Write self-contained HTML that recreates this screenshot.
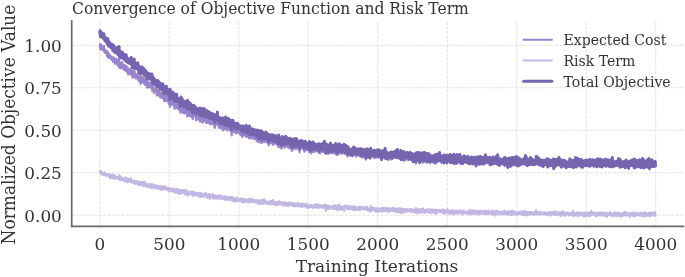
<!DOCTYPE html>
<html><head><meta charset="utf-8"><style>
html,body{margin:0;padding:0;background:#fff;}
svg{display:block;}
text{font-family:"DejaVu Serif","Liberation Serif",serif;fill:#333;}
</style></head><body>
<svg width="685" height="277" viewBox="0 0 685 277">
<rect width="685" height="277" fill="#fff"/>
<g stroke="#dcdcdc" stroke-width="0.85" stroke-dasharray="3.12 1.35" fill="none"><line x1="72.0" y1="215.20" x2="683.4" y2="215.20"/><line x1="72.0" y1="172.72" x2="683.4" y2="172.72"/><line x1="72.0" y1="130.25" x2="683.4" y2="130.25"/><line x1="72.0" y1="87.78" x2="683.4" y2="87.78"/><line x1="72.0" y1="45.30" x2="683.4" y2="45.30"/><line x1="99.79" y1="226.3" x2="99.79" y2="20.8"/><line x1="169.29" y1="226.3" x2="169.29" y2="20.8"/><line x1="238.78" y1="226.3" x2="238.78" y2="20.8"/><line x1="308.27" y1="226.3" x2="308.27" y2="20.8"/><line x1="377.77" y1="226.3" x2="377.77" y2="20.8"/><line x1="447.26" y1="226.3" x2="447.26" y2="20.8"/><line x1="516.76" y1="226.3" x2="516.76" y2="20.8"/><line x1="586.25" y1="226.3" x2="586.25" y2="20.8"/><line x1="655.75" y1="226.3" x2="655.75" y2="20.8"/></g>
<g fill="none" stroke-linejoin="round" stroke-linecap="butt"><polyline stroke="#9a84cc" stroke-width="2.1" points="99.79,44.56 99.93,47.24 100.07,44.06 100.21,43.87 100.35,49.44 100.49,48.39 100.62,45.88 100.76,46.88 100.90,46.48 101.04,48.21 101.18,45.13 101.32,45.49 101.46,46.98 101.60,45.16 101.74,46.56 101.88,49.20 102.01,47.07 102.15,49.71 102.29,46.44 102.43,48.34 102.57,48.76 102.71,49.84 102.85,46.45 102.99,49.18 103.13,49.85 103.27,49.87 103.40,48.38 103.54,48.85 103.68,48.92 103.82,49.05 103.96,46.01 104.10,50.93 104.24,51.28 104.38,52.00 104.52,49.49 104.66,48.68 104.79,51.16 104.93,52.67 105.07,52.80 105.21,50.20 105.35,50.18 105.49,50.70 105.63,53.11 105.77,51.59 105.91,51.95 106.05,51.91 106.18,50.84 106.32,52.20 106.46,51.50 106.60,52.79 106.74,52.52 106.88,52.03 107.02,56.08 107.16,54.09 107.30,54.52 107.44,54.98 107.57,54.44 107.71,51.27 107.85,55.83 107.99,52.54 108.13,57.63 108.27,55.25 108.41,54.46 108.55,53.80 108.69,53.70 108.83,53.68 108.96,55.95 109.10,56.29 109.24,53.96 109.38,56.05 109.52,58.21 109.66,58.07 109.80,57.80 109.94,55.28 110.08,56.07 110.22,55.17 110.35,57.39 110.49,56.42 110.63,55.67 110.77,57.54 110.91,56.24 111.05,58.45 111.19,58.02 111.33,58.18 111.47,59.82 111.60,56.80 111.74,58.71 111.88,57.93 112.02,57.18 112.16,57.37 112.30,57.08 112.44,58.63 112.58,59.35 112.72,58.83 112.86,61.96 112.99,61.63 113.13,61.52 113.27,61.03 113.41,58.53 113.55,61.09 113.69,60.23 113.83,57.21 113.97,60.42 114.11,58.49 114.25,61.73 114.38,60.49 114.52,62.00 114.66,60.97 114.80,58.88 114.94,63.80 115.08,59.87 115.22,60.35 115.36,62.02 115.50,63.73 115.64,61.01 115.77,62.24 115.91,60.93 116.05,61.44 116.19,58.60 116.33,62.15 116.47,63.73 116.61,61.59 116.75,61.63 116.89,59.61 117.03,60.70 117.16,61.71 117.30,59.75 117.44,64.82 117.58,63.90 117.72,64.55 117.86,63.65 118.00,65.61 118.14,61.96 118.28,63.67 118.42,66.11 118.55,65.37 118.69,62.99 118.83,62.12 118.97,60.06 119.11,58.45 119.25,63.23 119.39,65.96 119.53,68.21 119.67,63.83 119.81,65.95 119.94,65.32 120.08,65.79 120.22,65.02 120.36,62.87 120.50,64.67 120.64,65.37 120.78,67.11 120.92,68.41 121.06,66.29 121.20,65.59 121.33,62.29 121.47,65.45 121.61,63.96 121.75,66.84 121.89,68.22 122.03,67.91 122.17,67.57 122.31,62.34 122.45,67.95 122.59,64.95 122.72,68.31 122.86,64.99 123.00,66.11 123.14,67.22 123.28,67.11 123.42,68.36 123.56,66.40 123.70,68.19 123.84,69.73 123.98,69.93 124.11,67.32 124.25,64.79 124.39,67.54 124.53,68.17 124.67,67.51 124.81,65.70 124.95,67.84 125.09,69.11 125.23,66.38 125.36,67.74 125.50,65.78 125.64,68.40 125.78,71.13 125.92,71.50 126.06,65.96 126.20,65.92 126.34,69.58 126.48,70.06 126.62,66.71 126.75,71.61 126.89,71.31 127.03,68.54 127.17,70.58 127.31,69.95 127.45,70.34 127.59,69.50 127.73,67.60 127.87,70.16 128.01,69.23 128.14,74.36 128.28,70.72 128.42,72.30 128.56,73.10 128.70,72.56 128.84,71.64 128.98,69.41 129.12,73.69 129.26,71.26 129.40,72.32 129.53,72.12 129.67,69.73 129.81,70.70 129.95,69.30 130.09,72.19 130.23,73.30 130.37,72.51 130.51,71.74 130.65,71.96 130.79,74.42 130.92,72.32 131.06,72.16 131.20,67.98 131.34,69.27 131.48,74.47 131.62,73.51 131.76,75.81 131.90,74.28 132.04,72.68 132.18,71.11 132.31,74.83 132.45,74.78 132.59,77.67 132.73,74.06 132.87,75.84 133.01,74.94 133.15,75.69 133.29,74.33 133.43,77.53 133.57,77.09 133.70,70.46 133.84,76.95 133.98,76.69 134.12,71.31 134.26,69.41 134.40,77.13 134.54,75.72 134.68,74.49 134.82,72.00 134.96,77.17 135.09,75.89 135.23,74.07 135.37,74.81 135.51,76.43 135.65,76.07 135.79,78.49 135.93,76.47 136.07,76.62 136.21,75.79 136.35,77.36 136.48,75.54 136.62,74.62 136.76,76.32 136.90,76.05 137.04,76.71 137.18,76.90 137.32,78.35 137.46,76.50 137.60,77.37 137.73,73.37 137.87,74.44 138.01,76.75 138.15,78.99 138.29,79.74 138.43,75.53 138.57,77.36 138.71,77.05 138.85,81.30 138.99,76.40 139.12,77.37 139.26,80.39 139.40,79.29 139.54,78.01 139.68,78.49 139.82,79.23 139.96,78.97 140.10,79.34 140.24,78.67 140.38,76.30 140.51,83.94 140.65,79.67 140.79,78.99 140.93,78.86 141.07,80.20 141.21,82.88 141.35,79.07 141.49,76.55 141.63,82.73 141.77,78.34 141.90,80.66 142.04,80.25 142.18,82.20 142.32,80.94 142.46,77.98 142.60,79.41 142.74,77.35 142.88,78.48 143.02,79.95 143.16,77.60 143.29,80.13 143.43,79.49 143.57,81.69 143.71,81.10 143.85,82.62 143.99,79.55 144.13,83.70 144.27,80.12 144.41,82.03 144.55,79.58 144.68,80.46 144.82,78.55 144.96,80.68 145.10,85.07 145.24,82.35 145.38,84.51 145.52,83.38 145.66,79.68 145.80,81.40 145.94,83.99 146.07,84.68 146.21,82.81 146.35,85.24 146.49,84.32 146.63,82.57 146.77,81.09 146.91,82.21 147.05,87.72 147.19,82.97 147.33,83.49 147.46,82.95 147.60,80.80 147.74,87.77 147.88,85.12 148.02,83.01 148.16,87.16 148.30,81.55 148.44,83.71 148.58,82.92 148.72,85.67 148.85,83.18 148.99,82.80 149.13,84.46 149.27,84.56 149.41,84.59 149.55,86.81 149.69,85.57 149.83,85.68 149.97,84.78 150.11,83.74 150.24,87.69 150.38,86.04 150.52,83.15 150.66,87.41 150.80,87.66 150.94,85.85 151.08,84.76 151.22,86.42 151.36,84.07 151.49,85.06 151.63,85.20 151.77,85.84 151.91,82.64 152.05,87.48 152.19,90.95 152.33,84.32 152.47,88.29 152.61,87.34 152.75,85.21 152.88,90.76 153.02,90.22 153.16,90.99 153.30,89.59 153.44,87.40 153.58,87.36 153.72,87.94 153.86,91.21 154.00,93.00 154.14,88.70 154.27,89.80 154.41,88.18 154.55,87.84 154.69,89.01 154.83,87.97 154.97,89.08 155.11,88.63 155.25,91.06 155.39,90.19 155.53,89.61 155.66,88.56 155.80,90.95 155.94,89.36 156.08,90.95 156.22,90.79 156.36,89.14 156.50,94.54 156.64,93.36 156.78,93.82 156.92,95.54 157.05,92.56 157.19,90.01 157.33,92.07 157.47,91.29 157.61,89.74 157.75,89.42 157.89,92.15 158.03,89.61 158.17,92.09 158.31,93.95 158.44,93.61 158.58,95.39 158.72,94.40 158.86,93.53 159.00,91.48 159.14,89.89 159.28,95.81 159.42,92.61 159.56,95.41 159.70,92.70 159.83,93.95 159.97,97.25 160.11,92.21 160.25,95.19 160.39,95.18 160.53,96.30 160.67,95.64 160.81,93.74 160.95,95.01 161.09,94.16 161.22,94.22 161.36,92.54 161.50,95.77 161.64,98.01 161.78,93.37 161.92,96.10 162.06,93.51 162.20,95.00 162.34,96.07 162.48,95.29 162.61,92.41 162.75,92.29 162.89,96.16 163.03,96.10 163.17,94.50 163.31,98.21 163.45,96.12 163.59,96.90 163.73,96.38 163.86,98.64 164.00,100.16 164.14,101.17 164.28,99.50 164.42,98.38 164.56,98.18 164.70,94.12 164.84,95.78 164.98,99.75 165.12,97.41 165.25,98.93 165.39,98.80 165.53,98.03 165.67,97.33 165.81,99.22 165.95,96.70 166.09,100.93 166.23,98.88 166.37,94.14 166.51,98.68 166.64,96.52 166.78,99.13 166.92,98.31 167.06,99.60 167.20,99.91 167.34,101.15 167.48,98.98 167.62,101.47 167.76,98.74 167.90,98.05 168.03,99.49 168.17,100.80 168.31,99.51 168.45,101.04 168.59,98.81 168.73,104.07 168.87,101.37 169.01,104.56 169.15,103.73 169.29,98.48 169.42,99.45 169.56,102.56 169.70,104.12 169.84,106.95 169.98,102.52 170.12,97.07 170.26,100.88 170.40,102.83 170.54,101.01 170.68,104.89 170.81,102.62 170.95,101.97 171.09,102.41 171.23,100.87 171.37,101.79 171.51,101.28 171.65,103.91 171.79,101.04 171.93,99.76 172.07,104.71 172.20,104.65 172.34,100.59 172.48,103.53 172.62,100.64 172.76,104.19 172.90,100.73 173.04,103.30 173.18,103.15 173.32,100.80 173.46,104.49 173.59,105.66 173.73,104.83 173.87,103.24 174.01,107.10 174.15,103.07 174.29,105.36 174.43,102.30 174.57,109.01 174.71,106.09 174.85,107.86 174.98,106.35 175.12,104.43 175.26,105.31 175.40,105.54 175.54,105.45 175.68,104.86 175.82,107.22 175.96,104.10 176.10,104.27 176.24,104.87 176.37,104.64 176.51,105.21 176.65,102.05 176.79,106.10 176.93,106.60 177.07,107.52 177.21,108.13 177.35,108.61 177.49,108.03 177.62,106.59 177.76,105.92 177.90,106.53 178.04,108.14 178.18,105.12 178.32,105.50 178.46,107.27 178.60,108.27 178.74,106.11 178.88,106.87 179.01,110.01 179.15,107.51 179.29,106.98 179.43,109.23 179.57,107.28 179.71,110.44 179.85,105.30 179.99,105.55 180.13,108.44 180.27,107.37 180.40,112.63 180.54,110.37 180.68,108.84 180.82,110.38 180.96,107.12 181.10,104.80 181.24,110.81 181.38,110.26 181.52,108.34 181.66,105.84 181.79,111.22 181.93,108.55 182.07,105.69 182.21,112.26 182.35,111.65 182.49,110.12 182.63,110.38 182.77,107.97 182.91,109.11 183.05,112.96 183.18,108.76 183.32,110.88 183.46,107.49 183.60,111.12 183.74,111.22 183.88,109.09 184.02,108.75 184.16,109.42 184.30,113.48 184.44,109.40 184.57,112.41 184.71,110.12 184.85,113.29 184.99,109.87 185.13,112.29 185.27,113.25 185.41,109.59 185.55,110.55 185.69,112.22 185.83,108.43 185.96,112.04 186.10,111.23 186.24,110.86 186.38,112.59 186.52,110.63 186.66,112.58 186.80,112.42 186.94,109.18 187.08,113.74 187.22,116.37 187.35,108.92 187.49,107.24 187.63,112.83 187.77,115.76 187.91,112.79 188.05,112.82 188.19,112.71 188.33,114.50 188.47,111.40 188.61,111.58 188.74,115.42 188.88,111.38 189.02,108.92 189.16,112.50 189.30,113.52 189.44,113.22 189.58,111.87 189.72,116.32 189.86,112.85 189.99,113.95 190.13,109.83 190.27,113.68 190.41,110.30 190.55,115.54 190.69,112.45 190.83,113.01 190.97,115.30 191.11,113.40 191.25,111.53 191.38,114.47 191.52,117.09 191.66,114.02 191.80,115.74 191.94,114.76 192.08,114.33 192.22,117.43 192.36,117.32 192.50,113.46 192.64,115.40 192.77,119.28 192.91,113.08 193.05,114.10 193.19,116.01 193.33,117.19 193.47,113.23 193.61,114.20 193.75,110.46 193.89,114.19 194.03,114.31 194.16,115.41 194.30,113.63 194.44,114.05 194.58,112.94 194.72,116.31 194.86,116.21 195.00,116.35 195.14,114.04 195.28,112.77 195.42,116.49 195.55,116.48 195.69,115.16 195.83,116.27 195.97,114.09 196.11,120.13 196.25,117.53 196.39,117.50 196.53,120.43 196.67,117.95 196.81,117.92 196.94,116.64 197.08,114.25 197.22,116.84 197.36,118.37 197.50,116.60 197.64,114.59 197.78,118.43 197.92,118.37 198.06,115.68 198.20,117.19 198.33,115.62 198.47,116.91 198.61,115.63 198.75,118.93 198.89,117.08 199.03,117.50 199.17,119.44 199.31,120.14 199.45,115.99 199.59,117.99 199.72,119.29 199.86,117.62 200.00,115.39 200.14,121.81 200.28,120.40 200.42,119.38 200.56,114.98 200.70,117.24 200.84,116.38 200.98,120.00 201.11,120.02 201.25,117.14 201.39,117.92 201.53,117.06 201.67,118.49 201.81,117.67 201.95,117.95 202.09,116.84 202.23,116.84 202.37,121.43 202.50,122.65 202.64,116.63 202.78,116.34 202.92,120.52 203.06,122.14 203.20,118.53 203.34,117.03 203.48,115.46 203.62,117.90 203.75,119.62 203.89,120.64 204.03,119.00 204.17,119.63 204.31,121.02 204.45,115.35 204.59,115.89 204.73,117.16 204.87,121.05 205.01,117.78 205.14,118.24 205.28,118.66 205.42,117.20 205.56,118.40 205.70,118.25 205.84,118.49 205.98,119.10 206.12,123.12 206.26,119.68 206.40,120.93 206.53,122.33 206.67,116.84 206.81,116.80 206.95,117.54 207.09,119.66 207.23,117.66 207.37,120.21 207.51,119.90 207.65,122.38 207.79,119.64 207.92,120.32 208.06,122.92 208.20,120.63 208.34,120.73 208.48,117.27 208.62,119.01 208.76,120.70 208.90,120.31 209.04,120.74 209.18,121.25 209.31,122.94 209.45,121.25 209.59,122.41 209.73,123.40 209.87,120.16 210.01,120.43 210.15,124.55 210.29,121.49 210.43,119.45 210.57,119.38 210.70,119.49 210.84,121.38 210.98,123.08 211.12,123.58 211.26,120.95 211.40,120.94 211.54,119.29 211.68,119.69 211.82,122.04 211.96,124.16 212.09,122.48 212.23,121.53 212.37,122.36 212.51,123.11 212.65,121.60 212.79,123.07 212.93,123.35 213.07,121.64 213.21,123.02 213.35,121.86 213.48,121.85 213.62,124.54 213.76,123.36 213.90,119.82 214.04,124.72 214.18,126.56 214.32,126.13 214.46,122.64 214.60,122.68 214.74,123.01 214.87,120.57 215.01,127.88 215.15,122.19 215.29,120.06 215.43,125.13 215.57,123.78 215.71,124.53 215.85,124.84 215.99,123.82 216.12,120.59 216.26,119.87 216.40,123.98 216.54,119.84 216.68,123.38 216.82,120.22 216.96,123.72 217.10,123.35 217.24,122.96 217.38,117.75 217.51,122.14 217.65,125.10 217.79,122.02 217.93,124.55 218.07,124.84 218.21,122.27 218.35,123.96 218.49,123.54 218.63,124.09 218.77,123.53 218.90,123.41 219.04,127.87 219.18,123.05 219.32,126.18 219.46,127.09 219.60,124.55 219.74,124.33 219.88,125.83 220.02,123.03 220.16,127.14 220.29,125.44 220.43,125.82 220.57,124.86 220.71,124.30 220.85,126.75 220.99,123.56 221.13,124.85 221.27,128.55 221.41,128.72 221.55,125.13 221.68,125.57 221.82,125.40 221.96,125.30 222.10,124.88 222.24,123.58 222.38,127.47 222.52,127.63 222.66,127.53 222.80,125.00 222.94,123.26 223.07,126.44 223.21,130.36 223.35,128.91 223.49,127.34 223.63,126.87 223.77,126.64 223.91,125.85 224.05,126.55 224.19,124.06 224.33,127.33 224.46,127.73 224.60,125.27 224.74,129.08 224.88,125.53 225.02,126.12 225.16,126.64 225.30,123.44 225.44,127.62 225.58,122.66 225.72,126.98 225.85,128.99 225.99,126.52 226.13,128.71 226.27,128.16 226.41,126.06 226.55,125.81 226.69,128.06 226.83,125.10 226.97,124.84 227.11,124.36 227.24,126.11 227.38,124.60 227.52,130.71 227.66,127.84 227.80,128.92 227.94,127.12 228.08,128.47 228.22,127.76 228.36,123.98 228.49,127.87 228.63,126.83 228.77,128.08 228.91,127.56 229.05,127.74 229.19,126.96 229.33,125.67 229.47,124.82 229.61,127.38 229.75,126.90 229.88,130.21 230.02,128.27 230.16,126.40 230.30,126.59 230.44,127.87 230.58,126.66 230.72,127.45 230.86,126.17 231.00,127.93 231.14,129.19 231.27,127.95 231.41,134.10 231.55,127.96 231.69,135.55 231.83,132.00 231.97,127.99 232.11,128.00 232.25,131.12 232.39,130.33 232.53,126.49 232.66,130.01 232.80,124.96 232.94,129.21 233.08,128.50 233.22,126.29 233.36,129.13 233.50,131.30 233.64,129.68 233.78,129.60 233.92,132.14 234.05,130.12 234.19,131.08 234.33,128.02 234.47,129.74 234.61,130.39 234.75,130.11 234.89,129.55 235.03,128.87 235.17,131.94 235.31,132.08 235.44,128.12 235.58,131.01 235.72,132.94 235.86,129.52 236.00,129.54 236.14,133.32 236.28,130.08 236.42,129.19 236.56,129.92 236.70,129.50 236.83,133.36 236.97,130.17 237.11,131.41 237.25,131.80 237.39,129.32 237.53,128.24 237.67,127.71 237.81,128.66 237.95,131.37 238.09,130.57 238.22,129.85 238.36,131.11 238.50,131.14 238.64,129.90 238.78,131.61 238.92,132.91 239.06,132.38 239.20,130.48 239.34,131.71 239.48,131.13 239.61,130.57 239.75,132.58 239.89,130.52 240.03,131.28 240.17,134.35 240.31,129.40 240.45,133.08 240.59,135.29 240.73,134.21 240.87,134.21 241.00,132.26 241.14,132.92 241.28,133.09 241.42,131.36 241.56,131.94 241.70,132.03 241.84,131.91 241.98,131.58 242.12,136.72 242.25,133.51 242.39,136.96 242.53,132.87 242.67,133.00 242.81,131.09 242.95,130.87 243.09,132.77 243.23,134.13 243.37,132.34 243.51,134.28 243.64,133.35 243.78,131.56 243.92,134.49 244.06,132.00 244.20,132.29 244.34,135.39 244.48,131.83 244.62,132.40 244.76,133.56 244.90,135.22 245.03,135.45 245.17,134.90 245.31,132.93 245.45,135.78 245.59,133.23 245.73,136.41 245.87,134.52 246.01,133.98 246.15,129.67 246.29,136.86 246.42,131.58 246.56,134.10 246.70,133.65 246.84,134.25 246.98,133.68 247.12,134.85 247.26,131.89 247.40,135.51 247.54,132.58 247.68,135.95 247.81,134.90 247.95,136.84 248.09,134.03 248.23,132.22 248.37,135.11 248.51,135.38 248.65,137.13 248.79,135.52 248.93,138.11 249.07,136.88 249.20,134.80 249.34,132.80 249.48,130.05 249.62,136.44 249.76,132.70 249.90,134.97 250.04,135.75 250.18,134.70 250.32,135.43 250.46,135.38 250.59,136.39 250.73,138.28 250.87,138.59 251.01,134.53 251.15,136.31 251.29,136.94 251.43,135.85 251.57,134.42 251.71,135.61 251.85,137.22 251.98,133.74 252.12,133.12 252.26,135.19 252.40,134.33 252.54,133.87 252.68,134.12 252.82,135.12 252.96,135.19 253.10,135.38 253.24,138.44 253.37,135.12 253.51,139.00 253.65,137.99 253.79,134.11 253.93,135.02 254.07,133.85 254.21,137.17 254.35,138.86 254.49,137.19 254.62,136.59 254.76,136.68 254.90,134.75 255.04,137.58 255.18,136.28 255.32,138.83 255.46,136.18 255.60,137.05 255.74,138.50 255.88,137.58 256.01,137.52 256.15,137.72 256.29,133.94 256.43,137.48 256.57,137.79 256.71,141.29 256.85,139.08 256.99,137.94 257.13,138.77 257.27,134.94 257.40,137.87 257.54,135.20 257.68,137.53 257.82,137.61 257.96,137.89 258.10,137.75 258.24,134.59 258.38,142.17 258.52,141.61 258.66,138.93 258.79,137.92 258.93,136.70 259.07,137.14 259.21,138.78 259.35,136.20 259.49,136.22 259.63,137.84 259.77,136.42 259.91,137.75 260.05,139.34 260.18,137.03 260.32,138.16 260.46,138.40 260.60,135.69 260.74,143.06 260.88,141.17 261.02,140.78 261.16,139.27 261.30,139.11 261.44,141.49 261.57,140.55 261.71,140.35 261.85,134.19 261.99,135.45 262.13,139.63 262.27,139.58 262.41,141.08 262.55,142.54 262.69,139.23 262.83,140.91 262.96,139.24 263.10,142.11 263.24,140.58 263.38,138.91 263.52,138.54 263.66,138.49 263.80,141.77 263.94,137.74 264.08,140.87 264.22,138.23 264.35,139.47 264.49,142.06 264.63,140.11 264.77,138.88 264.91,138.45 265.05,139.90 265.19,136.81 265.33,137.82 265.47,140.22 265.61,138.38 265.74,136.20 265.88,136.19 266.02,142.18 266.16,141.65 266.30,137.18 266.44,141.97 266.58,142.50 266.72,140.97 266.86,139.32 267.00,140.33 267.13,141.39 267.27,141.47 267.41,141.57 267.55,141.92 267.69,136.05 267.83,139.79 267.97,138.73 268.11,141.33 268.25,140.80 268.38,141.82 268.52,145.48 268.66,143.14 268.80,143.98 268.94,144.84 269.08,142.90 269.22,138.23 269.36,140.82 269.50,138.36 269.64,140.04 269.77,139.38 269.91,142.56 270.05,139.93 270.19,139.58 270.33,142.06 270.47,139.97 270.61,139.99 270.75,142.11 270.89,143.21 271.03,143.36 271.16,141.02 271.30,140.61 271.44,142.73 271.58,141.24 271.72,140.25 271.86,140.20 272.00,138.49 272.14,139.04 272.28,143.33 272.42,138.34 272.55,142.52 272.69,139.60 272.83,141.46 272.97,142.39 273.11,145.04 273.25,142.01 273.39,144.64 273.53,139.95 273.67,138.96 273.81,143.31 273.94,141.29 274.08,143.25 274.22,143.10 274.36,140.51 274.50,142.06 274.64,138.77 274.78,142.96 274.92,140.22 275.06,141.94 275.20,140.66 275.33,143.02 275.47,142.31 275.61,142.47 275.75,143.84 275.89,141.08 276.03,141.13 276.17,141.27 276.31,139.54 276.45,139.73 276.59,143.18 276.72,141.81 276.86,143.70 277.00,142.53 277.14,143.72 277.28,139.61 277.42,141.99 277.56,143.10 277.70,140.50 277.84,146.82 277.98,146.55 278.11,141.33 278.25,142.74 278.39,142.42 278.53,145.39 278.67,142.99 278.81,139.23 278.95,141.47 279.09,142.72 279.23,143.89 279.37,143.84 279.50,147.11 279.64,142.68 279.78,141.61 279.92,146.17 280.06,144.49 280.20,145.45 280.34,145.12 280.48,143.24 280.62,147.27 280.75,142.26 280.89,142.03 281.03,143.93 281.17,148.13 281.31,145.39 281.45,141.25 281.59,148.78 281.73,144.26 281.87,145.85 282.01,142.17 282.14,144.96 282.28,142.98 282.42,142.70 282.56,140.36 282.70,144.20 282.84,143.15 282.98,146.65 283.12,141.68 283.26,145.36 283.40,145.01 283.53,144.03 283.67,146.94 283.81,143.62 283.95,142.27 284.09,143.56 284.23,147.10 284.37,144.40 284.51,142.81 284.65,147.73 284.79,146.26 284.92,142.64 285.06,143.80 285.20,143.56 285.34,140.88 285.48,143.51 285.62,143.19 285.76,139.38 285.90,144.87 286.04,145.99 286.18,143.73 286.31,143.73 286.45,145.56 286.59,146.54 286.73,140.32 286.87,144.05 287.01,146.06 287.15,143.00 287.29,144.95 287.43,145.24 287.57,143.75 287.70,147.24 287.84,144.19 287.98,141.30 288.12,144.03 288.26,145.63 288.40,145.90 288.54,145.75 288.68,145.48 288.82,145.74 288.96,143.35 289.09,148.32 289.23,143.50 289.37,145.85 289.51,144.46 289.65,147.29 289.79,142.73 289.93,142.91 290.07,143.47 290.21,148.12 290.35,143.77 290.48,144.58 290.62,148.37 290.76,145.44 290.90,144.73 291.04,144.40 291.18,145.13 291.32,144.94 291.46,142.76 291.60,143.25 291.74,150.92 291.87,146.18 292.01,145.92 292.15,148.91 292.29,145.48 292.43,143.35 292.57,147.74 292.71,145.10 292.85,147.47 292.99,147.03 293.13,143.04 293.26,146.84 293.40,144.99 293.54,149.37 293.68,142.42 293.82,144.79 293.96,146.28 294.10,144.89 294.24,148.62 294.38,143.80 294.51,146.64 294.65,146.44 294.79,147.00 294.93,147.19 295.07,144.83 295.21,145.67 295.35,144.95 295.49,146.21 295.63,145.26 295.77,147.02 295.90,142.09 296.04,149.21 296.18,143.95 296.32,143.77 296.46,147.94 296.60,142.20 296.74,144.53 296.88,144.60 297.02,146.38 297.16,146.86 297.29,146.87 297.43,145.77 297.57,143.90 297.71,146.20 297.85,148.26 297.99,145.04 298.13,144.88 298.27,145.40 298.41,145.25 298.55,147.17 298.68,148.42 298.82,148.32 298.96,149.78 299.10,146.30 299.24,146.92 299.38,147.60 299.52,152.33 299.66,149.15 299.80,144.75 299.94,148.10 300.07,146.21 300.21,149.50 300.35,144.23 300.49,147.21 300.63,146.42 300.77,142.63 300.91,144.16 301.05,147.59 301.19,148.14 301.33,147.66 301.46,146.12 301.60,147.29 301.74,147.85 301.88,144.38 302.02,147.36 302.16,142.87 302.30,147.01 302.44,143.86 302.58,146.55 302.72,145.44 302.85,148.61 302.99,148.87 303.13,146.43 303.27,145.46 303.41,147.25 303.55,149.75 303.69,149.90 303.83,150.04 303.97,150.70 304.11,147.21 304.24,145.33 304.38,147.47 304.52,151.69 304.66,147.84 304.80,147.80 304.94,143.60 305.08,150.25 305.22,148.28 305.36,144.38 305.50,146.74 305.63,146.54 305.77,147.40 305.91,147.01 306.05,146.19 306.19,149.18 306.33,146.04 306.47,150.26 306.61,147.10 306.75,147.39 306.88,148.90 307.02,147.80 307.16,148.94 307.30,149.79 307.44,148.47 307.58,149.89 307.72,147.24 307.86,150.00 308.00,146.54 308.14,150.09 308.27,148.96 308.41,149.08 308.55,145.46 308.69,147.33 308.83,148.36 308.97,147.05 309.11,151.93 309.25,148.09 309.39,144.29 309.53,147.79 309.66,147.93 309.80,147.04 309.94,146.41 310.08,151.83 310.22,151.26 310.36,147.73 310.50,149.48 310.64,145.70 310.78,148.76 310.92,151.80 311.05,150.57 311.19,153.35 311.33,148.67 311.47,148.60 311.61,149.05 311.75,146.26 311.89,146.05 312.03,148.62 312.17,152.30 312.31,147.18 312.44,147.31 312.58,147.78 312.72,146.54 312.86,150.56 313.00,144.65 313.14,150.21 313.28,147.03 313.42,151.59 313.56,150.19 313.70,145.64 313.83,148.97 313.97,146.93 314.11,148.07 314.25,148.72 314.39,145.99 314.53,148.99 314.67,151.89 314.81,150.08 314.95,147.56 315.09,147.87 315.22,151.55 315.36,149.99 315.50,149.73 315.64,149.34 315.78,151.24 315.92,149.86 316.06,150.06 316.20,147.27 316.34,147.21 316.48,149.01 316.61,149.48 316.75,148.50 316.89,150.30 317.03,150.93 317.17,150.56 317.31,150.00 317.45,151.00 317.59,148.54 317.73,147.49 317.87,151.84 318.00,148.83 318.14,149.31 318.28,148.27 318.42,148.94 318.56,151.65 318.70,151.31 318.84,148.90 318.98,147.05 319.12,153.12 319.26,148.35 319.39,146.79 319.53,149.31 319.67,148.01 319.81,150.36 319.95,149.28 320.09,152.10 320.23,153.47 320.37,147.34 320.51,150.95 320.64,149.98 320.78,151.73 320.92,151.79 321.06,149.49 321.20,150.54 321.34,148.48 321.48,148.36 321.62,148.61 321.76,148.78 321.90,146.29 322.03,151.25 322.17,149.37 322.31,147.16 322.45,146.93 322.59,151.96 322.73,149.90 322.87,146.79 323.01,148.39 323.15,148.99 323.29,149.77 323.42,150.09 323.56,148.85 323.70,149.87 323.84,149.50 323.98,149.28 324.12,150.71 324.26,148.46 324.40,144.02 324.54,152.80 324.68,148.89 324.81,150.92 324.95,148.44 325.09,149.44 325.23,148.12 325.37,147.36 325.51,149.21 325.65,147.46 325.79,153.97 325.93,146.63 326.07,148.92 326.20,147.62 326.34,151.92 326.48,151.21 326.62,149.40 326.76,149.71 326.90,149.17 327.04,147.68 327.18,153.02 327.32,147.91 327.46,149.73 327.59,150.14 327.73,152.52 327.87,148.84 328.01,154.31 328.15,148.60 328.29,152.61 328.43,149.74 328.57,150.07 328.71,147.68 328.85,150.21 328.98,151.18 329.12,150.85 329.26,147.53 329.40,148.92 329.54,150.66 329.68,150.39 329.82,152.89 329.96,149.25 330.10,153.28 330.24,148.60 330.37,149.78 330.51,145.57 330.65,152.10 330.79,150.25 330.93,146.71 331.07,147.86 331.21,151.40 331.35,149.69 331.49,150.12 331.63,149.61 331.76,151.46 331.90,150.33 332.04,153.17 332.18,149.94 332.32,149.37 332.46,150.64 332.60,153.25 332.74,148.40 332.88,149.58 333.01,151.63 333.15,150.81 333.29,153.11 333.43,152.23 333.57,151.34 333.71,148.05 333.85,151.55 333.99,149.18 334.13,151.39 334.27,149.94 334.40,150.68 334.54,148.80 334.68,151.44 334.82,153.40 334.96,153.05 335.10,151.48 335.24,152.83 335.38,149.75 335.52,151.40 335.66,146.11 335.79,153.81 335.93,150.19 336.07,152.70 336.21,151.52 336.35,150.35 336.49,154.98 336.63,150.20 336.77,147.10 336.91,151.52 337.05,150.20 337.18,148.79 337.32,151.03 337.46,151.82 337.60,155.00 337.74,149.57 337.88,150.99 338.02,152.69 338.16,150.57 338.30,151.92 338.44,151.83 338.57,149.72 338.71,153.37 338.85,148.93 338.99,153.51 339.13,152.15 339.27,147.34 339.41,148.84 339.55,150.78 339.69,152.73 339.83,151.98 339.96,150.87 340.10,150.95 340.24,151.21 340.38,151.11 340.52,151.47 340.66,153.78 340.80,152.07 340.94,149.41 341.08,153.69 341.22,151.50 341.35,152.69 341.49,150.97 341.63,151.92 341.77,148.45 341.91,150.28 342.05,153.69 342.19,150.00 342.33,152.72 342.47,152.36 342.61,150.72 342.74,152.24 342.88,149.66 343.02,152.80 343.16,152.52 343.30,152.61 343.44,152.45 343.58,149.36 343.72,150.25 343.86,148.25 344.00,147.22 344.13,153.40 344.27,151.36 344.41,153.71 344.55,152.98 344.69,152.72 344.83,153.53 344.97,153.54 345.11,151.86 345.25,153.88 345.38,150.04 345.52,153.35 345.66,146.40 345.80,152.51 345.94,151.55 346.08,154.12 346.22,148.53 346.36,149.64 346.50,151.19 346.64,154.28 346.77,151.38 346.91,153.89 347.05,149.08 347.19,150.31 347.33,151.66 347.47,156.41 347.61,153.71 347.75,150.60 347.89,149.64 348.03,149.85 348.16,154.91 348.30,151.39 348.44,150.07 348.58,155.09 348.72,152.02 348.86,151.51 349.00,152.60 349.14,155.51 349.28,152.68 349.42,152.69 349.55,152.38 349.69,153.17 349.83,152.96 349.97,152.22 350.11,151.34 350.25,152.75 350.39,152.96 350.53,152.04 350.67,155.82 350.81,151.35 350.94,152.26 351.08,152.20 351.22,150.50 351.36,155.96 351.50,156.01 351.64,151.83 351.78,152.37 351.92,152.06 352.06,153.25 352.20,151.16 352.33,150.68 352.47,151.53 352.61,152.94 352.75,156.41 352.89,151.05 353.03,150.22 353.17,151.31 353.31,154.18 353.45,151.29 353.59,150.96 353.72,149.67 353.86,154.24 354.00,153.04 354.14,151.23 354.28,152.54 354.42,154.75 354.56,151.90 354.70,151.61 354.84,152.55 354.98,152.32 355.11,153.23 355.25,150.00 355.39,154.46 355.53,153.89 355.67,152.79 355.81,151.18 355.95,155.64 356.09,155.30 356.23,156.68 356.37,152.83 356.50,154.99 356.64,153.64 356.78,151.70 356.92,154.15 357.06,152.53 357.20,153.54 357.34,151.74 357.48,152.13 357.62,154.32 357.76,153.36 357.89,151.11 358.03,152.34 358.17,155.70 358.31,151.88 358.45,155.15 358.59,150.50 358.73,151.24 358.87,152.63 359.01,152.89 359.14,153.60 359.28,151.95 359.42,153.93 359.56,152.81 359.70,151.64 359.84,154.33 359.98,154.45 360.12,155.55 360.26,155.32 360.40,156.76 360.53,152.00 360.67,150.00 360.81,150.73 360.95,156.45 361.09,152.07 361.23,150.78 361.37,154.31 361.51,153.28 361.65,157.24 361.79,153.00 361.92,155.50 362.06,153.16 362.20,156.46 362.34,152.55 362.48,151.66 362.62,155.06 362.76,155.73 362.90,157.65 363.04,154.14 363.18,154.74 363.31,156.57 363.45,152.84 363.59,154.54 363.73,155.72 363.87,154.77 364.01,151.74 364.15,152.63 364.29,154.02 364.43,152.63 364.57,155.97 364.70,153.76 364.84,153.56 364.98,154.73 365.12,153.05 365.26,155.34 365.40,152.94 365.54,152.88 365.68,159.37 365.82,151.71 365.96,159.65 366.09,155.12 366.23,152.07 366.37,154.59 366.51,156.75 366.65,156.07 366.79,152.12 366.93,157.65 367.07,151.96 367.21,154.19 367.35,156.33 367.48,155.20 367.62,156.03 367.76,152.52 367.90,152.79 368.04,157.38 368.18,154.94 368.32,155.81 368.46,151.80 368.60,156.75 368.74,151.24 368.87,154.32 369.01,156.44 369.15,155.55 369.29,155.80 369.43,156.69 369.57,154.15 369.71,156.63 369.85,158.43 369.99,155.08 370.13,157.75 370.26,155.80 370.40,156.11 370.54,156.05 370.68,150.70 370.82,154.34 370.96,154.00 371.10,157.80 371.24,155.71 371.38,154.10 371.51,156.43 371.65,152.83 371.79,156.79 371.93,155.09 372.07,155.67 372.21,154.28 372.35,155.79 372.49,155.12 372.63,155.06 372.77,156.01 372.90,153.74 373.04,154.22 373.18,154.84 373.32,155.49 373.46,153.21 373.60,155.16 373.74,155.30 373.88,154.54 374.02,151.58 374.16,157.27 374.29,153.34 374.43,158.33 374.57,154.40 374.71,151.87 374.85,153.92 374.99,154.52 375.13,155.90 375.27,154.81 375.41,155.35 375.55,156.36 375.68,155.44 375.82,154.54 375.96,156.36 376.10,156.45 376.24,157.49 376.38,154.23 376.52,153.96 376.66,154.55 376.80,153.20 376.94,154.85 377.07,154.29 377.21,154.47 377.35,155.22 377.49,156.05 377.63,150.93 377.77,155.93 377.91,156.34 378.05,154.29 378.19,154.64 378.33,157.75 378.46,153.04 378.60,155.33 378.74,157.24 378.88,152.95 379.02,154.02 379.16,157.56 379.30,151.89 379.44,153.99 379.58,155.25 379.72,152.27 379.85,154.96 379.99,155.32 380.13,156.51 380.27,154.20 380.41,154.41 380.55,155.28 380.69,156.80 380.83,155.09 380.97,155.47 381.11,157.85 381.24,158.12 381.38,154.32 381.52,160.25 381.66,155.02 381.80,156.31 381.94,152.98 382.08,156.36 382.22,154.21 382.36,156.20 382.50,155.26 382.63,154.10 382.77,156.35 382.91,153.64 383.05,157.37 383.19,154.97 383.33,153.81 383.47,154.31 383.61,151.98 383.75,157.00 383.89,158.16 384.02,157.45 384.16,154.37 384.30,154.68 384.44,155.43 384.58,157.73 384.72,154.21 384.86,157.95 385.00,153.50 385.14,150.34 385.27,155.01 385.41,154.61 385.55,156.63 385.69,159.11 385.83,156.86 385.97,157.79 386.11,158.46 386.25,152.55 386.39,155.27 386.53,155.08 386.66,156.38 386.80,156.14 386.94,154.02 387.08,155.89 387.22,154.85 387.36,156.22 387.50,156.51 387.64,158.51 387.78,159.58 387.92,156.39 388.05,155.80 388.19,158.32 388.33,156.00 388.47,155.84 388.61,159.98 388.75,157.67 388.89,155.21 389.03,155.26 389.17,158.15 389.31,155.71 389.44,154.11 389.58,154.58 389.72,156.22 389.86,156.93 390.00,157.24 390.14,155.20 390.28,155.72 390.42,154.92 390.56,155.86 390.70,154.58 390.83,155.95 390.97,154.67 391.11,154.52 391.25,157.66 391.39,159.55 391.53,153.29 391.67,155.71 391.81,159.40 391.95,157.54 392.09,154.78 392.22,156.75 392.36,157.20 392.50,153.64 392.64,158.22 392.78,157.77 392.92,155.89 393.06,155.57 393.20,155.38 393.34,154.61 393.48,155.96 393.61,155.42 393.75,156.83 393.89,156.24 394.03,156.17 394.17,155.98 394.31,154.95 394.45,155.36 394.59,156.33 394.73,157.93 394.87,156.31 395.00,156.49 395.14,156.09 395.28,152.34 395.42,157.45 395.56,155.69 395.70,154.50 395.84,156.32 395.98,152.15 396.12,157.23 396.26,155.93 396.39,158.04 396.53,157.21 396.67,156.10 396.81,154.99 396.95,155.99 397.09,154.24 397.23,156.78 397.37,157.24 397.51,151.57 397.64,155.90 397.78,157.99 397.92,157.96 398.06,158.43 398.20,154.93 398.34,157.37 398.48,156.46 398.62,156.83 398.76,155.35 398.90,158.31 399.03,158.75 399.17,156.33 399.31,155.64 399.45,156.15 399.59,158.29 399.73,155.52 399.87,158.19 400.01,157.79 400.15,158.58 400.29,154.40 400.42,155.66 400.56,155.72 400.70,154.53 400.84,151.61 400.98,160.08 401.12,158.27 401.26,158.05 401.40,158.50 401.54,158.93 401.68,157.49 401.81,159.21 401.95,156.32 402.09,156.86 402.23,156.07 402.37,156.03 402.51,155.86 402.65,157.70 402.79,153.05 402.93,156.58 403.07,160.51 403.20,158.91 403.34,160.30 403.48,157.03 403.62,157.30 403.76,157.95 403.90,153.33 404.04,156.07 404.18,155.75 404.32,158.86 404.46,159.00 404.59,157.07 404.73,156.82 404.87,160.63 405.01,157.50 405.15,157.15 405.29,157.59 405.43,158.72 405.57,158.21 405.71,157.55 405.85,157.06 405.98,156.10 406.12,155.22 406.26,157.80 406.40,158.12 406.54,156.46 406.68,156.14 406.82,158.10 406.96,155.83 407.10,155.48 407.24,154.91 407.37,154.01 407.51,158.96 407.65,157.32 407.79,157.34 407.93,157.55 408.07,158.59 408.21,160.16 408.35,157.22 408.49,158.84 408.63,157.26 408.76,158.91 408.90,159.49 409.04,157.01 409.18,157.17 409.32,156.38 409.46,153.39 409.60,156.96 409.74,156.59 409.88,159.52 410.02,159.92 410.15,154.56 410.29,159.26 410.43,159.49 410.57,157.62 410.71,157.73 410.85,159.25 410.99,158.15 411.13,155.29 411.27,159.10 411.40,160.21 411.54,155.85 411.68,156.70 411.82,158.79 411.96,160.60 412.10,159.04 412.24,157.76 412.38,155.49 412.52,159.62 412.66,157.85 412.79,156.43 412.93,162.16 413.07,155.78 413.21,159.93 413.35,157.11 413.49,157.28 413.63,155.72 413.77,156.73 413.91,162.21 414.05,159.25 414.18,157.53 414.32,158.16 414.46,156.91 414.60,156.34 414.74,156.69 414.88,158.23 415.02,161.29 415.16,158.70 415.30,157.08 415.44,159.91 415.57,156.70 415.71,156.19 415.85,157.66 415.99,163.63 416.13,160.30 416.27,154.40 416.41,158.95 416.55,161.65 416.69,155.64 416.83,157.93 416.96,155.90 417.10,157.46 417.24,157.13 417.38,157.32 417.52,156.70 417.66,153.76 417.80,156.21 417.94,160.98 418.08,157.20 418.22,155.91 418.35,155.81 418.49,158.86 418.63,155.90 418.77,156.35 418.91,153.28 419.05,159.50 419.19,159.06 419.33,158.69 419.47,159.04 419.61,159.80 419.74,163.31 419.88,158.96 420.02,157.47 420.16,159.09 420.30,154.56 420.44,158.16 420.58,155.78 420.72,157.72 420.86,156.67 421.00,157.70 421.13,155.67 421.27,158.13 421.41,157.32 421.55,157.57 421.69,158.80 421.83,157.52 421.97,154.11 422.11,158.80 422.25,157.51 422.39,155.96 422.52,156.18 422.66,158.30 422.80,162.79 422.94,157.38 423.08,162.50 423.22,155.61 423.36,158.05 423.50,156.51 423.64,160.07 423.77,161.29 423.91,157.91 424.05,158.47 424.19,159.34 424.33,158.27 424.47,153.26 424.61,156.88 424.75,156.49 424.89,156.88 425.03,155.70 425.16,158.83 425.30,162.32 425.44,158.84 425.58,156.98 425.72,160.32 425.86,158.85 426.00,159.82 426.14,155.73 426.28,157.14 426.42,157.33 426.55,157.40 426.69,158.64 426.83,158.21 426.97,160.80 427.11,162.68 427.25,158.32 427.39,158.00 427.53,156.36 427.67,155.69 427.81,155.70 427.94,160.50 428.08,159.31 428.22,157.76 428.36,153.93 428.50,155.91 428.64,156.59 428.78,159.41 428.92,160.35 429.06,157.23 429.20,160.77 429.33,159.17 429.47,158.94 429.61,155.76 429.75,159.41 429.89,163.31 430.03,157.82 430.17,160.07 430.31,158.70 430.45,158.95 430.59,159.30 430.72,157.32 430.86,161.67 431.00,159.78 431.14,157.55 431.28,159.98 431.42,161.85 431.56,157.60 431.70,156.76 431.84,158.95 431.98,162.54 432.11,157.56 432.25,161.99 432.39,158.32 432.53,160.56 432.67,161.08 432.81,159.74 432.95,159.27 433.09,160.14 433.23,157.84 433.37,159.78 433.50,157.12 433.64,158.44 433.78,160.28 433.92,160.60 434.06,162.07 434.20,158.45 434.34,159.66 434.48,163.44 434.62,160.02 434.76,160.71 434.89,156.09 435.03,162.22 435.17,161.74 435.31,156.98 435.45,156.53 435.59,160.46 435.73,160.26 435.87,157.93 436.01,163.44 436.14,162.58 436.28,159.63 436.42,156.22 436.56,159.94 436.70,158.94 436.84,157.02 436.98,155.21 437.12,160.23 437.26,159.19 437.40,155.76 437.53,162.02 437.67,157.26 437.81,161.09 437.95,159.01 438.09,159.66 438.23,161.00 438.37,161.06 438.51,158.71 438.65,157.37 438.79,159.48 438.92,159.12 439.06,158.19 439.20,161.08 439.34,157.89 439.48,157.75 439.62,154.42 439.76,160.00 439.90,160.16 440.04,157.87 440.18,157.78 440.31,160.32 440.45,160.08 440.59,158.32 440.73,160.89 440.87,160.12 441.01,159.19 441.15,157.50 441.29,160.50 441.43,162.82 441.57,162.97 441.70,161.75 441.84,161.85 441.98,159.70 442.12,161.64 442.26,160.73 442.40,160.88 442.54,160.26 442.68,156.97 442.82,158.21 442.96,159.43 443.09,160.33 443.23,160.28 443.37,158.87 443.51,158.39 443.65,161.19 443.79,159.43 443.93,163.30 444.07,159.12 444.21,158.10 444.35,160.05 444.48,156.14 444.62,161.19 444.76,159.14 444.90,159.62 445.04,159.75 445.18,159.78 445.32,159.37 445.46,158.00 445.60,157.01 445.74,159.60 445.87,158.08 446.01,160.92 446.15,158.18 446.29,161.05 446.43,157.59 446.57,155.50 446.71,159.87 446.85,163.75 446.99,160.68 447.13,157.36 447.26,158.64 447.40,159.21 447.54,157.80 447.68,158.78 447.82,157.42 447.96,157.98 448.10,156.87 448.24,159.05 448.38,158.03 448.52,160.30 448.65,160.86 448.79,156.55 448.93,159.35 449.07,158.25 449.21,159.53 449.35,160.87 449.49,159.76 449.63,157.10 449.77,158.75 449.90,162.99 450.04,160.20 450.18,156.48 450.32,160.22 450.46,163.19 450.60,156.29 450.74,158.56 450.88,159.97 451.02,160.54 451.16,157.83 451.29,160.88 451.43,157.72 451.57,158.86 451.71,159.42 451.85,159.62 451.99,160.22 452.13,157.95 452.27,161.53 452.41,162.95 452.55,158.77 452.68,158.75 452.82,159.04 452.96,159.18 453.10,160.55 453.24,158.48 453.38,160.05 453.52,160.88 453.66,160.56 453.80,156.20 453.94,163.23 454.07,159.06 454.21,163.14 454.35,160.21 454.49,160.82 454.63,163.92 454.77,159.30 454.91,160.74 455.05,163.96 455.19,158.48 455.33,157.37 455.46,157.27 455.60,159.39 455.74,159.99 455.88,157.60 456.02,156.94 456.16,157.97 456.30,161.86 456.44,159.73 456.58,159.29 456.72,163.50 456.85,159.25 456.99,155.88 457.13,158.94 457.27,157.39 457.41,159.81 457.55,160.29 457.69,159.45 457.83,161.69 457.97,161.98 458.11,157.82 458.24,157.62 458.38,162.05 458.52,158.39 458.66,160.37 458.80,159.58 458.94,159.36 459.08,158.37 459.22,160.08 459.36,157.60 459.50,159.67 459.63,159.09 459.77,161.82 459.91,156.23 460.05,159.39 460.19,158.95 460.33,163.29 460.47,161.83 460.61,157.98 460.75,159.77 460.89,163.89 461.02,158.38 461.16,161.34 461.30,157.69 461.44,160.50 461.58,159.96 461.72,158.14 461.86,162.03 462.00,162.22 462.14,160.73 462.27,158.83 462.41,162.87 462.55,163.50 462.69,158.85 462.83,161.53 462.97,161.14 463.11,163.88 463.25,161.69 463.39,160.44 463.53,158.69 463.66,161.88 463.80,157.35 463.94,161.73 464.08,161.73 464.22,157.59 464.36,160.07 464.50,161.51 464.64,160.77 464.78,157.96 464.92,157.75 465.05,162.03 465.19,160.58 465.33,160.34 465.47,162.36 465.61,160.63 465.75,160.52 465.89,158.41 466.03,158.29 466.17,161.16 466.31,160.95 466.44,159.32 466.58,161.66 466.72,159.47 466.86,160.74 467.00,162.40 467.14,162.38 467.28,157.89 467.42,160.90 467.56,157.54 467.70,161.58 467.83,160.08 467.97,156.16 468.11,162.61 468.25,164.19 468.39,158.24 468.53,162.20 468.67,160.70 468.81,161.76 468.95,160.17 469.09,162.45 469.22,161.02 469.36,159.85 469.50,162.58 469.64,162.01 469.78,161.36 469.92,163.38 470.06,161.51 470.20,160.50 470.34,161.48 470.48,161.24 470.61,160.78 470.75,161.97 470.89,159.46 471.03,158.08 471.17,161.64 471.31,159.87 471.45,161.23 471.59,160.10 471.73,157.87 471.87,159.85 472.00,164.12 472.14,159.96 472.28,158.51 472.42,161.24 472.56,158.97 472.70,162.12 472.84,163.62 472.98,160.58 473.12,164.13 473.26,161.30 473.39,158.46 473.53,164.44 473.67,163.27 473.81,162.81 473.95,161.00 474.09,161.58 474.23,158.28 474.37,159.12 474.51,159.98 474.65,160.64 474.78,160.19 474.92,162.54 475.06,159.33 475.20,163.02 475.34,159.38 475.48,158.73 475.62,160.56 475.76,161.29 475.90,160.22 476.03,166.32 476.17,160.41 476.31,161.20 476.45,161.09 476.59,159.68 476.73,161.14 476.87,163.14 477.01,161.28 477.15,160.89 477.29,160.81 477.42,160.73 477.56,159.09 477.70,163.07 477.84,160.72 477.98,158.64 478.12,164.30 478.26,160.73 478.40,162.16 478.54,161.77 478.68,162.77 478.81,161.40 478.95,157.65 479.09,163.46 479.23,163.29 479.37,163.54 479.51,157.89 479.65,161.99 479.79,161.17 479.93,161.89 480.07,162.90 480.20,161.58 480.34,156.55 480.48,158.55 480.62,162.75 480.76,159.96 480.90,162.73 481.04,164.50 481.18,159.28 481.32,159.02 481.46,159.24 481.59,162.08 481.73,161.52 481.87,159.81 482.01,160.48 482.15,161.96 482.29,164.25 482.43,161.02 482.57,159.22 482.71,163.48 482.85,160.05 482.98,160.63 483.12,159.86 483.26,159.63 483.40,162.57 483.54,164.30 483.68,162.28 483.82,159.62 483.96,162.30 484.10,162.59 484.24,164.71 484.37,158.03 484.51,159.77 484.65,159.88 484.79,159.52 484.93,160.25 485.07,161.79 485.21,161.65 485.35,162.14 485.49,156.43 485.63,160.32 485.76,162.23 485.90,160.50 486.04,163.26 486.18,158.56 486.32,162.62 486.46,160.45 486.60,159.40 486.74,160.68 486.88,161.23 487.02,161.39 487.15,161.52 487.29,162.50 487.43,162.26 487.57,158.66 487.71,161.64 487.85,162.91 487.99,162.41 488.13,159.39 488.27,160.19 488.40,160.41 488.54,161.95 488.68,160.40 488.82,162.68 488.96,161.97 489.10,159.67 489.24,159.86 489.38,163.33 489.52,163.10 489.66,161.30 489.79,158.28 489.93,165.10 490.07,161.00 490.21,164.10 490.35,162.72 490.49,162.22 490.63,162.33 490.77,162.54 490.91,161.54 491.05,162.56 491.18,164.29 491.32,160.11 491.46,160.16 491.60,160.00 491.74,164.46 491.88,161.03 492.02,160.33 492.16,163.52 492.30,161.58 492.44,161.82 492.57,158.17 492.71,158.02 492.85,164.73 492.99,156.96 493.13,163.34 493.27,159.80 493.41,159.83 493.55,163.51 493.69,160.73 493.83,161.85 493.96,160.62 494.10,161.23 494.24,159.43 494.38,161.53 494.52,161.99 494.66,159.63 494.80,160.60 494.94,160.32 495.08,162.94 495.22,163.66 495.35,162.77 495.49,162.87 495.63,160.25 495.77,159.90 495.91,162.02 496.05,159.06 496.19,159.18 496.33,161.28 496.47,163.28 496.61,158.80 496.74,161.87 496.88,161.52 497.02,162.40 497.16,163.43 497.30,164.52 497.44,160.59 497.58,163.24 497.72,156.07 497.86,163.82 498.00,164.14 498.13,160.85 498.27,158.95 498.41,161.69 498.55,160.74 498.69,165.26 498.83,163.09 498.97,163.83 499.11,165.37 499.25,161.62 499.39,166.03 499.52,164.31 499.66,162.85 499.80,163.41 499.94,161.12 500.08,161.29 500.22,160.20 500.36,160.46 500.50,159.74 500.64,161.88 500.78,161.32 500.91,160.93 501.05,161.63 501.19,162.64 501.33,162.52 501.47,163.43 501.61,161.12 501.75,162.09 501.89,163.16 502.03,163.16 502.16,164.19 502.30,160.10 502.44,161.79 502.58,163.55 502.72,160.43 502.86,162.99 503.00,164.58 503.14,160.05 503.28,162.96 503.42,162.73 503.55,161.89 503.69,159.84 503.83,161.94 503.97,164.22 504.11,160.97 504.25,162.90 504.39,158.46 504.53,162.00 504.67,166.18 504.81,161.34 504.94,158.38 505.08,159.07 505.22,158.60 505.36,163.93 505.50,160.32 505.64,163.38 505.78,161.61 505.92,164.42 506.06,163.25 506.20,163.31 506.33,160.37 506.47,160.56 506.61,161.54 506.75,164.59 506.89,162.65 507.03,163.46 507.17,160.45 507.31,159.88 507.45,160.11 507.59,163.50 507.72,167.21 507.86,165.39 508.00,159.44 508.14,162.85 508.28,163.51 508.42,159.04 508.56,159.75 508.70,162.07 508.84,162.67 508.98,162.37 509.11,161.70 509.25,159.14 509.39,161.34 509.53,160.78 509.67,159.96 509.81,164.33 509.95,160.74 510.09,162.70 510.23,166.86 510.37,166.14 510.50,164.07 510.64,161.17 510.78,161.96 510.92,161.83 511.06,158.53 511.20,164.55 511.34,162.24 511.48,161.62 511.62,163.57 511.76,162.14 511.89,165.19 512.03,159.57 512.17,163.48 512.31,158.41 512.45,162.27 512.59,160.30 512.73,162.32 512.87,162.28 513.01,163.32 513.15,162.01 513.28,161.64 513.42,163.70 513.56,162.47 513.70,163.38 513.84,157.95 513.98,162.42 514.12,159.37 514.26,162.62 514.40,161.78 514.53,164.73 514.67,163.10 514.81,161.88 514.95,159.31 515.09,161.86 515.23,159.69 515.37,161.09 515.51,159.25 515.65,162.40 515.79,157.83 515.92,163.20 516.06,163.73 516.20,164.56 516.34,157.95 516.48,160.78 516.62,162.94 516.76,159.98 516.90,161.03 517.04,158.65 517.18,165.22 517.31,162.82 517.45,163.20 517.59,166.02 517.73,160.36 517.87,162.85 518.01,160.96 518.15,157.94 518.29,163.01 518.43,163.14 518.57,162.13 518.70,160.51 518.84,163.42 518.98,163.54 519.12,160.39 519.26,161.66 519.40,166.20 519.54,164.67 519.68,159.58 519.82,161.63 519.96,163.81 520.09,162.71 520.23,162.37 520.37,161.02 520.51,164.94 520.65,163.97 520.79,161.89 520.93,162.59 521.07,161.34 521.21,164.71 521.35,161.75 521.48,160.38 521.62,161.51 521.76,162.17 521.90,162.61 522.04,163.99 522.18,162.57 522.32,160.08 522.46,162.66 522.60,164.11 522.74,163.37 522.87,162.07 523.01,163.15 523.15,161.55 523.29,161.48 523.43,160.80 523.57,159.80 523.71,160.61 523.85,164.22 523.99,164.16 524.13,162.62 524.26,163.32 524.40,164.61 524.54,163.31 524.68,163.37 524.82,163.75 524.96,163.08 525.10,160.29 525.24,162.13 525.38,157.88 525.52,162.19 525.65,163.05 525.79,162.50 525.93,162.03 526.07,161.70 526.21,158.64 526.35,164.10 526.49,160.92 526.63,162.14 526.77,165.47 526.91,161.09 527.04,160.17 527.18,164.14 527.32,162.56 527.46,165.77 527.60,164.90 527.74,160.59 527.88,163.43 528.02,164.63 528.16,162.13 528.29,163.54 528.43,163.44 528.57,161.19 528.71,164.74 528.85,164.26 528.99,162.29 529.13,160.77 529.27,160.27 529.41,163.83 529.55,160.83 529.68,164.06 529.82,159.18 529.96,164.71 530.10,160.12 530.24,163.83 530.38,158.84 530.52,161.50 530.66,164.51 530.80,163.59 530.94,161.15 531.07,160.65 531.21,162.75 531.35,162.54 531.49,161.21 531.63,162.38 531.77,165.05 531.91,164.15 532.05,162.20 532.19,160.37 532.33,159.62 532.46,161.19 532.60,162.11 532.74,161.25 532.88,163.90 533.02,162.94 533.16,164.20 533.30,164.99 533.44,162.04 533.58,162.32 533.72,161.38 533.85,161.65 533.99,162.22 534.13,161.64 534.27,162.76 534.41,161.91 534.55,164.04 534.69,162.00 534.83,161.44 534.97,163.94 535.11,162.60 535.24,163.86 535.38,163.68 535.52,164.80 535.66,160.34 535.80,160.72 535.94,161.71 536.08,159.03 536.22,163.07 536.36,157.05 536.50,163.15 536.63,162.25 536.77,163.47 536.91,162.03 537.05,161.17 537.19,162.95 537.33,159.42 537.47,162.29 537.61,162.24 537.75,164.44 537.89,161.96 538.02,163.00 538.16,163.89 538.30,164.20 538.44,157.76 538.58,163.25 538.72,165.48 538.86,164.07 539.00,162.86 539.14,161.75 539.28,161.73 539.41,161.51 539.55,163.98 539.69,162.14 539.83,164.42 539.97,163.94 540.11,164.50 540.25,165.01 540.39,160.80 540.53,161.51 540.66,160.97 540.80,162.72 540.94,161.35 541.08,166.09 541.22,161.19 541.36,162.48 541.50,161.64 541.64,162.10 541.78,164.66 541.92,165.62 542.05,164.15 542.19,161.77 542.33,161.54 542.47,165.38 542.61,164.66 542.75,164.18 542.89,163.50 543.03,165.38 543.17,165.50 543.31,164.38 543.44,162.68 543.58,165.05 543.72,163.07 543.86,160.87 544.00,165.29 544.14,163.24 544.28,160.94 544.42,163.64 544.56,163.94 544.70,160.69 544.83,163.44 544.97,160.81 545.11,162.07 545.25,163.52 545.39,161.98 545.53,162.28 545.67,160.97 545.81,163.91 545.95,162.81 546.09,163.00 546.22,161.58 546.36,164.81 546.50,161.00 546.64,162.03 546.78,165.36 546.92,160.64 547.06,158.73 547.20,161.04 547.34,160.24 547.48,162.75 547.61,166.02 547.75,166.36 547.89,162.44 548.03,164.03 548.17,164.63 548.31,163.04 548.45,161.78 548.59,165.65 548.73,163.77 548.87,160.11 549.00,164.95 549.14,161.31 549.28,163.85 549.42,161.92 549.56,160.90 549.70,161.56 549.84,161.25 549.98,165.11 550.12,160.87 550.26,164.55 550.39,162.47 550.53,162.48 550.67,162.06 550.81,162.34 550.95,164.55 551.09,165.49 551.23,161.34 551.37,162.63 551.51,160.83 551.65,163.06 551.78,165.61 551.92,161.18 552.06,163.68 552.20,162.35 552.34,164.20 552.48,159.92 552.62,164.63 552.76,163.63 552.90,162.80 553.03,165.04 553.17,162.39 553.31,159.99 553.45,163.92 553.59,162.27 553.73,168.15 553.87,163.09 554.01,163.60 554.15,164.55 554.29,161.00 554.42,163.63 554.56,163.36 554.70,163.73 554.84,166.61 554.98,165.15 555.12,161.24 555.26,166.98 555.40,164.47 555.54,163.79 555.68,159.78 555.81,161.61 555.95,164.09 556.09,160.61 556.23,164.43 556.37,161.17 556.51,165.59 556.65,161.05 556.79,163.82 556.93,164.98 557.07,163.47 557.20,162.55 557.34,163.99 557.48,162.03 557.62,164.16 557.76,161.91 557.90,162.25 558.04,163.19 558.18,163.90 558.32,162.80 558.46,162.05 558.59,159.23 558.73,161.33 558.87,161.26 559.01,157.32 559.15,162.13 559.29,162.19 559.43,161.78 559.57,164.98 559.71,163.93 559.85,164.05 559.98,161.89 560.12,163.43 560.26,162.85 560.40,161.08 560.54,161.50 560.68,163.42 560.82,164.37 560.96,161.00 561.10,161.67 561.24,166.12 561.37,163.71 561.51,162.82 561.65,161.67 561.79,161.43 561.93,162.60 562.07,162.04 562.21,163.02 562.35,164.40 562.49,163.63 562.63,163.11 562.76,163.21 562.90,166.67 563.04,163.89 563.18,163.04 563.32,163.68 563.46,163.61 563.60,162.24 563.74,165.17 563.88,166.20 564.02,163.81 564.15,161.73 564.29,160.01 564.43,161.70 564.57,165.91 564.71,163.60 564.85,162.69 564.99,162.84 565.13,162.17 565.27,164.89 565.41,163.06 565.54,162.40 565.68,161.64 565.82,164.69 565.96,163.83 566.10,168.24 566.24,164.35 566.38,164.17 566.52,165.10 566.66,162.89 566.79,163.30 566.93,167.42 567.07,162.80 567.21,164.94 567.35,162.30 567.49,165.60 567.63,163.15 567.77,163.74 567.91,162.65 568.05,162.98 568.18,163.69 568.32,166.09 568.46,165.98 568.60,164.31 568.74,163.24 568.88,164.36 569.02,162.06 569.16,163.75 569.30,165.03 569.44,163.75 569.57,162.81 569.71,162.63 569.85,159.73 569.99,164.49 570.13,163.38 570.27,162.45 570.41,163.29 570.55,164.18 570.69,166.14 570.83,164.20 570.96,165.26 571.10,166.48 571.24,164.74 571.38,165.21 571.52,162.17 571.66,162.14 571.80,164.95 571.94,163.75 572.08,166.74 572.22,164.19 572.35,162.52 572.49,161.73 572.63,164.60 572.77,161.31 572.91,166.11 573.05,165.61 573.19,161.95 573.33,160.16 573.47,162.36 573.61,163.36 573.74,167.39 573.88,167.07 574.02,163.05 574.16,163.96 574.30,165.36 574.44,163.17 574.58,163.08 574.72,161.53 574.86,163.04 575.00,161.01 575.13,163.29 575.27,163.52 575.41,161.32 575.55,165.14 575.69,158.05 575.83,162.61 575.97,162.60 576.11,162.33 576.25,159.81 576.39,161.84 576.52,166.32 576.66,160.70 576.80,163.96 576.94,163.12 577.08,165.72 577.22,162.34 577.36,164.55 577.50,163.14 577.64,163.86 577.78,159.74 577.91,159.63 578.05,163.25 578.19,163.22 578.33,164.04 578.47,161.27 578.61,163.96 578.75,164.13 578.89,161.52 579.03,164.35 579.16,163.42 579.30,166.31 579.44,162.04 579.58,159.73 579.72,162.01 579.86,160.62 580.00,164.94 580.14,162.92 580.28,165.12 580.42,163.79 580.55,161.92 580.69,163.18 580.83,166.01 580.97,165.83 581.11,165.95 581.25,162.45 581.39,159.52 581.53,160.83 581.67,166.92 581.81,160.72 581.94,161.63 582.08,166.27 582.22,163.95 582.36,161.34 582.50,162.36 582.64,165.83 582.78,162.25 582.92,167.39 583.06,163.81 583.20,161.27 583.33,163.36 583.47,164.33 583.61,161.74 583.75,161.58 583.89,160.95 584.03,161.77 584.17,161.38 584.31,162.04 584.45,162.91 584.59,163.24 584.72,163.85 584.86,165.68 585.00,165.20 585.14,163.94 585.28,162.96 585.42,160.72 585.56,163.50 585.70,161.54 585.84,161.40 585.98,163.86 586.11,162.31 586.25,163.88 586.39,160.96 586.53,162.24 586.67,165.65 586.81,163.13 586.95,160.35 587.09,163.77 587.23,162.60 587.37,162.42 587.50,165.38 587.64,162.49 587.78,166.05 587.92,164.61 588.06,161.43 588.20,162.78 588.34,164.02 588.48,162.61 588.62,163.56 588.76,163.43 588.89,162.22 589.03,164.81 589.17,163.38 589.31,164.04 589.45,166.42 589.59,165.18 589.73,160.53 589.87,162.74 590.01,165.94 590.15,166.34 590.28,163.68 590.42,160.55 590.56,163.82 590.70,161.03 590.84,162.81 590.98,162.59 591.12,165.97 591.26,161.72 591.40,164.10 591.54,161.87 591.67,165.00 591.81,163.15 591.95,162.83 592.09,163.77 592.23,162.73 592.37,163.99 592.51,164.70 592.65,160.49 592.79,161.53 592.92,164.92 593.06,162.43 593.20,164.88 593.34,165.71 593.48,161.57 593.62,166.69 593.76,161.77 593.90,163.98 594.04,163.90 594.18,162.74 594.31,162.42 594.45,165.05 594.59,162.17 594.73,163.30 594.87,165.86 595.01,163.83 595.15,160.93 595.29,160.38 595.43,162.18 595.57,165.74 595.70,162.60 595.84,161.93 595.98,162.17 596.12,162.06 596.26,162.85 596.40,163.66 596.54,164.67 596.68,167.08 596.82,162.90 596.96,163.19 597.09,162.49 597.23,166.04 597.37,162.33 597.51,159.70 597.65,163.39 597.79,163.66 597.93,162.97 598.07,159.75 598.21,165.46 598.35,163.17 598.48,165.04 598.62,164.57 598.76,163.64 598.90,161.03 599.04,160.19 599.18,162.72 599.32,164.26 599.46,158.90 599.60,164.36 599.74,164.63 599.87,166.88 600.01,160.95 600.15,161.76 600.29,159.05 600.43,166.16 600.57,160.84 600.71,163.44 600.85,162.06 600.99,166.65 601.13,160.83 601.26,162.11 601.40,163.65 601.54,162.37 601.68,165.01 601.82,164.66 601.96,164.45 602.10,167.05 602.24,161.97 602.38,161.36 602.52,164.90 602.65,162.94 602.79,164.09 602.93,162.98 603.07,164.77 603.21,165.25 603.35,161.63 603.49,163.72 603.63,159.82 603.77,163.51 603.91,165.33 604.04,161.31 604.18,162.42 604.32,162.25 604.46,161.38 604.60,164.83 604.74,163.85 604.88,163.93 605.02,166.02 605.16,164.10 605.29,161.12 605.43,163.17 605.57,166.13 605.71,166.53 605.85,160.51 605.99,163.79 606.13,164.83 606.27,164.13 606.41,166.38 606.55,160.97 606.68,164.36 606.82,161.07 606.96,163.53 607.10,160.96 607.24,163.15 607.38,162.04 607.52,162.29 607.66,162.47 607.80,162.99 607.94,164.07 608.07,160.06 608.21,165.34 608.35,163.63 608.49,163.62 608.63,162.89 608.77,164.45 608.91,163.06 609.05,163.96 609.19,166.61 609.33,163.63 609.46,165.71 609.60,166.89 609.74,163.40 609.88,162.74 610.02,162.67 610.16,162.60 610.30,167.27 610.44,166.20 610.58,159.97 610.72,165.62 610.85,162.52 610.99,164.95 611.13,163.52 611.27,164.85 611.41,162.62 611.55,163.42 611.69,164.51 611.83,165.64 611.97,163.17 612.11,165.94 612.24,162.88 612.38,158.77 612.52,161.16 612.66,162.34 612.80,163.84 612.94,167.31 613.08,166.16 613.22,161.29 613.36,165.16 613.50,164.99 613.63,164.00 613.77,165.68 613.91,165.98 614.05,163.79 614.19,165.36 614.33,165.08 614.47,165.16 614.61,162.72 614.75,164.13 614.89,164.03 615.02,162.59 615.16,163.97 615.30,164.22 615.44,162.83 615.58,162.46 615.72,163.98 615.86,163.56 616.00,165.17 616.14,165.32 616.28,162.27 616.41,162.88 616.55,162.86 616.69,163.19 616.83,163.63 616.97,162.42 617.11,161.97 617.25,162.02 617.39,163.91 617.53,161.13 617.67,163.30 617.80,162.54 617.94,163.20 618.08,163.27 618.22,165.10 618.36,162.42 618.50,158.41 618.64,164.43 618.78,163.60 618.92,164.57 619.05,164.65 619.19,160.85 619.33,165.00 619.47,164.62 619.61,166.71 619.75,165.16 619.89,166.93 620.03,162.56 620.17,158.51 620.31,164.43 620.44,166.86 620.58,162.07 620.72,165.11 620.86,161.32 621.00,164.28 621.14,164.93 621.28,164.09 621.42,162.34 621.56,164.18 621.70,164.68 621.83,164.13 621.97,166.14 622.11,163.02 622.25,167.10 622.39,164.59 622.53,162.34 622.67,163.20 622.81,162.66 622.95,163.89 623.09,161.58 623.22,162.04 623.36,162.94 623.50,162.04 623.64,162.37 623.78,164.59 623.92,166.29 624.06,162.99 624.20,162.76 624.34,161.74 624.48,165.53 624.61,165.47 624.75,162.92 624.89,163.91 625.03,167.31 625.17,163.08 625.31,167.25 625.45,165.55 625.59,161.26 625.73,160.38 625.87,166.06 626.00,164.41 626.14,163.71 626.28,160.46 626.42,164.71 626.56,164.69 626.70,160.90 626.84,164.50 626.98,162.45 627.12,166.56 627.26,164.12 627.39,166.90 627.53,165.77 627.67,162.23 627.81,163.90 627.95,164.40 628.09,165.20 628.23,164.22 628.37,163.24 628.51,161.97 628.65,168.72 628.78,165.36 628.92,163.51 629.06,164.00 629.20,163.06 629.34,163.31 629.48,164.38 629.62,164.80 629.76,164.28 629.90,161.67 630.04,165.19 630.17,163.94 630.31,163.48 630.45,160.91 630.59,164.38 630.73,162.03 630.87,161.52 631.01,163.95 631.15,164.22 631.29,164.44 631.42,164.31 631.56,162.23 631.70,163.40 631.84,163.39 631.98,165.94 632.12,165.64 632.26,159.83 632.40,164.17 632.54,165.28 632.68,161.16 632.81,163.31 632.95,162.76 633.09,164.10 633.23,164.44 633.37,164.16 633.51,166.43 633.65,164.01 633.79,163.29 633.93,160.39 634.07,163.69 634.20,168.21 634.34,164.02 634.48,158.73 634.62,162.23 634.76,165.37 634.90,162.75 635.04,165.24 635.18,166.38 635.32,164.51 635.46,163.68 635.59,167.36 635.73,166.00 635.87,163.84 636.01,164.62 636.15,163.12 636.29,166.13 636.43,162.53 636.57,166.07 636.71,160.79 636.85,167.07 636.98,165.91 637.12,163.09 637.26,160.76 637.40,163.28 637.54,162.82 637.68,163.84 637.82,165.79 637.96,164.79 638.10,166.14 638.24,166.26 638.37,163.12 638.51,165.97 638.65,163.28 638.79,166.31 638.93,163.32 639.07,164.79 639.21,161.25 639.35,163.27 639.49,161.57 639.63,165.29 639.76,163.78 639.90,165.72 640.04,164.66 640.18,164.37 640.32,165.24 640.46,166.16 640.60,166.53 640.74,168.26 640.88,165.86 641.02,162.72 641.15,166.88 641.29,166.45 641.43,160.54 641.57,165.08 641.71,163.29 641.85,162.69 641.99,162.66 642.13,166.74 642.27,164.33 642.41,166.92 642.54,159.32 642.68,166.88 642.82,165.86 642.96,165.84 643.10,166.70 643.24,161.37 643.38,159.37 643.52,164.79 643.66,166.37 643.80,168.08 643.93,164.36 644.07,164.50 644.21,165.12 644.35,163.49 644.49,163.17 644.63,163.30 644.77,164.50 644.91,165.97 645.05,162.67 645.18,163.89 645.32,162.25 645.46,162.44 645.60,166.57 645.74,166.59 645.88,165.33 646.02,165.89 646.16,162.50 646.30,163.26 646.44,161.86 646.57,163.18 646.71,163.53 646.85,161.68 646.99,163.04 647.13,163.79 647.27,161.15 647.41,163.71 647.55,164.49 647.69,165.49 647.83,162.61 647.96,161.61 648.10,164.02 648.24,161.48 648.38,167.61 648.52,164.03 648.66,164.00 648.80,165.29 648.94,159.47 649.08,164.05 649.22,164.69 649.35,163.88 649.49,167.67 649.63,165.35 649.77,162.09 649.91,165.11 650.05,165.48 650.19,161.49 650.33,161.43 650.47,162.97 650.61,164.79 650.74,164.38 650.88,165.44 651.02,165.80 651.16,165.89 651.30,165.09 651.44,165.87 651.58,166.86 651.72,163.53 651.86,163.50 652.00,160.76 652.13,165.19 652.27,163.39 652.41,163.36 652.55,164.42 652.69,162.55 652.83,162.49 652.97,163.33 653.11,164.42 653.25,164.61 653.39,166.50 653.52,165.45 653.66,165.11 653.80,166.05 653.94,163.13 654.08,161.71 654.22,165.65 654.36,163.42 654.50,165.88 654.64,164.52 654.78,165.24 654.91,162.83 655.05,165.22 655.19,162.06 655.33,164.41 655.47,165.17 655.61,166.30"/><polyline stroke="#c2b6e2" stroke-width="2.1" points="99.79,172.49 99.93,171.93 100.07,172.55 100.21,170.76 100.35,171.56 100.49,173.22 100.62,173.28 100.76,172.58 100.90,173.85 101.04,172.02 101.18,172.81 101.32,172.95 101.46,172.59 101.60,171.66 101.74,173.16 101.88,173.46 102.01,171.99 102.15,172.54 102.29,173.78 102.43,173.52 102.57,173.38 102.71,173.27 102.85,174.92 102.99,175.13 103.13,174.56 103.27,174.68 103.40,174.42 103.54,173.26 103.68,174.06 103.82,173.76 103.96,175.12 104.10,174.45 104.24,173.51 104.38,173.55 104.52,174.82 104.66,174.03 104.79,172.17 104.93,174.28 105.07,174.96 105.21,174.51 105.35,174.30 105.49,174.57 105.63,174.50 105.77,175.86 105.91,175.45 106.05,174.73 106.18,174.79 106.32,175.20 106.46,174.88 106.60,174.70 106.74,173.97 106.88,174.93 107.02,174.50 107.16,175.42 107.30,174.42 107.44,174.65 107.57,174.23 107.71,174.41 107.85,174.57 107.99,175.25 108.13,174.97 108.27,174.24 108.41,175.89 108.55,175.91 108.69,175.19 108.83,175.01 108.96,176.21 109.10,175.55 109.24,175.61 109.38,177.63 109.52,175.80 109.66,175.78 109.80,175.83 109.94,174.39 110.08,176.89 110.22,176.56 110.35,178.27 110.49,176.32 110.63,176.28 110.77,176.43 110.91,174.96 111.05,175.23 111.19,176.00 111.33,176.45 111.47,175.19 111.60,176.20 111.74,176.99 111.88,177.87 112.02,176.72 112.16,175.64 112.30,174.25 112.44,176.36 112.58,177.17 112.72,177.60 112.86,176.02 112.99,178.22 113.13,176.10 113.27,175.89 113.41,176.28 113.55,176.93 113.69,176.24 113.83,176.65 113.97,177.57 114.11,175.15 114.25,177.25 114.38,176.23 114.52,179.26 114.66,175.84 114.80,175.70 114.94,177.08 115.08,176.63 115.22,176.67 115.36,177.83 115.50,176.75 115.64,178.06 115.77,177.91 115.91,176.32 116.05,176.50 116.19,178.11 116.33,178.18 116.47,178.13 116.61,176.88 116.75,178.54 116.89,177.31 117.03,176.98 117.16,177.80 117.30,176.81 117.44,178.08 117.58,178.03 117.72,178.78 117.86,176.95 118.00,178.66 118.14,177.65 118.28,178.08 118.42,179.04 118.55,178.66 118.69,176.83 118.83,177.97 118.97,179.14 119.11,177.95 119.25,178.41 119.39,175.08 119.53,178.08 119.67,178.74 119.81,177.09 119.94,180.18 120.08,178.41 120.22,176.67 120.36,178.68 120.50,180.22 120.64,179.01 120.78,177.32 120.92,178.36 121.06,179.53 121.20,179.43 121.33,179.35 121.47,178.52 121.61,177.65 121.75,177.95 121.89,178.54 122.03,180.25 122.17,180.28 122.31,178.58 122.45,180.37 122.59,179.36 122.72,178.90 122.86,180.28 123.00,180.21 123.14,179.38 123.28,178.86 123.42,178.37 123.56,178.83 123.70,179.37 123.84,180.17 123.98,180.51 124.11,180.02 124.25,179.20 124.39,179.30 124.53,181.61 124.67,180.42 124.81,178.60 124.95,179.68 125.09,181.12 125.23,177.63 125.36,179.89 125.50,179.54 125.64,179.56 125.78,180.31 125.92,180.68 126.06,178.06 126.20,179.14 126.34,179.34 126.48,179.61 126.62,181.12 126.75,179.02 126.89,181.04 127.03,180.02 127.17,181.85 127.31,182.26 127.45,180.09 127.59,181.18 127.73,182.32 127.87,179.99 128.01,178.55 128.14,179.26 128.28,180.84 128.42,180.62 128.56,179.84 128.70,179.65 128.84,181.06 128.98,180.74 129.12,180.52 129.26,180.32 129.40,181.00 129.53,181.02 129.67,179.65 129.81,179.85 129.95,180.56 130.09,179.44 130.23,181.44 130.37,179.60 130.51,180.64 130.65,178.12 130.79,182.33 130.92,181.89 131.06,180.89 131.20,180.95 131.34,179.53 131.48,182.01 131.62,180.57 131.76,180.37 131.90,180.83 132.04,182.42 132.18,180.24 132.31,180.44 132.45,181.06 132.59,181.46 132.73,181.48 132.87,181.79 133.01,181.16 133.15,181.76 133.29,182.61 133.43,182.83 133.57,182.59 133.70,181.71 133.84,181.98 133.98,181.79 134.12,181.55 134.26,182.64 134.40,180.72 134.54,182.37 134.68,182.56 134.82,181.74 134.96,183.94 135.09,182.99 135.23,181.37 135.37,183.94 135.51,181.31 135.65,180.97 135.79,182.76 135.93,182.18 136.07,181.44 136.21,182.95 136.35,181.74 136.48,183.21 136.62,183.06 136.76,183.39 136.90,182.36 137.04,181.63 137.18,182.92 137.32,183.96 137.46,183.82 137.60,182.47 137.73,181.15 137.87,182.54 138.01,183.30 138.15,182.25 138.29,183.23 138.43,183.39 138.57,183.96 138.71,181.78 138.85,185.50 138.99,182.42 139.12,183.63 139.26,183.61 139.40,181.68 139.54,183.96 139.68,183.96 139.82,183.48 139.96,183.00 140.10,183.83 140.24,184.92 140.38,184.29 140.51,182.32 140.65,183.47 140.79,183.15 140.93,183.85 141.07,184.26 141.21,182.10 141.35,183.88 141.49,184.15 141.63,182.74 141.77,184.47 141.90,184.38 142.04,183.85 142.18,183.89 142.32,183.68 142.46,182.00 142.60,183.67 142.74,186.24 142.88,183.74 143.02,184.04 143.16,184.07 143.29,183.91 143.43,184.20 143.57,184.25 143.71,183.66 143.85,184.77 143.99,185.18 144.13,181.50 144.27,185.03 144.41,184.29 144.55,185.82 144.68,184.34 144.82,185.35 144.96,184.92 145.10,183.56 145.24,184.13 145.38,184.07 145.52,186.29 145.66,182.95 145.80,185.81 145.94,183.30 146.07,183.80 146.21,184.25 146.35,185.61 146.49,184.70 146.63,185.32 146.77,184.88 146.91,185.17 147.05,186.87 147.19,183.95 147.33,185.10 147.46,185.51 147.60,185.61 147.74,184.78 147.88,185.98 148.02,187.29 148.16,184.83 148.30,184.75 148.44,185.45 148.58,186.37 148.72,185.25 148.85,186.73 148.99,186.35 149.13,186.12 149.27,184.66 149.41,185.82 149.55,185.93 149.69,183.71 149.83,185.24 149.97,185.28 150.11,185.97 150.24,186.21 150.38,187.73 150.52,184.81 150.66,185.32 150.80,185.94 150.94,185.93 151.08,185.14 151.22,187.31 151.36,186.44 151.49,186.98 151.63,184.29 151.77,185.16 151.91,188.07 152.05,187.45 152.19,186.19 152.33,186.54 152.47,187.36 152.61,184.34 152.75,185.89 152.88,185.77 153.02,186.89 153.16,185.59 153.30,186.65 153.44,186.59 153.58,185.78 153.72,187.91 153.86,184.92 154.00,186.27 154.14,185.27 154.27,187.50 154.41,187.39 154.55,187.64 154.69,186.35 154.83,186.55 154.97,187.08 155.11,187.62 155.25,187.88 155.39,186.77 155.53,187.19 155.66,187.43 155.80,185.37 155.94,186.92 156.08,185.68 156.22,187.40 156.36,186.70 156.50,187.01 156.64,188.57 156.78,185.68 156.92,187.17 157.05,186.37 157.19,187.80 157.33,187.28 157.47,187.96 157.61,186.03 157.75,186.92 157.89,186.89 158.03,185.99 158.17,186.21 158.31,186.60 158.44,188.68 158.58,188.03 158.72,188.34 158.86,186.75 159.00,187.30 159.14,188.79 159.28,187.69 159.42,188.94 159.56,187.62 159.70,189.14 159.83,187.13 159.97,187.30 160.11,185.90 160.25,186.92 160.39,188.13 160.53,187.00 160.67,189.10 160.81,188.72 160.95,187.53 161.09,189.89 161.22,187.93 161.36,188.88 161.50,187.86 161.64,188.99 161.78,187.61 161.92,188.02 162.06,186.75 162.20,188.08 162.34,188.84 162.48,188.37 162.61,189.43 162.75,187.82 162.89,187.67 163.03,185.94 163.17,188.86 163.31,188.56 163.45,188.87 163.59,188.16 163.73,188.03 163.86,188.46 164.00,187.42 164.14,189.04 164.28,187.57 164.42,188.02 164.56,188.56 164.70,188.87 164.84,186.33 164.98,189.39 165.12,188.37 165.25,189.38 165.39,187.04 165.53,187.90 165.67,189.39 165.81,188.31 165.95,188.57 166.09,189.32 166.23,188.16 166.37,188.53 166.51,188.72 166.64,188.98 166.78,188.57 166.92,188.78 167.06,188.97 167.20,189.65 167.34,187.49 167.48,190.08 167.62,188.73 167.76,189.45 167.90,187.53 168.03,190.05 168.17,189.92 168.31,190.16 168.45,188.98 168.59,190.59 168.73,189.78 168.87,191.37 169.01,189.16 169.15,189.88 169.29,190.83 169.42,188.45 169.56,190.71 169.70,188.77 169.84,190.20 169.98,188.07 170.12,188.89 170.26,190.56 170.40,190.50 170.54,189.10 170.68,189.94 170.81,189.88 170.95,188.56 171.09,190.47 171.23,189.71 171.37,188.93 171.51,189.09 171.65,190.02 171.79,190.17 171.93,191.55 172.07,190.93 172.20,189.68 172.34,190.13 172.48,189.95 172.62,189.08 172.76,191.18 172.90,190.32 173.04,189.95 173.18,190.81 173.32,188.84 173.46,189.35 173.59,189.95 173.73,188.57 173.87,191.67 174.01,190.31 174.15,189.98 174.29,191.20 174.43,190.09 174.57,191.43 174.71,189.78 174.85,189.46 174.98,190.22 175.12,192.23 175.26,191.43 175.40,190.02 175.54,190.55 175.68,193.11 175.82,189.46 175.96,190.52 176.10,191.43 176.24,189.76 176.37,191.35 176.51,191.39 176.65,190.43 176.79,189.13 176.93,189.30 177.07,190.50 177.21,190.43 177.35,190.15 177.49,192.09 177.62,190.34 177.76,191.65 177.90,190.69 178.04,191.22 178.18,190.57 178.32,190.95 178.46,193.95 178.60,190.94 178.74,190.53 178.88,190.74 179.01,191.28 179.15,189.67 179.29,190.94 179.43,190.84 179.57,190.30 179.71,190.96 179.85,192.16 179.99,193.63 180.13,191.82 180.27,190.68 180.40,191.75 180.54,190.69 180.68,191.33 180.82,190.29 180.96,191.79 181.10,191.10 181.24,191.09 181.38,190.18 181.52,193.20 181.66,192.06 181.79,190.86 181.93,190.23 182.07,191.48 182.21,192.00 182.35,191.04 182.49,190.96 182.63,192.13 182.77,191.51 182.91,190.74 183.05,190.10 183.18,191.20 183.32,191.87 183.46,191.99 183.60,191.44 183.74,192.09 183.88,191.83 184.02,193.02 184.16,190.84 184.30,193.14 184.44,192.50 184.57,192.03 184.71,190.28 184.85,192.56 184.99,192.81 185.13,192.73 185.27,190.69 185.41,194.89 185.55,193.22 185.69,189.75 185.83,191.78 185.96,193.38 186.10,192.41 186.24,192.33 186.38,191.63 186.52,190.72 186.66,192.10 186.80,192.99 186.94,191.77 187.08,193.19 187.22,193.52 187.35,194.22 187.49,194.06 187.63,193.46 187.77,193.75 187.91,192.38 188.05,193.81 188.19,195.65 188.33,193.71 188.47,193.20 188.61,193.35 188.74,191.38 188.88,193.40 189.02,192.02 189.16,192.89 189.30,192.93 189.44,193.70 189.58,192.99 189.72,193.67 189.86,192.82 189.99,193.22 190.13,193.91 190.27,192.12 190.41,192.67 190.55,193.51 190.69,192.98 190.83,193.22 190.97,193.97 191.11,193.11 191.25,193.78 191.38,194.11 191.52,194.76 191.66,193.60 191.80,192.76 191.94,193.96 192.08,190.98 192.22,192.53 192.36,192.16 192.50,192.66 192.64,191.69 192.77,194.18 192.91,195.86 193.05,193.90 193.19,192.99 193.33,193.39 193.47,193.29 193.61,192.34 193.75,193.24 193.89,192.87 194.03,194.52 194.16,194.68 194.30,192.17 194.44,193.61 194.58,194.31 194.72,194.33 194.86,194.37 195.00,194.45 195.14,195.01 195.28,195.23 195.42,194.04 195.55,194.43 195.69,192.86 195.83,193.64 195.97,193.69 196.11,194.65 196.25,194.09 196.39,193.66 196.53,193.35 196.67,194.13 196.81,193.06 196.94,194.08 197.08,193.37 197.22,194.59 197.36,195.84 197.50,193.92 197.64,193.51 197.78,193.68 197.92,193.84 198.06,194.58 198.20,195.03 198.33,193.78 198.47,193.92 198.61,194.86 198.75,193.32 198.89,195.20 199.03,194.95 199.17,192.89 199.31,193.63 199.45,194.80 199.59,194.22 199.72,194.36 199.86,197.09 200.00,195.39 200.14,194.61 200.28,194.92 200.42,194.38 200.56,193.57 200.70,194.95 200.84,195.66 200.98,194.39 201.11,195.02 201.25,194.88 201.39,195.02 201.53,192.68 201.67,196.89 201.81,195.18 201.95,194.84 202.09,195.58 202.23,194.03 202.37,194.13 202.50,194.96 202.64,195.19 202.78,195.06 202.92,195.07 203.06,195.07 203.20,195.19 203.34,194.80 203.48,194.35 203.62,196.23 203.75,196.08 203.89,196.75 204.03,194.33 204.17,194.92 204.31,194.70 204.45,196.53 204.59,193.55 204.73,195.81 204.87,195.10 205.01,194.48 205.14,196.22 205.28,195.83 205.42,195.17 205.56,192.69 205.70,195.09 205.84,193.89 205.98,194.29 206.12,195.09 206.26,196.38 206.40,194.48 206.53,196.89 206.67,194.02 206.81,195.35 206.95,198.03 207.09,195.89 207.23,194.98 207.37,195.83 207.51,194.96 207.65,196.45 207.79,196.89 207.92,195.76 208.06,195.68 208.20,196.05 208.34,194.60 208.48,196.56 208.62,195.49 208.76,195.74 208.90,197.28 209.04,197.08 209.18,195.85 209.31,194.03 209.45,195.36 209.59,197.54 209.73,198.85 209.87,195.28 210.01,196.07 210.15,194.93 210.29,196.84 210.43,195.71 210.57,195.27 210.70,196.49 210.84,196.49 210.98,196.09 211.12,195.63 211.26,196.17 211.40,195.26 211.54,196.62 211.68,197.45 211.82,194.38 211.96,196.81 212.09,196.80 212.23,196.35 212.37,196.24 212.51,196.68 212.65,196.36 212.79,196.40 212.93,196.22 213.07,198.60 213.21,194.66 213.35,196.57 213.48,195.91 213.62,197.76 213.76,196.93 213.90,197.14 214.04,195.16 214.18,197.10 214.32,195.86 214.46,197.19 214.60,197.03 214.74,196.85 214.87,195.44 215.01,198.43 215.15,197.91 215.29,198.52 215.43,197.73 215.57,197.49 215.71,198.26 215.85,197.46 215.99,198.67 216.12,197.76 216.26,195.70 216.40,196.47 216.54,196.69 216.68,197.82 216.82,198.34 216.96,197.98 217.10,196.98 217.24,196.14 217.38,196.13 217.51,196.40 217.65,197.70 217.79,197.00 217.93,197.35 218.07,197.25 218.21,195.18 218.35,198.75 218.49,197.34 218.63,196.00 218.77,198.52 218.90,197.77 219.04,197.68 219.18,197.42 219.32,198.72 219.46,196.69 219.60,196.64 219.74,196.80 219.88,198.11 220.02,197.23 220.16,198.17 220.29,197.66 220.43,195.36 220.57,197.30 220.71,198.51 220.85,197.25 220.99,198.70 221.13,198.58 221.27,198.45 221.41,197.91 221.55,196.64 221.68,196.99 221.82,197.06 221.96,198.59 222.10,198.09 222.24,197.35 222.38,198.20 222.52,197.89 222.66,197.24 222.80,198.00 222.94,197.48 223.07,196.22 223.21,197.88 223.35,196.64 223.49,197.23 223.63,199.15 223.77,198.82 223.91,198.59 224.05,198.63 224.19,197.93 224.33,197.29 224.46,196.71 224.60,197.61 224.74,198.33 224.88,199.88 225.02,197.88 225.16,197.94 225.30,197.81 225.44,196.03 225.58,196.86 225.72,197.30 225.85,198.95 225.99,198.55 226.13,198.17 226.27,198.83 226.41,197.65 226.55,197.80 226.69,199.17 226.83,197.05 226.97,198.09 227.11,199.82 227.24,198.27 227.38,197.98 227.52,197.35 227.66,198.59 227.80,197.52 227.94,198.13 228.08,199.55 228.22,199.66 228.36,197.31 228.49,197.26 228.63,198.09 228.77,197.01 228.91,197.44 229.05,197.80 229.19,199.31 229.33,196.86 229.47,197.99 229.61,198.87 229.75,199.15 229.88,198.30 230.02,200.12 230.16,197.92 230.30,199.48 230.44,198.26 230.58,199.11 230.72,198.89 230.86,199.37 231.00,198.82 231.14,196.93 231.27,197.41 231.41,198.39 231.55,198.76 231.69,197.97 231.83,197.72 231.97,199.57 232.11,198.88 232.25,200.52 232.39,197.79 232.53,196.93 232.66,198.80 232.80,200.87 232.94,198.34 233.08,199.77 233.22,199.56 233.36,198.37 233.50,198.73 233.64,199.44 233.78,199.61 233.92,198.90 234.05,199.42 234.19,200.09 234.33,199.38 234.47,198.77 234.61,199.26 234.75,200.44 234.89,198.21 235.03,201.71 235.17,199.58 235.31,199.76 235.44,199.06 235.58,198.69 235.72,198.17 235.86,199.91 236.00,198.71 236.14,199.09 236.28,200.89 236.42,197.53 236.56,200.67 236.70,198.95 236.83,198.99 236.97,199.11 237.11,199.85 237.25,198.63 237.39,200.88 237.53,199.49 237.67,199.98 237.81,200.10 237.95,199.08 238.09,198.49 238.22,199.83 238.36,198.80 238.50,199.50 238.64,200.39 238.78,199.82 238.92,199.87 239.06,200.26 239.20,199.22 239.34,199.42 239.48,201.14 239.61,201.21 239.75,199.29 239.89,200.46 240.03,199.43 240.17,199.00 240.31,200.93 240.45,201.08 240.59,198.21 240.73,199.46 240.87,200.20 241.00,200.70 241.14,200.31 241.28,200.97 241.42,199.04 241.56,200.61 241.70,198.88 241.84,200.29 241.98,200.90 242.12,200.34 242.25,202.41 242.39,200.09 242.53,200.15 242.67,199.24 242.81,201.78 242.95,198.95 243.09,199.28 243.23,198.90 243.37,200.13 243.51,199.15 243.64,201.49 243.78,199.46 243.92,200.86 244.06,201.70 244.20,201.22 244.34,200.18 244.48,200.97 244.62,199.87 244.76,201.92 244.90,202.23 245.03,198.98 245.17,199.43 245.31,201.27 245.45,200.31 245.59,199.37 245.73,199.94 245.87,200.21 246.01,199.34 246.15,201.06 246.29,200.37 246.42,200.43 246.56,200.68 246.70,200.80 246.84,200.39 246.98,200.44 247.12,201.46 247.26,199.75 247.40,201.43 247.54,200.73 247.68,200.82 247.81,200.22 247.95,202.55 248.09,199.75 248.23,201.23 248.37,199.48 248.51,201.08 248.65,200.69 248.79,198.87 248.93,200.93 249.07,199.53 249.20,200.67 249.34,200.33 249.48,200.67 249.62,199.95 249.76,201.40 249.90,201.70 250.04,201.39 250.18,200.71 250.32,201.03 250.46,200.17 250.59,199.63 250.73,201.77 250.87,201.56 251.01,202.23 251.15,199.01 251.29,200.63 251.43,200.49 251.57,202.20 251.71,200.96 251.85,200.50 251.98,201.23 252.12,200.00 252.26,198.86 252.40,201.92 252.54,202.00 252.68,201.88 252.82,199.57 252.96,200.12 253.10,201.23 253.24,201.08 253.37,201.89 253.51,200.31 253.65,201.51 253.79,201.42 253.93,200.62 254.07,201.38 254.21,201.44 254.35,201.22 254.49,200.50 254.62,199.72 254.76,200.72 254.90,200.54 255.04,201.49 255.18,201.97 255.32,200.72 255.46,201.18 255.60,202.68 255.74,201.68 255.88,201.46 256.01,201.87 256.15,200.03 256.29,200.98 256.43,200.15 256.57,201.21 256.71,201.39 256.85,202.35 256.99,201.48 257.13,201.49 257.27,202.80 257.40,202.04 257.54,201.85 257.68,201.17 257.82,201.14 257.96,202.13 258.10,201.16 258.24,201.79 258.38,204.31 258.52,202.10 258.66,200.65 258.79,203.24 258.93,201.58 259.07,200.22 259.21,202.42 259.35,201.72 259.49,202.96 259.63,200.23 259.77,201.84 259.91,201.73 260.05,200.53 260.18,201.19 260.32,202.64 260.46,202.44 260.60,201.38 260.74,202.44 260.88,203.85 261.02,201.93 261.16,203.28 261.30,200.40 261.44,201.76 261.57,202.78 261.71,202.60 261.85,203.73 261.99,203.00 262.13,201.04 262.27,199.92 262.41,201.34 262.55,202.12 262.69,202.45 262.83,202.95 262.96,200.15 263.10,202.26 263.24,200.12 263.38,200.81 263.52,203.75 263.66,202.76 263.80,202.77 263.94,202.24 264.08,202.23 264.22,199.39 264.35,203.21 264.49,202.00 264.63,201.65 264.77,202.24 264.91,202.15 265.05,203.24 265.19,202.18 265.33,201.81 265.47,202.00 265.61,201.78 265.74,201.01 265.88,201.47 266.02,202.29 266.16,203.46 266.30,202.94 266.44,202.60 266.58,202.17 266.72,202.87 266.86,203.31 267.00,203.56 267.13,204.00 267.27,202.69 267.41,203.86 267.55,203.43 267.69,202.88 267.83,203.77 267.97,202.18 268.11,201.86 268.25,203.07 268.38,202.98 268.52,202.08 268.66,203.26 268.80,203.34 268.94,201.50 269.08,201.81 269.22,202.09 269.36,201.80 269.50,204.52 269.64,201.42 269.77,202.33 269.91,201.77 270.05,202.36 270.19,202.69 270.33,203.00 270.47,202.42 270.61,203.06 270.75,201.97 270.89,204.28 271.03,203.32 271.16,200.91 271.30,203.42 271.44,203.07 271.58,203.68 271.72,202.56 271.86,203.57 272.00,203.07 272.14,202.12 272.28,203.57 272.42,202.20 272.55,202.18 272.69,201.97 272.83,202.84 272.97,199.95 273.11,202.01 273.25,202.70 273.39,203.84 273.53,203.12 273.67,201.71 273.81,201.46 273.94,201.69 274.08,202.35 274.22,204.26 274.36,202.65 274.50,204.28 274.64,204.52 274.78,202.92 274.92,202.66 275.06,202.32 275.20,202.71 275.33,202.69 275.47,204.12 275.61,203.31 275.75,204.63 275.89,205.11 276.03,202.56 276.17,203.96 276.31,202.46 276.45,202.25 276.59,203.87 276.72,202.76 276.86,203.94 277.00,205.06 277.14,203.23 277.28,203.79 277.42,203.78 277.56,201.53 277.70,204.82 277.84,203.04 277.98,204.34 278.11,202.58 278.25,203.16 278.39,203.09 278.53,204.34 278.67,204.19 278.81,202.62 278.95,201.84 279.09,203.06 279.23,204.36 279.37,203.21 279.50,201.27 279.64,203.46 279.78,202.20 279.92,204.27 280.06,203.63 280.20,203.02 280.34,203.24 280.48,204.34 280.62,204.39 280.75,202.72 280.89,202.55 281.03,202.26 281.17,202.00 281.31,203.57 281.45,204.00 281.59,202.45 281.73,203.06 281.87,204.66 282.01,204.72 282.14,203.30 282.28,203.94 282.42,203.81 282.56,202.79 282.70,203.10 282.84,202.58 282.98,205.64 283.12,203.61 283.26,203.20 283.40,205.29 283.53,204.49 283.67,204.67 283.81,203.88 283.95,202.39 284.09,202.03 284.23,204.69 284.37,203.45 284.51,203.43 284.65,203.60 284.79,203.60 284.92,203.70 285.06,202.42 285.20,202.98 285.34,205.01 285.48,203.29 285.62,203.21 285.76,203.76 285.90,203.01 286.04,203.90 286.18,203.90 286.31,203.99 286.45,206.00 286.59,204.20 286.73,204.76 286.87,205.25 287.01,202.82 287.15,203.70 287.29,204.21 287.43,204.72 287.57,203.92 287.70,203.28 287.84,204.99 287.98,204.24 288.12,203.43 288.26,206.06 288.40,204.32 288.54,204.68 288.68,204.41 288.82,204.77 288.96,204.18 289.09,202.52 289.23,204.63 289.37,204.07 289.51,202.49 289.65,204.88 289.79,202.68 289.93,204.38 290.07,202.73 290.21,203.71 290.35,204.13 290.48,204.49 290.62,205.02 290.76,204.38 290.90,203.62 291.04,204.48 291.18,204.78 291.32,204.73 291.46,203.58 291.60,203.37 291.74,205.15 291.87,205.16 292.01,204.19 292.15,203.13 292.29,203.50 292.43,205.75 292.57,204.84 292.71,205.47 292.85,204.86 292.99,203.12 293.13,205.96 293.26,206.15 293.40,205.43 293.54,204.39 293.68,204.09 293.82,204.28 293.96,203.60 294.10,206.35 294.24,203.60 294.38,205.02 294.51,204.05 294.65,205.98 294.79,204.75 294.93,204.55 295.07,203.70 295.21,206.27 295.35,204.77 295.49,205.82 295.63,204.35 295.77,204.10 295.90,203.64 296.04,205.35 296.18,203.99 296.32,203.60 296.46,206.42 296.60,204.32 296.74,204.01 296.88,205.15 297.02,206.05 297.16,204.05 297.29,206.06 297.43,205.12 297.57,205.00 297.71,204.31 297.85,205.57 297.99,205.63 298.13,204.91 298.27,204.07 298.41,202.89 298.55,206.44 298.68,204.75 298.82,206.07 298.96,204.11 299.10,205.95 299.24,205.72 299.38,205.65 299.52,205.18 299.66,204.81 299.80,204.67 299.94,205.14 300.07,206.39 300.21,204.48 300.35,205.22 300.49,204.09 300.63,205.85 300.77,206.69 300.91,205.24 301.05,204.01 301.19,205.08 301.33,205.42 301.46,206.06 301.60,203.61 301.74,206.23 301.88,205.95 302.02,204.75 302.16,207.03 302.30,204.12 302.44,204.73 302.58,204.49 302.72,204.81 302.85,205.50 302.99,206.35 303.13,205.50 303.27,206.29 303.41,204.93 303.55,204.64 303.69,204.02 303.83,205.07 303.97,204.56 304.11,205.71 304.24,205.89 304.38,205.01 304.52,205.82 304.66,205.22 304.80,206.47 304.94,206.32 305.08,204.91 305.22,204.68 305.36,206.44 305.50,204.90 305.63,206.04 305.77,205.53 305.91,204.24 306.05,204.82 306.19,204.84 306.33,203.81 306.47,206.26 306.61,206.53 306.75,206.29 306.88,205.87 307.02,207.84 307.16,205.84 307.30,206.16 307.44,204.93 307.58,205.35 307.72,206.25 307.86,205.14 308.00,205.03 308.14,206.43 308.27,206.18 308.41,207.81 308.55,206.76 308.69,206.44 308.83,205.69 308.97,206.65 309.11,206.26 309.25,206.93 309.39,205.64 309.53,205.41 309.66,205.44 309.80,205.81 309.94,207.28 310.08,206.42 310.22,206.23 310.36,206.24 310.50,205.80 310.64,204.55 310.78,205.13 310.92,206.82 311.05,205.28 311.19,205.32 311.33,206.68 311.47,205.14 311.61,206.10 311.75,207.27 311.89,205.54 312.03,205.77 312.17,206.20 312.31,206.03 312.44,206.67 312.58,205.44 312.72,206.06 312.86,205.87 313.00,205.71 313.14,207.13 313.28,206.89 313.42,208.13 313.56,205.55 313.70,207.22 313.83,205.97 313.97,205.76 314.11,205.55 314.25,207.25 314.39,206.19 314.53,204.58 314.67,204.55 314.81,205.24 314.95,205.85 315.09,207.11 315.22,205.51 315.36,206.34 315.50,205.68 315.64,206.80 315.78,206.38 315.92,206.08 316.06,206.01 316.20,205.79 316.34,206.80 316.48,207.52 316.61,204.76 316.75,203.96 316.89,205.87 317.03,207.54 317.17,207.03 317.31,205.84 317.45,205.07 317.59,207.47 317.73,206.46 317.87,206.17 318.00,205.56 318.14,206.69 318.28,207.84 318.42,205.81 318.56,205.35 318.70,206.48 318.84,206.04 318.98,206.87 319.12,207.22 319.26,205.48 319.39,206.09 319.53,206.00 319.67,205.07 319.81,207.46 319.95,207.00 320.09,206.35 320.23,207.03 320.37,205.78 320.51,206.70 320.64,207.46 320.78,206.48 320.92,206.39 321.06,205.68 321.20,206.20 321.34,206.14 321.48,206.28 321.62,206.77 321.76,207.27 321.90,206.34 322.03,206.93 322.17,205.05 322.31,205.38 322.45,206.05 322.59,206.30 322.73,206.74 322.87,207.85 323.01,206.88 323.15,206.59 323.29,206.48 323.42,206.26 323.56,205.85 323.70,207.37 323.84,207.37 323.98,205.38 324.12,206.02 324.26,207.12 324.40,206.86 324.54,206.86 324.68,206.75 324.81,206.34 324.95,204.43 325.09,206.63 325.23,206.19 325.37,208.40 325.51,207.28 325.65,205.69 325.79,206.47 325.93,210.95 326.07,206.23 326.20,205.08 326.34,208.74 326.48,205.47 326.62,209.48 326.76,206.03 326.90,206.92 327.04,209.12 327.18,206.51 327.32,205.86 327.46,206.60 327.59,206.41 327.73,207.35 327.87,208.71 328.01,206.33 328.15,205.35 328.29,205.94 328.43,208.86 328.57,208.43 328.71,207.81 328.85,208.51 328.98,206.99 329.12,206.68 329.26,208.39 329.40,206.33 329.54,206.51 329.68,207.59 329.82,207.24 329.96,208.91 330.10,207.41 330.24,207.10 330.37,206.96 330.51,206.77 330.65,206.90 330.79,207.39 330.93,206.88 331.07,206.22 331.21,207.25 331.35,206.88 331.49,207.35 331.63,207.79 331.76,206.71 331.90,207.72 332.04,206.85 332.18,207.19 332.32,207.51 332.46,207.54 332.60,207.72 332.74,208.79 332.88,206.90 333.01,207.05 333.15,206.48 333.29,207.78 333.43,205.52 333.57,207.65 333.71,208.13 333.85,208.24 333.99,208.94 334.13,205.90 334.27,206.06 334.40,206.79 334.54,208.19 334.68,205.67 334.82,207.70 334.96,207.63 335.10,206.04 335.24,206.78 335.38,205.34 335.52,207.18 335.66,207.79 335.79,208.00 335.93,209.16 336.07,207.70 336.21,206.38 336.35,206.90 336.49,207.44 336.63,208.40 336.77,207.27 336.91,206.54 337.05,207.09 337.18,207.35 337.32,208.25 337.46,206.71 337.60,210.45 337.74,207.18 337.88,205.14 338.02,208.96 338.16,207.78 338.30,207.57 338.44,208.00 338.57,206.61 338.71,207.15 338.85,207.45 338.99,206.86 339.13,207.59 339.27,204.65 339.41,207.48 339.55,207.45 339.69,209.24 339.83,208.16 339.96,206.58 340.10,208.91 340.24,209.69 340.38,207.65 340.52,206.40 340.66,207.65 340.80,208.01 340.94,209.44 341.08,207.29 341.22,207.10 341.35,209.39 341.49,206.68 341.63,207.03 341.77,206.69 341.91,207.21 342.05,207.16 342.19,207.29 342.33,206.97 342.47,209.49 342.61,209.20 342.74,208.49 342.88,207.93 343.02,207.46 343.16,207.52 343.30,206.79 343.44,206.77 343.58,208.66 343.72,207.63 343.86,208.66 344.00,208.05 344.13,207.58 344.27,211.07 344.41,205.64 344.55,207.37 344.69,208.46 344.83,206.11 344.97,208.25 345.11,207.81 345.25,208.39 345.38,206.40 345.52,208.05 345.66,207.82 345.80,206.84 345.94,207.43 346.08,208.03 346.22,206.95 346.36,205.62 346.50,207.70 346.64,207.90 346.77,207.86 346.91,206.80 347.05,208.59 347.19,208.30 347.33,209.48 347.47,209.16 347.61,208.54 347.75,208.12 347.89,206.42 348.03,207.58 348.16,208.94 348.30,208.77 348.44,206.82 348.58,207.06 348.72,208.09 348.86,208.54 349.00,207.08 349.14,209.06 349.28,207.78 349.42,206.03 349.55,207.97 349.69,208.89 349.83,207.79 349.97,208.62 350.11,209.49 350.25,207.54 350.39,207.16 350.53,208.50 350.67,208.57 350.81,209.12 350.94,208.37 351.08,208.76 351.22,209.19 351.36,206.48 351.50,207.82 351.64,207.73 351.78,207.44 351.92,207.56 352.06,208.67 352.20,208.04 352.33,208.55 352.47,207.89 352.61,207.99 352.75,208.68 352.89,209.57 353.03,208.20 353.17,208.53 353.31,210.11 353.45,207.88 353.59,207.46 353.72,206.00 353.86,208.74 354.00,208.88 354.14,209.42 354.28,208.20 354.42,208.21 354.56,209.16 354.70,208.58 354.84,210.27 354.98,207.56 355.11,209.15 355.25,208.47 355.39,209.78 355.53,209.00 355.67,208.72 355.81,208.48 355.95,208.03 356.09,207.14 356.23,207.80 356.37,207.60 356.50,207.15 356.64,207.98 356.78,208.55 356.92,207.58 357.06,207.53 357.20,207.93 357.34,209.90 357.48,209.33 357.62,208.81 357.76,207.83 357.89,208.59 358.03,207.51 358.17,207.35 358.31,207.47 358.45,207.47 358.59,209.57 358.73,208.16 358.87,209.18 359.01,210.16 359.14,208.90 359.28,207.40 359.42,208.21 359.56,206.76 359.70,208.49 359.84,206.37 359.98,208.50 360.12,208.65 360.26,209.88 360.40,207.65 360.53,209.16 360.67,209.30 360.81,207.51 360.95,207.63 361.09,207.66 361.23,209.06 361.37,208.78 361.51,208.79 361.65,208.01 361.79,207.30 361.92,208.41 362.06,206.92 362.20,207.93 362.34,209.00 362.48,208.01 362.62,207.20 362.76,206.93 362.90,207.69 363.04,208.78 363.18,209.02 363.31,208.28 363.45,207.26 363.59,208.43 363.73,208.42 363.87,208.80 364.01,209.16 364.15,209.01 364.29,208.74 364.43,207.27 364.57,209.10 364.70,208.84 364.84,209.70 364.98,208.23 365.12,207.63 365.26,207.39 365.40,208.73 365.54,208.39 365.68,209.07 365.82,208.44 365.96,208.65 366.09,208.89 366.23,208.83 366.37,208.54 366.51,209.24 366.65,209.20 366.79,207.38 366.93,206.45 367.07,210.12 367.21,210.17 367.35,209.90 367.48,209.11 367.62,208.18 367.76,208.47 367.90,208.87 368.04,208.54 368.18,209.69 368.32,209.28 368.46,209.07 368.60,210.54 368.74,210.15 368.87,210.12 369.01,208.36 369.15,208.85 369.29,208.52 369.43,210.82 369.57,210.49 369.71,208.49 369.85,211.71 369.99,207.98 370.13,210.83 370.26,208.34 370.40,209.97 370.54,208.16 370.68,206.15 370.82,211.28 370.96,208.51 371.10,210.86 371.24,208.78 371.38,209.37 371.51,209.07 371.65,210.04 371.79,208.47 371.93,210.56 372.07,208.05 372.21,209.60 372.35,210.53 372.49,207.74 372.63,209.30 372.77,207.46 372.90,208.11 373.04,210.00 373.18,209.34 373.32,209.15 373.46,207.84 373.60,208.87 373.74,209.12 373.88,209.48 374.02,209.34 374.16,208.08 374.29,209.30 374.43,209.68 374.57,209.85 374.71,209.84 374.85,210.64 374.99,210.04 375.13,207.94 375.27,209.54 375.41,208.69 375.55,211.68 375.68,208.83 375.82,209.52 375.96,209.83 376.10,209.21 376.24,209.85 376.38,211.38 376.52,208.54 376.66,209.18 376.80,209.70 376.94,210.32 377.07,210.80 377.21,209.22 377.35,207.93 377.49,209.25 377.63,210.74 377.77,209.24 377.91,209.51 378.05,208.66 378.19,208.90 378.33,212.26 378.46,208.97 378.60,210.42 378.74,210.82 378.88,209.67 379.02,209.12 379.16,211.04 379.30,208.86 379.44,208.81 379.58,209.48 379.72,210.34 379.85,210.45 379.99,208.58 380.13,210.96 380.27,208.56 380.41,209.71 380.55,209.66 380.69,211.17 380.83,209.71 380.97,209.01 381.11,210.84 381.24,209.13 381.38,209.52 381.52,210.21 381.66,208.81 381.80,211.67 381.94,209.30 382.08,208.11 382.22,208.29 382.36,209.27 382.50,209.93 382.63,210.24 382.77,209.94 382.91,209.15 383.05,210.42 383.19,208.96 383.33,207.68 383.47,209.74 383.61,210.94 383.75,210.95 383.89,208.97 384.02,209.76 384.16,208.89 384.30,210.21 384.44,208.94 384.58,209.87 384.72,210.42 384.86,210.11 385.00,210.86 385.14,207.89 385.27,209.84 385.41,209.16 385.55,210.27 385.69,210.75 385.83,209.99 385.97,208.75 386.11,210.27 386.25,210.61 386.39,209.65 386.53,209.34 386.66,208.27 386.80,209.48 386.94,209.22 387.08,209.15 387.22,210.91 387.36,210.74 387.50,210.85 387.64,211.09 387.78,209.11 387.92,209.59 388.05,209.79 388.19,212.29 388.33,207.95 388.47,210.71 388.61,207.97 388.75,211.24 388.89,210.65 389.03,211.96 389.17,209.57 389.31,210.94 389.44,210.92 389.58,211.20 389.72,209.20 389.86,209.27 390.00,208.24 390.14,210.58 390.28,209.74 390.42,211.16 390.56,210.27 390.70,210.45 390.83,209.53 390.97,209.02 391.11,209.05 391.25,210.77 391.39,209.06 391.53,210.03 391.67,210.30 391.81,210.67 391.95,210.53 392.09,208.39 392.22,209.73 392.36,209.86 392.50,210.27 392.64,207.75 392.78,208.82 392.92,210.72 393.06,210.31 393.20,210.26 393.34,209.92 393.48,210.72 393.61,209.66 393.75,208.72 393.89,211.31 394.03,211.14 394.17,210.54 394.31,210.50 394.45,208.23 394.59,209.17 394.73,209.23 394.87,210.36 395.00,210.39 395.14,211.48 395.28,209.40 395.42,209.68 395.56,208.94 395.70,210.34 395.84,210.28 395.98,210.00 396.12,209.33 396.26,211.54 396.39,209.48 396.53,210.20 396.67,211.17 396.81,212.14 396.95,210.32 397.09,208.84 397.23,208.64 397.37,209.88 397.51,208.38 397.64,210.26 397.78,209.33 397.92,210.65 398.06,210.71 398.20,210.87 398.34,212.17 398.48,209.04 398.62,210.85 398.76,211.01 398.90,211.36 399.03,210.46 399.17,208.62 399.31,208.32 399.45,211.83 399.59,210.62 399.73,211.26 399.87,209.37 400.01,210.03 400.15,210.90 400.29,210.24 400.42,210.76 400.56,208.81 400.70,209.81 400.84,209.70 400.98,212.83 401.12,210.40 401.26,208.40 401.40,209.11 401.54,212.08 401.68,210.65 401.81,211.49 401.95,208.77 402.09,210.15 402.23,211.10 402.37,210.35 402.51,212.83 402.65,211.41 402.79,210.36 402.93,209.61 403.07,212.22 403.20,210.77 403.34,209.47 403.48,211.78 403.62,210.21 403.76,210.37 403.90,208.83 404.04,210.66 404.18,210.61 404.32,209.65 404.46,211.70 404.59,210.67 404.73,210.89 404.87,210.60 405.01,209.68 405.15,209.96 405.29,211.18 405.43,210.36 405.57,209.10 405.71,211.28 405.85,210.37 405.98,210.69 406.12,210.57 406.26,212.04 406.40,209.20 406.54,211.25 406.68,209.57 406.82,211.12 406.96,211.12 407.10,209.41 407.24,209.62 407.37,210.36 407.51,209.85 407.65,210.83 407.79,210.58 407.93,211.19 408.07,209.73 408.21,211.23 408.35,209.20 408.49,210.89 408.63,210.58 408.76,209.89 408.90,210.58 409.04,210.89 409.18,210.64 409.32,209.78 409.46,211.24 409.60,210.75 409.74,210.62 409.88,209.83 410.02,210.74 410.15,208.96 410.29,210.80 410.43,210.88 410.57,210.82 410.71,211.89 410.85,211.64 410.99,211.17 411.13,209.62 411.27,210.71 411.40,211.14 411.54,209.55 411.68,209.25 411.82,209.53 411.96,211.50 412.10,211.17 412.24,209.02 412.38,210.49 412.52,210.97 412.66,210.06 412.79,209.79 412.93,211.27 413.07,210.54 413.21,209.88 413.35,211.83 413.49,210.74 413.63,211.80 413.77,211.68 413.91,211.29 414.05,210.33 414.18,211.08 414.32,211.39 414.46,210.74 414.60,211.86 414.74,210.39 414.88,209.74 415.02,210.88 415.16,211.00 415.30,210.46 415.44,212.71 415.57,210.32 415.71,207.93 415.85,210.94 415.99,210.95 416.13,210.14 416.27,209.30 416.41,209.94 416.55,212.87 416.69,210.33 416.83,208.46 416.96,210.28 417.10,211.95 417.24,210.61 417.38,212.07 417.52,209.73 417.66,211.78 417.80,210.82 417.94,211.70 418.08,211.41 418.22,209.51 418.35,210.81 418.49,211.43 418.63,211.99 418.77,212.67 418.91,212.09 419.05,210.82 419.19,210.02 419.33,211.46 419.47,209.47 419.61,211.62 419.74,211.17 419.88,211.96 420.02,210.03 420.16,209.00 420.30,212.61 420.44,211.29 420.58,209.79 420.72,212.33 420.86,210.45 421.00,209.85 421.13,210.92 421.27,210.48 421.41,209.36 421.55,209.18 421.69,211.07 421.83,211.51 421.97,211.88 422.11,210.11 422.25,212.31 422.39,211.27 422.52,210.94 422.66,211.51 422.80,210.78 422.94,208.65 423.08,211.16 423.22,211.46 423.36,210.11 423.50,210.84 423.64,209.72 423.77,210.92 423.91,211.31 424.05,212.75 424.19,212.60 424.33,212.80 424.47,210.74 424.61,212.37 424.75,209.93 424.89,211.08 425.03,211.34 425.16,211.90 425.30,210.54 425.44,211.87 425.58,212.05 425.72,210.02 425.86,210.80 426.00,211.36 426.14,210.54 426.28,211.14 426.42,210.79 426.55,211.92 426.69,209.22 426.83,211.70 426.97,209.71 427.11,211.35 427.25,210.42 427.39,210.49 427.53,210.11 427.67,211.97 427.81,210.18 427.94,209.47 428.08,211.44 428.22,211.17 428.36,211.69 428.50,211.53 428.64,209.61 428.78,212.16 428.92,212.10 429.06,209.72 429.20,210.65 429.33,209.25 429.47,211.66 429.61,211.12 429.75,211.86 429.89,211.12 430.03,212.91 430.17,210.62 430.31,210.96 430.45,211.32 430.59,211.63 430.72,212.11 430.86,210.60 431.00,212.38 431.14,210.81 431.28,209.35 431.42,209.90 431.56,212.70 431.70,211.80 431.84,210.91 431.98,211.37 432.11,212.62 432.25,210.96 432.39,211.33 432.53,209.53 432.67,211.56 432.81,210.24 432.95,212.52 433.09,212.30 433.23,210.67 433.37,210.33 433.50,212.25 433.64,211.33 433.78,212.65 433.92,211.53 434.06,210.58 434.20,211.78 434.34,211.61 434.48,212.43 434.62,211.99 434.76,209.74 434.89,211.32 435.03,212.33 435.17,211.69 435.31,212.89 435.45,212.35 435.59,210.14 435.73,211.54 435.87,209.65 436.01,211.51 436.14,211.46 436.28,210.83 436.42,213.93 436.56,211.24 436.70,211.48 436.84,210.05 436.98,210.54 437.12,212.51 437.26,210.29 437.40,211.70 437.53,212.31 437.67,211.28 437.81,211.66 437.95,210.03 438.09,211.16 438.23,211.29 438.37,210.64 438.51,210.47 438.65,210.76 438.79,210.17 438.92,210.93 439.06,211.34 439.20,210.35 439.34,211.59 439.48,211.48 439.62,209.91 439.76,210.00 439.90,211.53 440.04,211.95 440.18,210.16 440.31,210.79 440.45,211.24 440.59,211.84 440.73,211.24 440.87,211.57 441.01,212.17 441.15,211.44 441.29,211.31 441.43,211.91 441.57,210.72 441.70,210.37 441.84,210.67 441.98,211.84 442.12,210.88 442.26,211.51 442.40,212.74 442.54,210.96 442.68,211.46 442.82,209.18 442.96,210.24 443.09,210.94 443.23,211.38 443.37,211.46 443.51,212.56 443.65,213.25 443.79,212.44 443.93,211.67 444.07,213.60 444.21,212.14 444.35,211.87 444.48,211.84 444.62,212.26 444.76,211.97 444.90,210.04 445.04,211.04 445.18,212.18 445.32,211.73 445.46,211.69 445.60,212.39 445.74,212.39 445.87,210.73 446.01,212.07 446.15,212.71 446.29,211.73 446.43,211.58 446.57,213.54 446.71,211.74 446.85,210.89 446.99,211.28 447.13,209.63 447.26,210.54 447.40,210.36 447.54,209.10 447.68,211.02 447.82,211.57 447.96,210.82 448.10,212.26 448.24,211.64 448.38,212.35 448.52,211.37 448.65,212.36 448.79,212.39 448.93,211.37 449.07,211.89 449.21,213.56 449.35,213.13 449.49,212.84 449.63,212.60 449.77,211.39 449.90,211.57 450.04,210.79 450.18,211.08 450.32,210.79 450.46,211.22 450.60,211.60 450.74,210.77 450.88,210.94 451.02,211.45 451.16,210.62 451.29,214.01 451.43,212.09 451.57,212.11 451.71,210.75 451.85,210.36 451.99,213.19 452.13,210.51 452.27,212.93 452.41,212.91 452.55,212.06 452.68,212.14 452.82,213.31 452.96,211.25 453.10,211.22 453.24,210.88 453.38,212.27 453.52,211.90 453.66,211.90 453.80,210.30 453.94,214.53 454.07,212.77 454.21,211.88 454.35,212.90 454.49,212.13 454.63,212.01 454.77,212.51 454.91,211.84 455.05,211.32 455.19,212.13 455.33,212.33 455.46,212.07 455.60,211.92 455.74,213.55 455.88,211.49 456.02,212.35 456.16,210.75 456.30,211.38 456.44,210.84 456.58,212.88 456.72,212.29 456.85,213.11 456.99,212.61 457.13,210.78 457.27,210.57 457.41,213.03 457.55,212.39 457.69,212.04 457.83,211.42 457.97,213.62 458.11,213.47 458.24,211.52 458.38,213.80 458.52,212.40 458.66,211.84 458.80,211.60 458.94,212.13 459.08,212.34 459.22,211.21 459.36,211.74 459.50,212.61 459.63,211.98 459.77,211.66 459.91,210.41 460.05,211.29 460.19,210.89 460.33,212.60 460.47,212.52 460.61,212.25 460.75,212.17 460.89,212.98 461.02,210.86 461.16,211.22 461.30,212.33 461.44,211.45 461.58,211.85 461.72,211.39 461.86,213.32 462.00,212.20 462.14,212.12 462.27,211.49 462.41,212.66 462.55,214.41 462.69,213.09 462.83,212.14 462.97,212.03 463.11,210.52 463.25,211.55 463.39,212.02 463.53,212.13 463.66,211.07 463.80,212.66 463.94,212.24 464.08,213.13 464.22,210.79 464.36,211.75 464.50,212.78 464.64,212.23 464.78,211.65 464.92,212.36 465.05,212.63 465.19,212.75 465.33,211.82 465.47,212.48 465.61,212.57 465.75,213.40 465.89,212.08 466.03,212.32 466.17,212.46 466.31,211.97 466.44,211.46 466.58,211.51 466.72,211.65 466.86,212.40 467.00,212.70 467.14,213.15 467.28,212.74 467.42,212.17 467.56,212.92 467.70,212.10 467.83,213.10 467.97,213.75 468.11,211.43 468.25,212.65 468.39,212.99 468.53,213.23 468.67,211.82 468.81,210.93 468.95,212.59 469.09,212.42 469.22,211.22 469.36,213.92 469.50,210.39 469.64,209.95 469.78,214.76 469.92,212.33 470.06,212.91 470.20,212.49 470.34,212.64 470.48,211.49 470.61,212.36 470.75,213.11 470.89,212.42 471.03,211.78 471.17,213.37 471.31,213.81 471.45,210.41 471.59,212.87 471.73,212.40 471.87,212.65 472.00,211.77 472.14,210.63 472.28,211.75 472.42,213.71 472.56,213.59 472.70,212.67 472.84,212.55 472.98,213.91 473.12,211.54 473.26,213.32 473.39,210.92 473.53,210.61 473.67,212.55 473.81,211.91 473.95,213.47 474.09,211.74 474.23,212.79 474.37,213.35 474.51,212.60 474.65,212.77 474.78,212.64 474.92,211.46 475.06,213.08 475.20,210.73 475.34,213.59 475.48,210.84 475.62,213.31 475.76,212.36 475.90,212.82 476.03,212.69 476.17,211.62 476.31,210.97 476.45,211.26 476.59,212.75 476.73,212.21 476.87,213.11 477.01,213.31 477.15,213.46 477.29,212.80 477.42,212.16 477.56,214.18 477.70,212.44 477.84,210.99 477.98,211.36 478.12,212.95 478.26,213.72 478.40,211.98 478.54,214.58 478.68,211.38 478.81,212.62 478.95,210.71 479.09,214.04 479.23,211.57 479.37,212.53 479.51,212.74 479.65,213.72 479.79,211.88 479.93,211.81 480.07,210.78 480.20,211.51 480.34,213.01 480.48,213.39 480.62,213.74 480.76,211.08 480.90,213.19 481.04,211.08 481.18,211.98 481.32,212.16 481.46,212.76 481.59,211.86 481.73,212.49 481.87,212.83 482.01,211.83 482.15,212.62 482.29,213.24 482.43,211.93 482.57,212.56 482.71,212.04 482.85,212.93 482.98,213.63 483.12,210.88 483.26,211.06 483.40,211.69 483.54,212.88 483.68,212.80 483.82,211.23 483.96,212.85 484.10,213.12 484.24,210.78 484.37,212.57 484.51,210.88 484.65,213.84 484.79,212.05 484.93,210.61 485.07,212.52 485.21,212.79 485.35,213.64 485.49,211.54 485.63,213.27 485.76,212.65 485.90,213.71 486.04,211.11 486.18,211.49 486.32,212.60 486.46,213.65 486.60,211.14 486.74,212.92 486.88,213.61 487.02,214.23 487.15,213.19 487.29,213.95 487.43,213.17 487.57,211.90 487.71,212.94 487.85,212.26 487.99,213.27 488.13,212.54 488.27,210.81 488.40,212.93 488.54,212.25 488.68,214.07 488.82,211.19 488.96,213.06 489.10,211.64 489.24,212.74 489.38,212.05 489.52,212.00 489.66,213.05 489.79,211.61 489.93,213.34 490.07,211.91 490.21,213.00 490.35,212.32 490.49,213.08 490.63,212.60 490.77,213.65 490.91,212.42 491.05,212.61 491.18,213.16 491.32,212.71 491.46,212.54 491.60,213.24 491.74,212.79 491.88,213.61 492.02,210.48 492.16,211.69 492.30,212.42 492.44,211.59 492.57,214.53 492.71,215.08 492.85,213.06 492.99,213.98 493.13,212.91 493.27,212.50 493.41,211.84 493.55,213.76 493.69,212.33 493.83,212.69 493.96,212.38 494.10,213.20 494.24,211.42 494.38,212.81 494.52,211.06 494.66,213.46 494.80,212.03 494.94,212.78 495.08,213.03 495.22,212.14 495.35,213.01 495.49,215.22 495.63,215.60 495.77,211.55 495.91,211.59 496.05,210.98 496.19,212.76 496.33,213.96 496.47,213.14 496.61,212.74 496.74,213.70 496.88,211.22 497.02,210.67 497.16,212.32 497.30,212.78 497.44,213.98 497.58,211.33 497.72,212.70 497.86,213.05 498.00,212.33 498.13,213.33 498.27,212.65 498.41,214.13 498.55,211.77 498.69,212.89 498.83,211.71 498.97,212.98 499.11,212.93 499.25,213.93 499.39,212.09 499.52,213.62 499.66,213.26 499.80,212.81 499.94,212.70 500.08,214.41 500.22,213.03 500.36,212.08 500.50,213.18 500.64,213.04 500.78,212.68 500.91,212.95 501.05,213.80 501.19,212.87 501.33,211.91 501.47,213.82 501.61,213.19 501.75,214.14 501.89,211.97 502.03,212.94 502.16,213.65 502.30,212.77 502.44,213.98 502.58,213.82 502.72,214.22 502.86,213.86 503.00,211.60 503.14,213.55 503.28,212.43 503.42,213.65 503.55,212.16 503.69,213.84 503.83,212.84 503.97,212.83 504.11,210.71 504.25,212.30 504.39,213.44 504.53,212.25 504.67,210.90 504.81,214.42 504.94,213.68 505.08,213.12 505.22,213.29 505.36,213.22 505.50,214.13 505.64,211.60 505.78,214.24 505.92,213.10 506.06,211.94 506.20,212.95 506.33,213.84 506.47,214.18 506.61,213.14 506.75,213.63 506.89,212.74 507.03,214.24 507.17,212.17 507.31,212.83 507.45,212.76 507.59,211.59 507.72,213.35 507.86,213.62 508.00,213.46 508.14,213.13 508.28,213.04 508.42,213.73 508.56,214.85 508.70,213.48 508.84,212.63 508.98,212.84 509.11,211.84 509.25,211.14 509.39,212.26 509.53,211.68 509.67,212.26 509.81,211.38 509.95,211.25 510.09,212.09 510.23,212.32 510.37,213.18 510.50,213.03 510.64,213.31 510.78,212.41 510.92,213.67 511.06,213.18 511.20,215.20 511.34,211.39 511.48,213.21 511.62,212.58 511.76,211.65 511.89,212.73 512.03,211.66 512.17,214.17 512.31,210.78 512.45,212.00 512.59,212.83 512.73,211.69 512.87,214.12 513.01,213.30 513.15,211.68 513.28,214.78 513.42,212.51 513.56,212.54 513.70,211.20 513.84,214.52 513.98,211.54 514.12,213.57 514.26,213.46 514.40,214.19 514.53,214.07 514.67,212.68 514.81,214.09 514.95,212.37 515.09,213.68 515.23,214.20 515.37,213.56 515.51,212.75 515.65,213.33 515.79,213.04 515.92,212.42 516.06,212.06 516.20,213.37 516.34,214.05 516.48,213.01 516.62,212.64 516.76,214.45 516.90,213.92 517.04,213.76 517.18,213.29 517.31,213.80 517.45,212.44 517.59,214.60 517.73,214.58 517.87,213.41 518.01,213.27 518.15,214.47 518.29,213.68 518.43,213.49 518.57,213.48 518.70,212.97 518.84,213.73 518.98,211.74 519.12,212.66 519.26,213.88 519.40,213.04 519.54,213.01 519.68,211.99 519.82,213.69 519.96,212.42 520.09,213.10 520.23,211.74 520.37,211.93 520.51,212.96 520.65,213.39 520.79,212.67 520.93,213.32 521.07,211.58 521.21,213.08 521.35,213.53 521.48,213.59 521.62,214.29 521.76,212.64 521.90,213.93 522.04,212.14 522.18,214.37 522.32,213.05 522.46,212.10 522.60,215.18 522.74,211.29 522.87,213.57 523.01,213.05 523.15,212.65 523.29,212.50 523.43,212.93 523.57,212.25 523.71,212.70 523.85,211.54 523.99,212.70 524.13,211.36 524.26,212.35 524.40,214.89 524.54,210.76 524.68,213.74 524.82,211.81 524.96,213.18 525.10,212.22 525.24,213.85 525.38,212.63 525.52,213.45 525.65,211.74 525.79,212.81 525.93,212.35 526.07,215.24 526.21,213.30 526.35,212.84 526.49,213.02 526.63,212.33 526.77,213.57 526.91,213.19 527.04,212.13 527.18,215.37 527.32,212.69 527.46,213.55 527.60,214.10 527.74,212.93 527.88,212.10 528.02,212.28 528.16,213.38 528.29,212.44 528.43,212.44 528.57,213.34 528.71,213.91 528.85,213.86 528.99,212.48 529.13,213.30 529.27,214.24 529.41,214.84 529.55,212.49 529.68,213.78 529.82,212.97 529.96,212.12 530.10,214.50 530.24,213.32 530.38,213.44 530.52,212.93 530.66,212.13 530.80,214.53 530.94,212.76 531.07,212.33 531.21,213.47 531.35,213.42 531.49,212.91 531.63,212.98 531.77,212.76 531.91,212.78 532.05,214.22 532.19,212.38 532.33,212.22 532.46,213.14 532.60,214.71 532.74,213.42 532.88,213.14 533.02,214.39 533.16,213.66 533.30,214.64 533.44,212.76 533.58,213.17 533.72,214.87 533.85,213.00 533.99,213.38 534.13,212.85 534.27,213.70 534.41,214.09 534.55,214.06 534.69,213.84 534.83,213.33 534.97,213.21 535.11,213.53 535.24,213.74 535.38,213.68 535.52,211.01 535.66,214.07 535.80,213.88 535.94,210.28 536.08,212.97 536.22,214.65 536.36,212.58 536.50,214.22 536.63,212.52 536.77,213.57 536.91,213.78 537.05,211.87 537.19,212.85 537.33,212.47 537.47,212.97 537.61,213.80 537.75,212.81 537.89,212.25 538.02,213.26 538.16,211.70 538.30,212.59 538.44,213.19 538.58,213.16 538.72,213.27 538.86,214.57 539.00,213.48 539.14,213.19 539.28,213.79 539.41,213.09 539.55,213.39 539.69,212.68 539.83,212.79 539.97,213.25 540.11,214.69 540.25,211.74 540.39,213.55 540.53,213.49 540.66,213.74 540.80,213.88 540.94,211.98 541.08,212.13 541.22,213.01 541.36,213.53 541.50,212.85 541.64,213.36 541.78,213.61 541.92,213.12 542.05,213.85 542.19,213.20 542.33,213.25 542.47,212.88 542.61,214.02 542.75,212.78 542.89,214.29 543.03,213.98 543.17,213.95 543.31,214.45 543.44,212.51 543.58,214.36 543.72,214.11 543.86,212.29 544.00,213.99 544.14,213.64 544.28,214.41 544.42,212.69 544.56,212.68 544.70,212.78 544.83,212.97 544.97,213.41 545.11,213.97 545.25,214.24 545.39,212.27 545.53,212.77 545.67,214.13 545.81,213.45 545.95,213.77 546.09,214.54 546.22,213.32 546.36,213.88 546.50,214.38 546.64,214.88 546.78,214.96 546.92,213.84 547.06,213.58 547.20,214.32 547.34,212.89 547.48,213.57 547.61,212.97 547.75,213.68 547.89,214.25 548.03,213.40 548.17,214.69 548.31,213.01 548.45,214.39 548.59,212.66 548.73,213.84 548.87,212.53 549.00,214.57 549.14,214.16 549.28,213.17 549.42,212.43 549.56,211.97 549.70,213.49 549.84,211.82 549.98,213.81 550.12,212.51 550.26,214.42 550.39,213.15 550.53,215.73 550.67,214.59 550.81,213.11 550.95,214.77 551.09,213.15 551.23,212.70 551.37,214.02 551.51,214.46 551.65,214.00 551.78,214.46 551.92,213.65 552.06,213.46 552.20,213.85 552.34,212.00 552.48,214.24 552.62,212.27 552.76,214.54 552.90,213.50 553.03,212.47 553.17,212.52 553.31,213.97 553.45,213.06 553.59,213.18 553.73,214.08 553.87,213.01 554.01,211.84 554.15,213.14 554.29,213.06 554.42,212.96 554.56,214.95 554.70,213.16 554.84,214.54 554.98,214.14 555.12,211.58 555.26,213.83 555.40,214.29 555.54,212.52 555.68,214.49 555.81,214.02 555.95,212.44 556.09,213.57 556.23,215.07 556.37,213.10 556.51,213.98 556.65,212.17 556.79,214.18 556.93,212.63 557.07,211.96 557.20,214.41 557.34,213.80 557.48,213.26 557.62,214.43 557.76,213.37 557.90,213.84 558.04,213.86 558.18,213.58 558.32,213.57 558.46,213.48 558.59,214.19 558.73,214.16 558.87,213.75 559.01,213.68 559.15,214.05 559.29,213.34 559.43,215.34 559.57,214.33 559.71,213.91 559.85,214.45 559.98,212.13 560.12,213.63 560.26,213.49 560.40,214.11 560.54,213.67 560.68,214.79 560.82,213.82 560.96,214.54 561.10,213.92 561.24,216.06 561.37,214.72 561.51,212.30 561.65,212.89 561.79,212.44 561.93,212.38 562.07,213.04 562.21,214.10 562.35,214.65 562.49,212.61 562.63,213.62 562.76,211.35 562.90,214.02 563.04,211.84 563.18,213.83 563.32,212.44 563.46,212.10 563.60,214.65 563.74,214.15 563.88,214.66 564.02,214.84 564.15,213.07 564.29,213.88 564.43,213.65 564.57,213.18 564.71,215.44 564.85,212.50 564.99,214.03 565.13,213.21 565.27,213.13 565.41,212.43 565.54,213.81 565.68,215.70 565.82,213.66 565.96,213.53 566.10,214.68 566.24,213.58 566.38,214.06 566.52,214.98 566.66,213.10 566.79,214.25 566.93,214.11 567.07,214.16 567.21,212.57 567.35,213.77 567.49,213.66 567.63,214.15 567.77,213.30 567.91,212.48 568.05,213.13 568.18,213.10 568.32,213.17 568.46,215.03 568.60,214.56 568.74,213.94 568.88,214.42 569.02,214.74 569.16,215.50 569.30,215.01 569.44,213.99 569.57,213.82 569.71,214.50 569.85,213.68 569.99,214.16 570.13,212.74 570.27,213.91 570.41,213.11 570.55,213.57 570.69,215.08 570.83,213.85 570.96,214.92 571.10,213.87 571.24,214.47 571.38,213.42 571.52,215.03 571.66,213.76 571.80,213.24 571.94,212.93 572.08,214.49 572.22,213.76 572.35,213.61 572.49,212.34 572.63,215.17 572.77,214.64 572.91,211.17 573.05,214.04 573.19,215.56 573.33,214.34 573.47,216.38 573.61,213.57 573.74,213.04 573.88,214.65 574.02,214.24 574.16,212.94 574.30,215.44 574.44,215.04 574.58,214.02 574.72,214.51 574.86,214.08 575.00,214.99 575.13,213.61 575.27,213.95 575.41,213.30 575.55,213.63 575.69,213.62 575.83,215.17 575.97,213.36 576.11,214.13 576.25,213.98 576.39,212.84 576.52,214.50 576.66,212.56 576.80,212.48 576.94,213.13 577.08,214.75 577.22,215.87 577.36,212.82 577.50,213.73 577.64,214.53 577.78,212.74 577.91,214.64 578.05,214.24 578.19,213.35 578.33,214.88 578.47,213.95 578.61,212.83 578.75,213.65 578.89,212.68 579.03,212.79 579.16,213.84 579.30,216.04 579.44,214.89 579.58,213.14 579.72,215.30 579.86,214.16 580.00,213.54 580.14,212.49 580.28,214.40 580.42,214.46 580.55,213.91 580.69,213.54 580.83,214.01 580.97,212.89 581.11,214.62 581.25,213.76 581.39,213.46 581.53,214.25 581.67,213.09 581.81,213.74 581.94,213.14 582.08,213.70 582.22,213.53 582.36,214.47 582.50,214.47 582.64,212.74 582.78,213.29 582.92,214.84 583.06,213.72 583.20,216.11 583.33,214.43 583.47,212.99 583.61,214.01 583.75,213.78 583.89,216.71 584.03,214.26 584.17,213.58 584.31,213.46 584.45,213.00 584.59,214.10 584.72,214.06 584.86,215.15 585.00,214.10 585.14,215.09 585.28,215.64 585.42,214.92 585.56,212.50 585.70,214.17 585.84,213.71 585.98,214.39 586.11,215.59 586.25,213.04 586.39,215.95 586.53,214.44 586.67,213.97 586.81,213.71 586.95,214.60 587.09,215.64 587.23,214.67 587.37,214.63 587.50,214.65 587.64,213.02 587.78,215.07 587.92,213.65 588.06,213.79 588.20,213.04 588.34,214.06 588.48,213.20 588.62,214.10 588.76,213.53 588.89,215.35 589.03,216.41 589.17,213.59 589.31,213.54 589.45,213.50 589.59,214.44 589.73,212.56 589.87,214.38 590.01,213.56 590.15,213.40 590.28,212.35 590.42,214.25 590.56,214.57 590.70,215.36 590.84,212.51 590.98,213.57 591.12,213.54 591.26,211.05 591.40,213.66 591.54,215.18 591.67,214.15 591.81,214.88 591.95,214.34 592.09,214.35 592.23,214.52 592.37,215.27 592.51,212.49 592.65,213.70 592.79,214.19 592.92,213.27 593.06,213.54 593.20,213.72 593.34,213.34 593.48,213.86 593.62,213.36 593.76,213.28 593.90,213.83 594.04,214.19 594.18,212.56 594.31,214.44 594.45,213.63 594.59,213.61 594.73,214.56 594.87,214.75 595.01,214.33 595.15,214.46 595.29,215.36 595.43,214.61 595.57,213.75 595.70,212.82 595.84,213.48 595.98,216.43 596.12,213.41 596.26,214.53 596.40,213.58 596.54,214.02 596.68,214.19 596.82,214.11 596.96,214.03 597.09,212.76 597.23,214.03 597.37,213.00 597.51,213.14 597.65,213.40 597.79,215.69 597.93,212.98 598.07,214.45 598.21,213.35 598.35,214.93 598.48,215.13 598.62,212.18 598.76,214.92 598.90,212.96 599.04,213.92 599.18,214.42 599.32,214.07 599.46,215.25 599.60,214.05 599.74,215.05 599.87,214.41 600.01,213.17 600.15,213.80 600.29,215.43 600.43,213.25 600.57,214.05 600.71,214.55 600.85,213.35 600.99,214.20 601.13,215.14 601.26,212.32 601.40,214.07 601.54,214.13 601.68,214.43 601.82,212.95 601.96,214.54 602.10,215.50 602.24,214.69 602.38,212.82 602.52,213.28 602.65,214.30 602.79,212.78 602.93,213.36 603.07,214.31 603.21,214.22 603.35,213.76 603.49,214.84 603.63,214.06 603.77,213.78 603.91,215.65 604.04,214.25 604.18,214.36 604.32,213.11 604.46,215.80 604.60,214.43 604.74,214.53 604.88,213.18 605.02,214.12 605.16,212.40 605.29,213.46 605.43,214.47 605.57,213.86 605.71,214.42 605.85,213.28 605.99,215.33 606.13,214.86 606.27,213.66 606.41,212.95 606.55,216.15 606.68,212.81 606.82,214.22 606.96,215.86 607.10,216.90 607.24,215.53 607.38,214.12 607.52,214.16 607.66,213.51 607.80,214.62 607.94,215.14 608.07,214.49 608.21,214.07 608.35,213.89 608.49,214.84 608.63,213.27 608.77,214.69 608.91,214.92 609.05,214.62 609.19,213.11 609.33,214.24 609.46,214.76 609.60,213.25 609.74,212.11 609.88,213.92 610.02,212.97 610.16,213.15 610.30,214.69 610.44,214.10 610.58,215.32 610.72,214.32 610.85,214.71 610.99,214.50 611.13,214.83 611.27,214.40 611.41,213.63 611.55,214.24 611.69,215.87 611.83,214.83 611.97,215.55 612.11,213.91 612.24,213.67 612.38,213.90 612.52,214.87 612.66,213.91 612.80,214.58 612.94,215.21 613.08,213.45 613.22,213.38 613.36,213.26 613.50,214.71 613.63,213.04 613.77,214.61 613.91,213.54 614.05,214.63 614.19,214.36 614.33,216.41 614.47,214.44 614.61,214.07 614.75,214.54 614.89,212.52 615.02,215.24 615.16,214.68 615.30,215.00 615.44,214.69 615.58,213.20 615.72,212.78 615.86,214.82 616.00,214.84 616.14,215.25 616.28,212.95 616.41,213.12 616.55,214.27 616.69,215.47 616.83,215.39 616.97,214.01 617.11,213.66 617.25,216.10 617.39,214.48 617.53,212.66 617.67,214.38 617.80,212.79 617.94,213.57 618.08,215.19 618.22,214.45 618.36,214.30 618.50,215.07 618.64,215.09 618.78,212.78 618.92,215.10 619.05,213.18 619.19,214.60 619.33,214.21 619.47,213.67 619.61,214.75 619.75,213.66 619.89,216.11 620.03,213.78 620.17,216.50 620.31,214.41 620.44,213.40 620.58,213.62 620.72,215.41 620.86,215.29 621.00,214.84 621.14,214.03 621.28,216.10 621.42,214.22 621.56,213.91 621.70,214.47 621.83,213.72 621.97,214.00 622.11,214.72 622.25,216.02 622.39,214.09 622.53,215.10 622.67,214.75 622.81,213.77 622.95,212.89 623.09,214.25 623.22,213.70 623.36,215.57 623.50,213.99 623.64,214.28 623.78,213.07 623.92,214.73 624.06,214.45 624.20,213.23 624.34,214.31 624.48,215.26 624.61,211.84 624.75,215.24 624.89,214.29 625.03,213.91 625.17,213.98 625.31,214.41 625.45,214.41 625.59,214.45 625.73,215.28 625.87,212.23 626.00,214.44 626.14,213.68 626.28,214.55 626.42,214.57 626.56,214.67 626.70,215.69 626.84,214.39 626.98,214.62 627.12,213.15 627.26,215.36 627.39,214.79 627.53,215.09 627.67,212.90 627.81,215.06 627.95,213.72 628.09,213.34 628.23,214.39 628.37,215.54 628.51,215.53 628.65,213.45 628.78,215.43 628.92,213.89 629.06,214.15 629.20,213.91 629.34,213.82 629.48,215.13 629.62,215.17 629.76,213.59 629.90,214.85 630.04,216.83 630.17,213.66 630.31,215.23 630.45,213.83 630.59,212.97 630.73,214.25 630.87,213.34 631.01,214.13 631.15,212.79 631.29,215.26 631.42,214.28 631.56,213.65 631.70,214.45 631.84,213.20 631.98,214.68 632.12,212.34 632.26,212.30 632.40,214.02 632.54,213.76 632.68,213.17 632.81,215.39 632.95,215.51 633.09,213.11 633.23,214.03 633.37,214.50 633.51,214.28 633.65,216.52 633.79,214.47 633.93,214.99 634.07,213.43 634.20,213.36 634.34,213.75 634.48,213.92 634.62,215.69 634.76,213.74 634.90,213.71 635.04,213.13 635.18,212.32 635.32,215.88 635.46,214.66 635.59,214.99 635.73,214.14 635.87,214.29 636.01,214.52 636.15,213.34 636.29,215.33 636.43,215.28 636.57,215.26 636.71,214.64 636.85,215.46 636.98,214.35 637.12,214.47 637.26,215.05 637.40,213.50 637.54,214.37 637.68,213.32 637.82,214.50 637.96,214.34 638.10,214.84 638.24,214.32 638.37,213.65 638.51,214.70 638.65,213.84 638.79,215.08 638.93,213.61 639.07,214.86 639.21,213.53 639.35,214.27 639.49,212.90 639.63,215.40 639.76,215.71 639.90,214.90 640.04,215.62 640.18,215.62 640.32,213.75 640.46,214.34 640.60,214.78 640.74,214.69 640.88,214.89 641.02,212.79 641.15,215.02 641.29,215.57 641.43,213.59 641.57,214.54 641.71,212.43 641.85,214.83 641.99,213.55 642.13,213.33 642.27,214.83 642.41,215.04 642.54,213.65 642.68,213.81 642.82,215.66 642.96,215.40 643.10,216.72 643.24,213.79 643.38,214.59 643.52,214.50 643.66,215.93 643.80,215.38 643.93,214.80 644.07,214.98 644.21,214.24 644.35,213.81 644.49,212.24 644.63,214.38 644.77,213.32 644.91,215.13 645.05,215.92 645.18,214.69 645.32,215.85 645.46,214.35 645.60,215.09 645.74,216.19 645.88,212.74 646.02,214.87 646.16,215.90 646.30,213.53 646.44,215.05 646.57,213.35 646.71,215.06 646.85,214.88 646.99,214.05 647.13,213.82 647.27,213.66 647.41,214.46 647.55,213.88 647.69,213.68 647.83,214.19 647.96,214.51 648.10,215.73 648.24,213.82 648.38,214.34 648.52,214.77 648.66,213.19 648.80,215.72 648.94,212.85 649.08,214.40 649.22,214.09 649.35,214.75 649.49,215.94 649.63,214.52 649.77,214.08 649.91,213.76 650.05,214.57 650.19,216.44 650.33,215.83 650.47,212.47 650.61,215.41 650.74,213.06 650.88,215.27 651.02,214.57 651.16,213.81 651.30,215.16 651.44,212.91 651.58,214.33 651.72,213.97 651.86,214.65 652.00,213.79 652.13,212.93 652.27,214.53 652.41,212.79 652.55,214.98 652.69,213.69 652.83,213.95 652.97,215.40 653.11,214.21 653.25,214.40 653.39,215.21 653.52,214.07 653.66,214.27 653.80,214.48 653.94,214.48 654.08,214.50 654.22,214.76 654.36,214.28 654.50,215.02 654.64,211.93 654.78,215.73 654.91,214.96 655.05,214.89 655.19,212.51 655.33,215.65 655.47,214.02 655.61,214.19"/><polyline stroke="#7564ae" stroke-width="3.0" points="99.79,31.58 99.93,33.63 100.07,30.64 100.21,30.77 100.35,36.25 100.49,36.75 100.62,33.25 100.76,34.50 100.90,34.17 101.04,36.11 101.18,32.21 101.32,33.68 101.46,34.12 101.60,32.73 101.74,34.38 101.88,36.09 102.01,33.81 102.15,36.33 102.29,33.22 102.43,36.23 102.57,35.45 102.71,38.01 102.85,33.98 102.99,37.41 103.13,38.14 103.27,37.40 103.40,35.66 103.54,35.80 103.68,36.47 103.82,36.55 103.96,33.72 104.10,38.55 104.24,38.50 104.38,39.40 104.52,36.94 104.66,37.16 104.79,38.32 104.93,41.11 105.07,40.59 105.21,37.15 105.35,38.15 105.49,38.45 105.63,40.52 105.77,40.84 105.91,40.30 106.05,39.59 106.18,40.20 106.32,40.70 106.46,38.84 106.60,40.13 106.74,39.96 106.88,39.50 107.02,43.76 107.16,41.88 107.30,42.45 107.44,42.75 107.57,42.47 107.71,38.39 107.85,42.86 107.99,39.85 108.13,45.77 108.27,43.45 108.41,42.01 108.55,41.73 108.69,41.53 108.83,41.95 108.96,44.04 109.10,44.95 109.24,41.76 109.38,44.08 109.52,45.56 109.66,45.88 109.80,46.69 109.94,42.93 110.08,43.48 110.22,44.02 110.35,46.34 110.49,44.03 110.63,43.68 110.77,44.65 110.91,44.54 111.05,46.96 111.19,45.63 111.33,47.16 111.47,47.92 111.60,45.14 111.74,46.72 111.88,46.42 112.02,45.40 112.16,45.70 112.30,44.18 112.44,44.92 112.58,47.59 112.72,47.50 112.86,50.87 112.99,50.86 113.13,49.89 113.27,49.51 113.41,46.87 113.55,48.71 113.69,47.90 113.83,45.72 113.97,49.75 114.11,45.80 114.25,50.37 114.38,49.68 114.52,50.85 114.66,48.64 114.80,48.27 114.94,52.78 115.08,48.36 115.22,48.42 115.36,51.07 115.50,52.62 115.64,49.49 115.77,51.29 115.91,48.99 116.05,50.40 116.19,48.16 116.33,50.66 116.47,52.48 116.61,49.63 116.75,50.90 116.89,48.65 117.03,48.54 117.16,51.26 117.30,47.60 117.44,53.01 117.58,52.31 117.72,53.97 117.86,52.60 118.00,54.75 118.14,51.35 118.28,53.02 118.42,54.93 118.55,54.07 118.69,52.02 118.83,50.61 118.97,49.01 119.11,46.51 119.25,51.91 119.39,53.39 119.53,56.83 119.67,52.39 119.81,55.18 119.94,54.87 120.08,54.77 120.22,53.58 120.36,51.68 120.50,53.85 120.64,54.31 120.78,55.83 120.92,57.73 121.06,55.03 121.20,54.68 121.33,52.05 121.47,54.55 121.61,53.59 121.75,55.64 121.89,57.33 122.03,57.72 122.17,56.29 122.31,51.94 122.45,57.15 122.59,53.09 122.72,56.87 122.86,54.53 123.00,56.19 123.14,57.17 123.28,56.42 123.42,57.66 123.56,55.86 123.70,57.61 123.84,59.27 123.98,59.27 124.11,57.40 124.25,54.34 124.39,56.86 124.53,58.19 124.67,56.14 124.81,54.61 124.95,58.00 125.09,58.68 125.23,54.83 125.36,57.22 125.50,55.70 125.64,56.82 125.78,61.21 125.92,60.81 126.06,54.71 126.20,54.80 126.34,57.95 126.48,59.09 126.62,56.77 126.75,60.19 126.89,61.39 127.03,57.90 127.17,61.23 127.31,60.59 127.45,59.78 127.59,59.11 127.73,58.60 127.87,59.34 128.01,58.65 128.14,62.93 128.28,60.59 128.42,62.50 128.56,62.45 128.70,62.36 128.84,60.75 128.98,59.07 129.12,63.37 129.26,60.49 129.40,62.57 129.53,62.52 129.67,58.86 129.81,60.65 129.95,59.47 130.09,61.03 130.23,62.90 130.37,62.47 130.51,61.69 130.65,61.30 130.79,63.65 130.92,61.86 131.06,62.08 131.20,57.41 131.34,59.26 131.48,64.86 131.62,63.07 131.76,65.13 131.90,64.01 132.04,62.72 132.18,60.58 132.31,64.48 132.45,64.69 132.59,67.77 132.73,63.83 132.87,65.61 133.01,64.63 133.15,66.26 133.29,65.06 133.43,67.62 133.57,66.55 133.70,60.34 133.84,67.19 133.98,66.55 134.12,61.79 134.26,58.97 134.40,66.69 134.54,66.21 134.68,64.79 134.82,62.23 134.96,67.13 135.09,66.33 135.23,63.85 135.37,65.14 135.51,66.64 135.65,65.71 135.79,68.62 135.93,67.35 136.07,66.36 136.21,66.14 136.35,67.25 136.48,65.92 136.62,64.85 136.76,66.10 136.90,66.80 137.04,66.81 137.18,66.88 137.32,68.73 137.46,66.85 137.60,66.15 137.73,62.84 137.87,64.06 138.01,67.34 138.15,69.62 138.29,70.31 138.43,65.62 138.57,67.78 138.71,66.81 138.85,72.50 138.99,66.75 139.12,67.99 139.26,70.54 139.40,68.80 139.54,69.15 139.68,68.73 139.82,70.04 139.96,69.07 140.10,70.02 140.24,68.79 140.38,67.24 140.51,73.98 140.65,69.85 140.79,69.82 140.93,69.49 141.07,71.05 141.21,73.21 141.35,69.90 141.49,66.66 141.63,73.30 141.77,68.83 141.90,71.26 142.04,71.56 142.18,72.54 142.32,72.21 142.46,67.70 142.60,70.21 142.74,68.66 142.88,69.70 143.02,70.54 143.16,67.79 143.29,71.15 143.43,70.50 143.57,72.17 143.71,71.39 143.85,74.73 143.99,69.52 144.13,73.32 144.27,70.72 144.41,72.83 144.55,71.71 144.68,70.85 144.82,69.88 144.96,71.32 145.10,75.69 145.24,72.91 145.38,75.57 145.52,74.27 145.66,70.61 145.80,71.44 145.94,73.28 146.07,74.42 146.21,72.88 146.35,76.41 146.49,74.57 146.63,73.66 146.77,72.79 146.91,72.43 147.05,78.65 147.19,73.61 147.33,75.09 147.46,74.34 147.60,72.85 147.74,78.17 147.88,77.17 148.02,74.48 148.16,78.48 148.30,73.14 148.44,74.67 148.58,74.44 148.72,76.25 148.85,75.28 148.99,74.53 149.13,76.95 149.27,76.51 149.41,74.86 149.55,76.97 149.69,76.08 149.83,77.12 149.97,75.96 150.11,74.52 150.24,79.25 150.38,77.68 150.52,74.04 150.66,78.74 150.80,79.15 150.94,76.92 151.08,76.24 151.22,77.83 151.36,75.68 151.49,76.53 151.63,75.22 151.77,76.92 151.91,74.03 152.05,80.07 152.19,82.49 152.33,75.71 152.47,78.95 152.61,79.08 152.75,76.46 152.88,81.19 153.02,82.13 153.16,82.21 153.30,80.86 153.44,78.73 153.58,77.74 153.72,79.52 153.86,81.45 154.00,84.51 154.14,80.10 154.27,81.61 154.41,80.42 154.55,79.33 154.69,80.55 154.83,79.71 154.97,80.38 155.11,80.94 155.25,82.47 155.39,81.91 155.53,80.62 155.66,80.43 155.80,81.68 155.94,80.78 156.08,81.72 156.22,82.40 156.36,81.44 156.50,85.57 156.64,85.41 156.78,84.56 156.92,86.77 157.05,84.31 157.19,82.26 157.33,83.36 157.47,83.27 157.61,80.51 157.75,81.02 157.89,83.13 158.03,80.63 158.17,83.24 158.31,85.56 158.44,85.54 158.58,86.63 158.72,86.37 158.86,84.73 159.00,83.09 159.14,81.90 159.28,86.68 159.42,84.12 159.56,87.09 159.70,84.77 159.83,85.89 159.97,88.96 160.11,83.26 160.25,86.27 160.39,86.68 160.53,88.41 160.67,87.31 160.81,85.84 160.95,87.21 161.09,85.89 161.22,85.29 161.36,84.51 161.50,87.21 161.64,89.75 161.78,84.38 161.92,87.57 162.06,85.66 162.20,85.84 162.34,87.62 162.48,87.50 162.61,85.21 162.75,83.82 162.89,88.04 163.03,87.16 163.17,86.22 163.31,90.51 163.45,88.79 163.59,88.59 163.73,88.50 163.86,90.54 164.00,92.51 164.14,93.46 164.28,90.85 164.42,89.91 164.56,90.59 164.70,86.81 164.84,87.11 164.98,91.72 165.12,89.16 165.25,91.44 165.39,90.20 165.53,89.08 165.67,89.48 165.81,91.99 165.95,88.61 166.09,92.12 166.23,91.43 166.37,86.13 166.51,90.85 166.64,88.61 166.78,91.04 166.92,89.81 167.06,91.69 167.20,91.60 167.34,92.89 167.48,91.63 167.62,93.87 167.76,91.94 167.90,89.61 168.03,90.89 168.17,92.98 168.31,91.65 168.45,93.38 168.59,91.55 168.73,95.95 168.87,93.20 169.01,95.99 169.15,95.72 169.29,91.15 169.42,91.32 169.56,95.60 169.70,96.93 169.84,100.02 169.98,94.35 170.12,89.33 170.26,94.24 170.40,95.44 170.54,93.34 170.68,97.91 170.81,95.21 170.95,94.14 171.09,95.31 171.23,92.75 171.37,94.88 171.51,94.46 171.65,96.35 171.79,93.48 171.93,92.46 172.07,97.71 172.20,97.46 172.34,93.07 172.48,96.18 172.62,92.02 172.76,97.15 172.90,93.29 173.04,94.46 173.18,95.93 173.32,92.61 173.46,96.41 173.59,97.72 173.73,96.70 173.87,96.08 174.01,99.58 174.15,95.80 174.29,98.00 174.43,93.73 174.57,101.26 174.71,98.31 174.85,99.71 174.98,99.29 175.12,97.67 175.26,97.70 175.40,97.23 175.54,98.45 175.68,98.48 175.82,98.38 175.96,96.64 176.10,96.21 176.24,97.14 176.37,97.36 176.51,98.23 176.65,94.14 176.79,97.59 176.93,99.36 177.07,100.29 177.21,100.23 177.35,101.16 177.49,101.35 177.62,98.62 177.76,98.29 177.90,99.41 178.04,100.84 178.18,98.34 178.32,98.68 178.46,100.83 178.60,100.98 178.74,99.20 178.88,99.89 179.01,103.37 179.15,99.62 179.29,100.70 179.43,102.44 179.57,100.76 179.71,102.95 179.85,99.31 179.99,99.06 180.13,100.59 180.27,99.16 180.40,106.52 180.54,102.87 180.68,102.18 180.82,103.51 180.96,100.15 181.10,96.95 181.24,103.27 181.38,103.12 181.52,101.38 181.66,100.05 181.79,104.30 181.93,101.48 182.07,98.53 182.21,105.40 182.35,104.47 182.49,102.94 182.63,103.45 182.77,100.59 182.91,101.70 183.05,105.57 183.18,101.35 183.32,103.46 183.46,100.81 183.60,104.02 183.74,103.69 183.88,102.64 184.02,101.18 184.16,102.79 184.30,107.04 184.44,103.08 184.57,104.35 184.71,102.90 184.85,106.76 184.99,103.34 185.13,105.50 185.27,106.06 185.41,103.57 185.55,105.75 185.69,104.56 185.83,101.40 185.96,104.97 186.10,103.73 186.24,104.10 186.38,105.11 186.52,103.85 186.66,105.26 186.80,106.05 186.94,102.75 187.08,107.23 187.22,109.16 187.35,102.54 187.49,100.14 187.63,106.69 187.77,108.79 187.91,106.28 188.05,106.29 188.19,106.73 188.33,107.72 188.47,104.68 188.61,105.40 188.74,107.82 188.88,103.96 189.02,102.27 189.16,106.75 189.30,106.59 189.44,106.94 189.58,105.28 189.72,109.58 189.86,106.37 189.99,107.50 190.13,103.50 190.27,106.00 190.41,103.52 190.55,109.67 190.69,106.39 190.83,106.35 190.97,109.50 191.11,107.58 191.25,104.78 191.38,107.79 191.52,111.15 191.66,107.39 191.80,108.91 191.94,108.08 192.08,106.76 192.22,111.95 192.36,110.53 192.50,106.44 192.64,108.56 192.77,112.96 192.91,106.90 193.05,107.67 193.19,108.57 193.33,110.08 193.47,106.72 193.61,107.45 193.75,105.33 193.89,107.66 194.03,108.80 194.16,109.14 194.30,106.64 194.44,107.22 194.58,105.96 194.72,110.06 194.86,108.80 195.00,110.01 195.14,108.65 195.28,107.07 195.42,110.33 195.55,109.95 195.69,108.94 195.83,109.95 195.97,107.71 196.11,114.20 196.25,110.78 196.39,110.71 196.53,113.28 196.67,111.80 196.81,110.67 196.94,111.00 197.08,108.40 197.22,111.27 197.36,112.55 197.50,109.60 197.64,108.39 197.78,112.22 197.92,112.07 198.06,109.20 198.20,111.38 198.33,109.47 198.47,111.22 198.61,109.82 198.75,111.77 198.89,111.03 199.03,111.80 199.17,112.12 199.31,113.97 199.45,109.15 199.59,110.97 199.72,113.01 199.86,112.95 200.00,108.28 200.14,115.44 200.28,114.48 200.42,112.65 200.56,108.13 200.70,110.49 200.84,110.86 200.98,113.60 201.11,114.57 201.25,110.70 201.39,111.88 201.53,110.16 201.67,113.07 201.81,111.79 201.95,112.28 202.09,110.55 202.23,109.73 202.37,115.39 202.50,116.30 202.64,110.41 202.78,110.29 202.92,115.26 203.06,116.76 203.20,112.92 203.34,112.00 203.48,108.49 203.62,112.03 203.75,113.89 203.89,116.22 204.03,113.67 204.17,113.55 204.31,113.87 204.45,110.10 204.59,108.96 204.73,111.58 204.87,114.99 205.01,110.95 205.14,112.72 205.28,113.20 205.42,110.47 205.56,111.62 205.70,111.66 205.84,112.45 205.98,112.11 206.12,116.95 206.26,113.81 206.40,114.64 206.53,117.09 206.67,110.49 206.81,111.07 206.95,111.90 207.09,113.97 207.23,112.36 207.37,115.26 207.51,114.71 207.65,116.44 207.79,114.73 207.92,114.33 208.06,116.99 208.20,114.91 208.34,114.33 208.48,111.60 208.62,114.48 208.76,115.03 208.90,114.72 209.04,114.47 209.18,114.59 209.31,117.29 209.45,115.48 209.59,117.91 209.73,117.72 209.87,113.67 210.01,114.52 210.15,118.39 210.29,115.28 210.43,112.98 210.57,112.81 210.70,113.64 210.84,115.95 210.98,116.96 211.12,117.29 211.26,115.34 211.40,115.13 211.54,113.14 211.68,113.51 211.82,116.17 211.96,118.78 212.09,116.78 212.23,115.62 212.37,116.94 212.51,116.59 212.65,115.74 212.79,117.15 212.93,116.75 213.07,116.89 213.21,116.90 213.35,116.91 213.48,116.15 213.62,120.07 213.76,117.49 213.90,114.19 214.04,118.85 214.18,121.18 214.32,119.94 214.46,117.82 214.60,117.13 214.74,117.15 214.87,115.55 215.01,122.50 215.15,117.86 215.29,115.11 215.43,120.49 215.57,117.74 215.71,120.04 215.85,120.36 215.99,118.80 216.12,115.57 216.26,114.79 216.40,118.10 216.54,115.30 216.68,118.70 216.82,115.45 216.96,118.14 217.10,117.22 217.24,116.68 217.38,112.10 217.51,117.74 217.65,119.65 217.79,115.81 217.93,118.57 218.07,119.22 218.21,116.87 218.35,119.29 218.49,117.20 218.63,119.05 218.77,119.11 218.90,117.70 219.04,122.84 219.18,118.32 219.32,120.46 219.46,121.30 219.60,119.18 219.74,119.40 219.88,119.66 220.02,117.65 220.16,121.32 220.29,119.72 220.43,120.13 220.57,119.75 220.71,118.56 220.85,120.62 220.99,119.57 221.13,119.58 221.27,123.58 221.41,124.06 221.55,119.43 221.68,120.79 221.82,120.19 221.96,120.73 222.10,120.00 222.24,118.26 222.38,122.89 222.52,121.64 222.66,121.89 222.80,118.92 222.94,118.02 223.07,121.02 223.21,124.27 223.35,123.64 223.49,122.04 223.63,121.69 223.77,122.36 223.91,120.50 224.05,121.28 224.19,118.23 224.33,121.50 224.46,121.52 224.60,120.05 224.74,124.46 224.88,119.86 225.02,121.70 225.16,122.18 225.30,117.94 225.44,121.04 225.58,117.06 225.72,121.10 225.85,125.13 225.99,121.78 226.13,124.56 226.27,122.85 226.41,121.58 226.55,121.24 226.69,122.99 226.83,119.12 226.97,119.78 227.11,119.46 227.24,120.76 227.38,119.54 227.52,125.91 227.66,122.57 227.80,123.30 227.94,121.55 228.08,123.61 228.22,123.69 228.36,118.26 228.49,122.48 228.63,121.94 228.77,122.78 228.91,122.58 229.05,122.07 229.19,122.92 229.33,120.68 229.47,119.83 229.61,121.65 229.75,121.55 229.88,125.97 230.02,123.06 230.16,120.53 230.30,122.47 230.44,124.07 230.58,121.87 230.72,121.98 230.86,120.61 231.00,123.46 231.14,122.81 231.27,123.75 231.41,129.25 231.55,123.24 231.69,129.79 231.83,126.10 231.97,122.82 232.11,123.79 232.25,126.27 232.39,124.84 232.53,121.86 232.66,126.14 232.80,120.14 232.94,124.25 233.08,124.53 233.22,121.71 233.36,123.89 233.50,126.40 233.64,125.75 233.78,123.96 233.92,126.74 234.05,125.55 234.19,126.70 234.33,123.09 234.47,125.38 234.61,125.44 234.75,126.36 234.89,124.49 235.03,125.42 235.17,127.83 235.31,126.61 235.44,123.25 235.58,125.95 235.72,128.86 235.86,125.24 236.00,124.36 236.14,128.39 236.28,126.89 236.42,123.79 236.56,125.38 236.70,123.97 236.83,128.83 236.97,126.48 237.11,127.31 237.25,127.39 237.39,124.65 237.53,124.91 237.67,123.37 237.81,123.40 237.95,126.54 238.09,125.10 238.22,126.07 238.36,127.00 238.50,125.70 238.64,125.41 238.78,126.94 238.92,128.89 239.06,127.85 239.20,126.27 239.34,126.37 239.48,125.52 239.61,126.13 239.75,128.13 239.89,127.39 240.03,127.40 240.17,128.69 240.31,125.64 240.45,129.03 240.59,129.86 240.73,128.73 240.87,129.82 241.00,128.12 241.14,128.42 241.28,129.14 241.42,126.81 241.56,127.35 241.70,127.04 241.84,126.35 241.98,127.07 242.12,131.68 242.25,130.22 242.39,132.16 242.53,128.72 242.67,128.01 242.81,126.71 242.95,125.97 243.09,126.76 243.23,128.51 243.37,127.22 243.51,129.08 243.64,128.34 243.78,127.57 243.92,129.49 244.06,128.45 244.20,128.38 244.34,130.59 244.48,126.93 244.62,128.38 244.76,129.84 244.90,131.29 245.03,130.68 245.17,129.74 245.31,127.00 245.45,131.10 245.59,128.85 245.73,132.50 245.87,130.19 246.01,129.70 246.15,125.19 246.29,132.18 246.42,127.38 246.56,128.73 246.70,129.71 246.84,129.87 246.98,128.93 247.12,130.27 247.26,126.60 247.40,131.16 247.54,127.71 247.68,131.97 247.81,129.94 247.95,132.58 248.09,128.62 248.23,128.88 248.37,130.85 248.51,130.72 248.65,134.13 248.79,130.37 248.93,133.29 249.07,132.48 249.20,130.66 249.34,128.88 249.48,125.96 249.62,132.12 249.76,128.91 249.90,131.30 250.04,131.74 250.18,130.50 250.32,130.22 250.46,131.07 250.59,131.55 250.73,134.55 250.87,134.80 251.01,131.51 251.15,132.25 251.29,133.19 251.43,131.35 251.57,129.98 251.71,132.25 251.85,133.09 251.98,130.24 252.12,128.69 252.26,129.74 252.40,130.57 252.54,129.93 252.68,129.38 252.82,130.20 252.96,131.05 253.10,131.11 253.24,134.63 253.37,130.91 253.51,134.27 253.65,134.58 253.79,129.89 253.93,130.70 254.07,129.42 254.21,132.62 254.35,134.42 254.49,132.94 254.62,131.47 254.76,132.78 254.90,131.02 255.04,135.09 255.18,132.35 255.32,134.90 255.46,131.77 255.60,134.30 255.74,134.77 255.88,133.22 256.01,134.05 256.15,132.96 256.29,129.96 256.43,132.98 256.57,133.29 256.71,136.66 256.85,135.18 256.99,134.24 257.13,134.89 257.27,130.90 257.40,134.45 257.54,131.28 257.68,133.52 257.82,133.45 257.96,134.48 258.10,134.48 258.24,130.30 258.38,138.41 258.52,138.60 258.66,134.37 258.79,133.78 258.93,132.31 259.07,132.86 259.21,135.43 259.35,132.11 259.49,132.42 259.63,133.30 259.77,132.50 259.91,134.26 260.05,134.73 260.18,132.58 260.32,134.29 260.46,134.52 260.60,130.69 260.74,139.55 260.88,137.11 261.02,137.17 261.16,135.13 261.30,134.04 261.44,137.61 261.57,135.98 261.71,136.34 261.85,131.20 261.99,131.99 262.13,134.80 262.27,134.52 262.41,137.46 262.55,138.68 262.69,135.30 262.83,137.49 262.96,133.52 263.10,138.11 263.24,136.09 263.38,133.99 263.52,135.30 263.66,134.24 263.80,138.89 263.94,134.08 264.08,136.45 264.22,132.69 264.35,136.27 264.49,138.55 264.63,135.76 264.77,135.31 264.91,134.67 265.05,135.86 265.19,133.18 265.33,134.81 265.47,136.92 265.61,134.35 265.74,132.89 265.88,132.22 266.02,139.02 266.16,137.30 266.30,132.40 266.44,138.73 266.58,138.46 266.72,137.76 266.86,135.91 267.00,135.92 267.13,138.27 267.27,137.86 267.41,138.65 267.55,137.81 267.69,134.02 267.83,136.59 267.97,134.85 268.11,137.67 268.25,136.73 268.38,137.55 268.52,142.27 268.66,138.49 268.80,141.15 268.94,140.07 269.08,138.81 269.22,134.55 269.36,137.01 269.50,135.17 269.64,135.80 269.77,135.99 269.91,138.65 270.05,136.47 270.19,136.45 270.33,138.81 270.47,136.72 270.61,136.56 270.75,137.92 270.89,139.88 271.03,138.79 271.16,137.86 271.30,136.83 271.44,139.09 271.58,137.37 271.72,136.10 271.86,136.80 272.00,134.76 272.14,135.49 272.28,139.53 272.42,135.40 272.55,138.21 272.69,135.65 272.83,138.00 272.97,137.94 273.11,141.16 273.25,137.60 273.39,139.58 273.53,135.70 273.67,135.20 273.81,138.87 273.94,136.90 274.08,139.86 274.22,140.46 274.36,136.78 274.50,138.37 274.64,136.39 274.78,139.64 274.92,136.17 275.06,138.05 275.20,136.20 275.33,139.99 275.47,137.79 275.61,139.68 275.75,141.71 275.89,138.08 276.03,137.92 276.17,137.92 276.31,135.75 276.45,135.95 276.59,140.21 276.72,137.86 276.86,140.49 277.00,138.92 277.14,140.22 277.28,136.68 277.42,139.42 277.56,139.09 277.70,138.03 277.84,143.86 277.98,143.03 278.11,138.45 278.25,138.41 278.39,138.70 278.53,142.16 278.67,140.21 278.81,135.07 278.95,137.46 279.09,139.43 279.23,140.54 279.37,141.10 279.50,143.77 279.64,139.73 279.78,137.53 279.92,142.89 280.06,140.48 280.20,142.26 280.34,141.24 280.48,140.04 280.62,144.51 280.75,138.32 280.89,138.26 281.03,140.37 281.17,144.15 281.31,141.96 281.45,137.97 281.59,145.16 281.73,141.29 281.87,142.65 282.01,139.43 282.14,141.91 282.28,139.72 282.42,138.91 282.56,136.54 282.70,140.84 282.84,139.65 282.98,143.46 283.12,139.42 283.26,141.35 283.40,142.99 283.53,141.54 283.67,144.05 283.81,139.12 283.95,137.57 284.09,139.25 284.23,143.77 284.37,141.82 284.51,139.20 284.65,144.53 284.79,143.19 284.92,139.11 285.06,140.21 285.20,139.45 285.34,138.82 285.48,139.90 285.62,140.04 285.76,136.15 285.90,141.06 286.04,143.17 286.18,140.25 286.31,140.48 286.45,143.14 286.59,143.48 286.73,137.26 286.87,141.46 287.01,142.34 287.15,139.69 287.29,141.96 287.43,141.29 287.57,140.15 287.70,143.86 287.84,141.05 287.98,138.54 288.12,140.72 288.26,143.05 288.40,143.27 288.54,142.39 288.68,142.50 288.82,142.79 288.96,140.33 289.09,143.01 289.23,140.67 289.37,143.56 289.51,141.46 289.65,143.81 289.79,138.29 289.93,140.01 290.07,139.08 290.21,144.29 290.35,140.54 290.48,141.50 290.62,145.22 290.76,141.74 290.90,141.06 291.04,141.53 291.18,142.10 291.32,140.79 291.46,139.14 291.60,139.25 291.74,147.63 291.87,143.03 292.01,142.56 292.15,144.83 292.29,141.61 292.43,140.38 292.57,144.98 292.71,141.99 292.85,144.40 292.99,143.57 293.13,138.90 293.26,144.91 293.40,141.57 293.54,146.57 293.68,139.02 293.82,140.21 293.96,143.29 294.10,142.61 294.24,145.15 294.38,141.18 294.51,142.85 294.65,143.95 294.79,143.53 294.93,144.67 295.07,142.30 295.21,143.11 295.35,142.62 295.49,142.62 295.63,142.78 295.77,144.22 295.90,138.41 296.04,146.56 296.18,141.36 296.32,139.25 296.46,145.81 296.60,139.04 296.74,141.28 296.88,141.22 297.02,143.40 297.16,143.94 297.29,144.29 297.43,142.86 297.57,140.46 297.71,143.53 297.85,144.34 297.99,142.56 298.13,141.80 298.27,142.65 298.41,142.22 298.55,144.99 298.68,145.78 298.82,145.80 298.96,146.95 299.10,143.17 299.24,144.47 299.38,145.19 299.52,149.52 299.66,145.53 299.80,141.48 299.94,145.14 300.07,144.29 300.21,146.86 300.35,141.89 300.49,143.21 300.63,143.34 300.77,140.52 300.91,141.46 301.05,144.65 301.19,145.56 301.33,144.49 301.46,143.52 301.60,142.75 301.74,144.52 301.88,140.94 302.02,143.88 302.16,140.63 302.30,143.38 302.44,140.90 302.58,142.50 302.72,142.11 302.85,145.56 302.99,146.15 303.13,142.63 303.27,143.52 303.41,143.23 303.55,146.67 303.69,147.27 303.83,147.39 303.97,148.35 304.11,144.03 304.24,143.06 304.38,144.33 304.52,148.30 304.66,145.19 304.80,145.32 304.94,141.60 305.08,147.36 305.22,143.81 305.36,141.35 305.50,143.79 305.63,144.11 305.77,144.52 305.91,143.66 306.05,143.29 306.19,145.80 306.33,143.11 306.47,148.07 306.61,144.31 306.75,145.32 306.88,145.72 307.02,145.60 307.16,147.06 307.30,147.03 307.44,146.25 307.58,146.58 307.72,144.68 307.86,146.04 308.00,142.94 308.14,148.00 308.27,147.28 308.41,147.25 308.55,143.55 308.69,143.77 308.83,145.51 308.97,144.01 309.11,149.39 309.25,145.70 309.39,141.44 309.53,144.29 309.66,144.84 309.80,144.77 309.94,143.21 310.08,149.35 310.22,148.80 310.36,146.49 310.50,146.34 310.64,142.46 310.78,145.69 310.92,149.49 311.05,147.89 311.19,150.58 311.33,145.88 311.47,145.25 311.61,146.44 311.75,143.39 311.89,143.19 312.03,146.05 312.17,149.50 312.31,145.12 312.44,144.63 312.58,145.64 312.72,144.32 312.86,148.79 313.00,141.89 313.14,146.96 313.28,144.59 313.42,149.15 313.56,146.10 313.70,143.03 313.83,146.59 313.97,144.41 314.11,145.17 314.25,146.66 314.39,143.57 314.53,145.30 314.67,148.17 314.81,147.93 314.95,145.17 315.09,145.68 315.22,148.34 315.36,146.75 315.50,145.50 315.64,147.06 315.78,148.81 315.92,146.82 316.06,147.65 316.20,144.52 316.34,144.90 316.48,148.04 316.61,146.29 316.75,145.22 316.89,146.86 317.03,148.63 317.17,148.75 317.31,147.33 317.45,149.03 317.59,146.84 317.73,144.55 317.87,149.25 318.00,145.47 318.14,147.76 318.28,146.19 318.42,146.37 318.56,148.21 318.70,148.35 318.84,145.83 318.98,143.76 319.12,150.92 319.26,144.76 319.39,144.59 319.53,147.10 319.67,144.58 319.81,148.81 319.95,146.53 320.09,149.40 320.23,150.47 320.37,144.54 320.51,148.37 320.64,147.39 320.78,149.45 320.92,149.50 321.06,146.39 321.20,147.85 321.34,145.97 321.48,145.72 321.62,145.27 321.76,146.63 321.90,143.87 322.03,149.64 322.17,146.34 322.31,143.88 322.45,143.76 322.59,149.23 322.73,146.87 322.87,144.21 323.01,145.33 323.15,145.90 323.29,146.36 323.42,147.50 323.56,146.72 323.70,147.19 323.84,146.75 323.98,145.53 324.12,147.30 324.26,145.04 324.40,141.20 324.54,150.18 324.68,147.06 324.81,148.11 324.95,145.49 325.09,146.76 325.23,145.39 325.37,145.08 325.51,146.88 325.65,144.13 325.79,152.74 325.93,145.26 326.07,145.61 326.20,143.63 326.34,149.61 326.48,147.43 326.62,147.60 326.76,146.96 326.90,146.41 327.04,145.86 327.18,150.81 327.32,145.37 327.46,147.72 327.59,147.23 327.73,150.16 327.87,147.08 328.01,151.94 328.15,145.39 328.29,149.43 328.43,148.41 328.57,148.69 328.71,144.97 328.85,148.90 328.98,148.44 329.12,147.47 329.26,144.67 329.40,145.89 329.54,147.69 329.68,146.96 329.82,151.70 329.96,147.60 330.10,150.51 330.24,146.34 330.37,146.67 330.51,143.06 330.65,149.54 330.79,148.05 330.93,144.48 331.07,145.44 331.21,148.88 331.35,147.59 331.49,147.28 331.63,147.06 331.76,148.35 331.90,148.66 332.04,151.53 332.18,147.54 332.32,145.58 332.46,147.70 332.60,151.29 332.74,146.26 332.88,146.72 333.01,149.88 333.15,147.50 333.29,150.97 333.43,149.37 333.57,149.06 333.71,145.34 333.85,149.85 333.99,148.17 334.13,148.44 334.27,148.24 334.40,148.31 334.54,146.09 334.68,148.29 334.82,150.61 334.96,150.47 335.10,147.50 335.24,150.61 335.38,146.59 335.52,149.22 335.66,143.39 335.79,151.68 335.93,147.50 336.07,150.72 336.21,148.16 336.35,147.56 336.49,152.67 336.63,147.89 336.77,144.59 336.91,148.74 337.05,147.88 337.18,146.79 337.32,149.11 337.46,150.13 337.60,153.15 337.74,147.79 337.88,148.08 338.02,150.48 338.16,147.92 338.30,150.53 338.44,149.72 338.57,146.91 338.71,150.93 338.85,145.92 338.99,151.43 339.13,150.92 339.27,143.76 339.41,146.80 339.55,149.35 339.69,151.03 339.83,149.24 339.96,148.93 340.10,147.88 340.24,149.98 340.38,148.80 340.52,149.45 340.66,151.49 340.80,149.98 340.94,148.44 341.08,149.88 341.22,149.32 341.35,151.20 341.49,147.92 341.63,148.54 341.77,145.32 341.91,148.49 342.05,151.17 342.19,148.59 342.33,149.79 342.47,151.48 342.61,149.32 342.74,150.23 342.88,147.26 343.02,150.61 343.16,149.44 343.30,149.72 343.44,149.60 343.58,148.02 343.72,147.12 343.86,146.69 344.00,144.19 344.13,150.08 344.27,149.86 344.41,150.31 344.55,152.20 344.69,150.79 344.83,150.24 344.97,150.98 345.11,150.26 345.25,151.98 345.38,148.70 345.52,150.99 345.66,145.14 345.80,149.43 345.94,148.61 346.08,152.21 346.22,145.78 346.36,146.87 346.50,148.82 346.64,152.67 346.77,148.86 346.91,152.21 347.05,148.03 347.19,148.30 347.33,150.06 347.47,154.46 347.61,152.05 347.75,147.52 347.89,146.92 348.03,147.44 348.16,152.93 348.30,148.95 348.44,147.26 348.58,152.42 348.72,149.51 348.86,150.44 349.00,151.07 349.14,153.71 349.28,150.55 349.42,149.65 349.55,150.20 349.69,150.98 349.83,151.37 349.97,150.25 350.11,150.31 350.25,150.25 350.39,151.51 350.53,149.85 350.67,154.58 350.81,149.72 350.94,149.76 351.08,150.15 351.22,149.53 351.36,153.69 351.50,154.57 351.64,150.45 351.78,149.98 351.92,149.48 352.06,151.07 352.20,148.71 352.33,148.69 352.47,149.48 352.61,151.33 352.75,154.68 352.89,150.03 353.03,148.55 353.17,149.27 353.31,152.71 353.45,147.53 353.59,149.32 353.72,146.97 353.86,153.02 354.00,151.34 354.14,149.68 354.28,150.01 354.42,152.88 354.56,150.19 354.70,149.85 354.84,151.78 354.98,150.36 355.11,151.61 355.25,147.94 355.39,152.55 355.53,152.15 355.67,150.97 355.81,150.04 355.95,153.21 356.09,153.24 356.23,154.08 356.37,149.87 356.50,152.67 356.64,151.99 356.78,149.71 356.92,151.69 357.06,150.39 357.20,151.65 357.34,149.87 357.48,150.11 357.62,152.58 357.76,151.99 357.89,148.90 358.03,150.43 358.17,153.24 358.31,149.49 358.45,153.80 358.59,148.77 358.73,148.87 358.87,150.50 359.01,151.32 359.14,152.71 359.28,148.96 359.42,151.62 359.56,150.89 359.70,150.03 359.84,151.57 359.98,152.09 360.12,153.83 360.26,153.30 360.40,155.41 360.53,150.72 360.67,149.28 360.81,148.88 360.95,153.41 361.09,148.76 361.23,148.82 361.37,152.71 361.51,151.47 361.65,154.84 361.79,151.43 361.92,153.76 362.06,149.94 362.20,154.82 362.34,151.07 362.48,149.50 362.62,152.51 362.76,153.57 362.90,155.36 363.04,151.90 363.18,151.89 363.31,154.56 363.45,150.48 363.59,151.73 363.73,153.97 363.87,153.52 364.01,149.80 364.15,150.23 364.29,151.89 364.43,150.30 364.57,154.88 364.70,151.88 364.84,151.28 364.98,153.26 365.12,150.90 365.26,153.19 365.40,151.35 365.54,150.71 365.68,157.31 365.82,149.47 365.96,158.18 366.09,154.07 366.23,150.02 366.37,152.85 366.51,154.03 366.65,153.31 366.79,148.76 366.93,155.50 367.07,150.14 367.21,152.24 367.35,154.35 367.48,153.55 367.62,153.27 367.76,150.50 367.90,150.82 368.04,156.17 368.18,152.96 368.32,154.17 368.46,149.72 368.60,155.23 368.74,149.64 368.87,152.82 369.01,153.99 369.15,153.75 369.29,154.53 369.43,155.09 369.57,153.15 369.71,155.30 369.85,157.90 369.99,152.76 370.13,156.49 370.26,154.83 370.40,154.73 370.54,153.34 370.68,148.21 370.82,153.25 370.96,151.47 371.10,156.09 371.24,153.26 371.38,153.77 371.51,153.71 371.65,150.96 371.79,153.52 371.93,154.10 372.07,154.42 372.21,152.59 372.35,154.53 372.49,152.54 372.63,152.75 372.77,153.73 372.90,151.74 373.04,152.39 373.18,153.21 373.32,153.85 373.46,150.48 373.60,152.61 373.74,152.92 373.88,152.91 374.02,150.92 374.16,155.21 374.29,151.96 374.43,156.74 374.57,153.13 374.71,150.28 374.85,153.08 374.99,153.63 375.13,153.10 375.27,153.60 375.41,153.40 375.55,154.82 375.68,153.07 375.82,152.44 375.96,154.59 376.10,154.28 376.24,155.19 376.38,152.87 376.52,152.89 376.66,153.02 376.80,151.19 376.94,153.70 377.07,152.14 377.21,152.70 377.35,152.99 377.49,153.69 377.63,149.69 377.77,154.05 377.91,154.17 378.05,153.08 378.19,152.90 378.33,156.45 378.46,151.14 378.60,153.15 378.74,156.73 378.88,152.15 379.02,151.80 379.16,155.87 379.30,150.08 379.44,151.87 379.58,153.15 379.72,151.23 379.85,153.89 379.99,153.24 380.13,154.78 380.27,152.80 380.41,152.86 380.55,153.74 380.69,155.37 380.83,153.45 380.97,153.90 381.11,155.90 381.24,156.57 381.38,152.77 381.52,159.56 381.66,153.46 381.80,154.98 381.94,151.04 382.08,153.93 382.22,151.86 382.36,153.36 382.50,154.05 382.63,153.44 382.77,155.31 382.91,152.18 383.05,156.43 383.19,153.05 383.33,150.92 383.47,151.89 383.61,150.44 383.75,154.63 383.89,156.47 384.02,156.65 384.16,151.94 384.30,154.12 384.44,153.94 384.58,155.87 384.72,152.83 384.86,156.52 385.00,152.80 385.14,148.15 385.27,152.89 385.41,152.79 385.55,155.58 385.69,158.41 385.83,155.71 385.97,155.65 386.11,156.81 386.25,151.58 386.39,154.73 386.53,153.11 386.66,154.76 386.80,154.07 386.94,152.61 387.08,154.58 387.22,153.49 387.36,153.68 387.50,154.82 387.64,157.20 387.78,157.57 387.92,155.60 388.05,154.75 388.19,158.73 388.33,152.94 388.47,153.72 388.61,157.61 388.75,156.42 388.89,154.64 389.03,154.40 389.17,155.55 389.31,154.37 389.44,153.11 389.58,154.27 389.72,153.71 389.86,155.18 390.00,156.05 390.14,154.28 390.28,154.73 390.42,153.77 390.56,154.27 390.70,153.42 390.83,153.85 390.97,152.78 391.11,152.13 391.25,156.51 391.39,156.15 391.53,152.03 391.67,154.70 391.81,158.57 391.95,156.25 392.09,153.61 392.22,154.96 392.36,156.57 392.50,152.08 392.64,156.67 392.78,156.05 392.92,154.24 393.06,152.92 393.20,154.44 393.34,153.11 393.48,154.98 393.61,154.20 393.75,155.25 393.89,154.65 394.03,155.20 394.17,153.43 394.31,153.33 394.45,153.79 394.59,154.71 394.73,156.55 394.87,154.45 395.00,155.89 395.14,155.66 395.28,150.90 395.42,155.45 395.56,153.19 395.70,152.34 395.84,154.58 395.98,150.63 396.12,155.07 396.26,155.42 396.39,157.26 396.53,155.49 396.67,155.41 396.81,154.11 396.95,154.47 397.09,152.21 397.23,154.34 397.37,155.22 397.51,149.43 397.64,154.64 397.78,156.18 397.92,156.89 398.06,157.18 398.20,152.30 398.34,156.37 398.48,154.39 398.62,155.88 398.76,153.57 398.90,156.77 399.03,156.94 399.17,154.25 399.31,153.05 399.45,154.49 399.59,156.77 399.73,154.40 399.87,155.99 400.01,156.70 400.15,157.66 400.29,152.94 400.42,155.21 400.56,153.38 400.70,153.41 400.84,150.21 400.98,159.47 401.12,156.81 401.26,156.19 401.40,156.71 401.54,158.03 401.68,156.35 401.81,158.49 401.95,153.84 402.09,156.42 402.23,154.95 402.37,154.82 402.51,154.94 402.65,157.30 402.79,151.85 402.93,154.96 403.07,159.07 403.20,157.41 403.34,159.19 403.48,156.25 403.62,155.35 403.76,157.12 403.90,151.46 404.04,154.71 404.18,154.57 404.32,155.82 404.46,158.15 404.59,155.48 404.73,155.92 404.87,158.98 405.01,155.40 405.15,155.88 405.29,156.41 405.43,157.72 405.57,156.97 405.71,155.84 405.85,155.89 405.98,155.98 406.12,152.94 406.26,157.27 406.40,156.44 406.54,154.43 406.68,154.53 406.82,156.96 406.96,155.23 407.10,154.58 407.24,153.32 407.37,152.37 407.51,157.20 407.65,156.26 407.79,155.94 407.93,157.29 408.07,156.72 408.21,158.89 408.35,154.42 408.49,157.55 408.63,156.35 408.76,157.34 408.90,158.27 409.04,155.49 409.18,155.79 409.32,155.40 409.46,153.03 409.60,155.49 409.74,154.51 409.88,157.86 410.02,158.16 410.15,152.17 410.29,157.80 410.43,158.61 410.57,156.21 410.71,156.12 410.85,157.91 410.99,156.56 411.13,153.85 411.27,157.86 411.40,159.05 411.54,154.18 411.68,154.32 411.82,158.29 411.96,159.47 412.10,157.87 412.24,156.61 412.38,153.74 412.52,158.72 412.66,156.48 412.79,153.87 412.93,160.46 413.07,154.09 413.21,158.14 413.35,156.19 413.49,154.93 413.63,154.30 413.77,156.06 413.91,161.75 414.05,157.49 414.18,156.32 414.32,157.75 414.46,155.36 414.60,155.48 414.74,154.97 414.88,156.37 415.02,160.31 415.16,157.12 415.30,155.91 415.44,159.38 415.57,155.51 415.71,153.43 415.85,156.53 415.99,161.66 416.13,157.88 416.27,153.01 416.41,158.86 416.55,160.42 416.69,154.35 416.83,156.35 416.96,154.73 417.10,156.69 417.24,155.09 417.38,156.30 417.52,154.40 417.66,152.48 417.80,155.05 417.94,160.13 418.08,155.78 418.22,153.79 418.35,153.98 418.49,157.87 418.63,154.84 418.77,155.29 418.91,152.55 419.05,158.77 419.19,157.91 419.33,157.69 419.47,156.99 419.61,158.08 419.74,162.79 419.88,158.30 420.02,156.10 420.16,156.83 420.30,154.05 420.44,157.21 420.58,154.88 420.72,156.61 420.86,155.33 421.00,156.43 421.13,154.52 421.27,156.14 421.41,156.08 421.55,156.20 421.69,156.93 421.83,156.37 421.97,152.77 422.11,157.06 422.25,156.67 422.39,154.95 422.52,154.48 422.66,156.60 422.80,160.91 422.94,156.01 423.08,160.62 423.22,154.67 423.36,156.91 423.50,155.28 423.64,158.00 423.77,159.73 423.91,156.88 424.05,157.31 424.19,158.48 424.33,157.84 424.47,152.28 424.61,155.82 424.75,154.95 424.89,156.35 425.03,154.11 425.16,158.09 425.30,160.11 425.44,158.56 425.58,156.13 425.72,159.12 425.86,158.02 426.00,158.91 426.14,153.43 426.28,155.85 426.42,156.41 426.55,157.34 426.69,157.72 426.83,157.43 426.97,159.47 427.11,161.64 427.25,158.04 427.39,156.64 427.53,154.30 427.67,153.89 427.81,155.16 427.94,159.19 428.08,158.61 428.22,156.47 428.36,153.50 428.50,153.95 428.64,154.89 428.78,158.56 428.92,158.61 429.06,155.59 429.20,159.20 429.33,157.76 429.47,158.58 429.61,154.85 429.75,157.29 429.89,161.76 430.03,156.99 430.17,159.20 430.31,156.96 430.45,158.47 430.59,159.03 430.72,156.68 430.86,159.30 431.00,157.97 431.14,156.46 431.28,158.57 431.42,161.09 431.56,156.81 431.70,155.65 431.84,157.26 431.98,160.92 432.11,156.89 432.25,160.43 432.39,157.51 432.53,158.59 432.67,160.25 432.81,158.02 432.95,158.27 433.09,159.23 433.23,156.08 433.37,159.12 433.50,156.78 433.64,157.42 433.78,160.25 433.92,159.70 434.06,160.87 434.20,156.76 434.34,158.51 434.48,162.09 434.62,158.90 434.76,159.34 434.89,154.86 435.03,160.99 435.17,160.08 435.31,156.36 435.45,156.51 435.59,159.82 435.73,159.33 435.87,157.46 436.01,161.42 436.14,161.15 436.28,158.65 436.42,156.40 436.56,158.23 436.70,158.39 436.84,155.99 436.98,154.20 437.12,159.37 437.26,157.40 437.40,154.11 437.53,160.62 437.67,156.09 437.81,159.51 437.95,157.80 438.09,159.37 438.23,160.17 438.37,160.10 438.51,157.61 438.65,156.53 438.79,158.21 438.92,157.52 439.06,156.16 439.20,160.50 439.34,157.46 439.48,157.03 439.62,152.44 439.76,158.54 439.90,159.42 440.04,156.53 440.18,155.79 440.31,159.01 440.45,159.31 440.59,157.18 440.73,159.82 440.87,159.15 441.01,158.54 441.15,155.90 441.29,159.21 441.43,161.31 441.57,160.94 441.70,160.06 441.84,160.75 441.98,158.16 442.12,160.10 442.26,158.30 442.40,159.98 442.54,158.63 442.68,155.70 442.82,156.46 442.96,158.07 443.09,158.90 443.23,158.87 443.37,157.16 443.51,157.44 443.65,160.84 443.79,158.77 443.93,162.92 444.07,157.79 444.21,157.45 444.35,158.56 444.48,154.99 444.62,160.15 444.76,158.23 444.90,158.48 445.04,158.99 445.18,158.00 445.32,158.27 445.46,156.37 445.60,155.46 445.74,158.97 445.87,156.52 446.01,159.96 446.15,158.03 446.29,160.10 446.43,156.21 446.57,155.26 446.71,159.00 446.85,162.54 446.99,158.43 447.13,156.62 447.26,156.98 447.40,157.89 447.54,156.30 447.68,157.67 447.82,155.99 447.96,156.30 448.10,155.89 448.24,157.42 448.38,156.53 448.52,158.74 448.65,160.29 448.79,155.46 448.93,157.94 449.07,157.67 449.21,159.84 449.35,161.27 449.49,159.01 449.63,156.17 449.77,158.21 449.90,161.37 450.04,158.80 450.18,154.56 450.32,158.70 450.46,162.54 450.60,154.98 450.74,156.89 450.88,158.98 451.02,160.15 451.16,156.41 451.29,161.03 451.43,156.22 451.57,158.14 451.71,157.21 451.85,159.25 451.99,159.55 452.13,155.81 452.27,161.30 452.41,162.34 452.55,158.04 452.68,158.18 452.82,158.34 452.96,158.65 453.10,159.41 453.24,156.92 453.38,159.28 453.52,160.40 453.66,159.04 453.80,154.36 453.94,163.56 454.07,158.99 454.21,162.63 454.35,159.24 454.49,159.76 454.63,162.56 454.77,158.66 454.91,160.21 455.05,162.33 455.19,157.84 455.33,156.42 455.46,157.12 455.60,158.70 455.74,158.98 455.88,156.85 456.02,155.67 456.16,157.83 456.30,161.00 456.44,158.51 456.58,157.71 456.72,163.22 456.85,158.28 456.99,154.57 457.13,157.98 457.27,156.19 457.41,159.09 457.55,160.21 457.69,158.73 457.83,159.91 457.97,161.24 458.11,157.38 458.24,156.46 458.38,161.33 458.52,157.16 458.66,159.64 458.80,157.72 458.94,157.77 459.08,157.17 459.22,159.31 459.36,157.09 459.50,159.06 459.63,158.09 459.77,161.65 459.91,154.54 460.05,157.56 460.19,157.36 460.33,162.85 460.47,161.43 460.61,156.95 460.75,158.94 460.89,163.00 461.02,156.77 461.16,159.59 461.30,157.41 461.44,159.26 461.58,159.14 461.72,157.05 461.86,161.03 462.00,160.82 462.14,159.10 462.27,157.50 462.41,162.16 462.55,163.40 462.69,159.10 462.83,159.92 462.97,160.35 463.11,162.22 463.25,160.24 463.39,160.12 463.53,158.24 463.66,159.85 463.80,156.43 463.94,161.14 464.08,161.17 464.22,155.71 464.36,158.56 464.50,161.53 464.64,159.05 464.78,156.40 464.92,156.98 465.05,161.86 465.19,159.31 465.33,159.09 465.47,162.29 465.61,159.96 465.75,158.39 465.89,157.46 466.03,157.80 466.17,160.85 466.31,159.08 466.44,157.77 466.58,159.84 466.72,158.28 466.86,159.26 467.00,162.08 467.14,161.68 467.28,157.01 467.42,159.28 467.56,156.70 467.70,160.96 467.83,159.41 467.97,156.58 468.11,162.66 468.25,163.00 468.39,157.77 468.53,161.74 468.67,159.26 468.81,159.77 468.95,159.12 469.09,160.64 469.22,159.57 469.36,159.31 469.50,161.01 469.64,161.09 469.78,160.74 469.92,163.77 470.06,161.12 470.20,159.68 470.34,161.11 470.48,160.36 470.61,158.99 470.75,160.78 470.89,158.98 471.03,157.29 471.17,161.74 471.31,159.09 471.45,159.92 471.59,160.41 471.73,156.97 471.87,158.86 472.00,162.60 472.14,158.63 472.28,157.66 472.42,159.78 472.56,158.48 472.70,161.00 472.84,163.10 472.98,159.84 473.12,163.78 473.26,160.98 473.39,157.79 473.53,163.37 473.67,161.83 473.81,162.13 473.95,160.12 474.09,159.76 474.23,157.58 474.37,158.06 474.51,158.93 474.65,159.86 474.78,159.04 474.92,160.48 475.06,159.02 475.20,162.16 475.34,159.42 475.48,156.92 475.62,159.42 475.76,160.71 475.90,160.59 476.03,165.91 476.17,159.06 476.31,159.96 476.45,159.81 476.59,159.21 476.73,159.73 476.87,162.34 477.01,160.41 477.15,160.29 477.29,159.82 477.42,159.58 477.56,159.26 477.70,162.05 477.84,159.05 477.98,156.90 478.12,163.42 478.26,160.78 478.40,161.61 478.54,161.81 478.68,161.53 478.81,160.69 478.95,156.88 479.09,163.69 479.23,163.27 479.37,164.33 479.51,157.22 479.65,160.36 479.79,159.26 479.93,161.37 480.07,161.50 480.20,161.22 480.34,156.57 480.48,158.62 480.62,162.43 480.76,158.81 480.90,161.99 481.04,162.92 481.18,158.48 481.32,158.09 481.46,159.06 481.59,161.76 481.73,161.47 481.87,158.77 482.01,159.65 482.15,162.14 482.29,163.70 482.43,160.68 482.57,157.58 482.71,162.83 482.85,159.02 482.98,159.61 483.12,159.05 483.26,158.36 483.40,161.23 483.54,163.54 483.68,161.37 483.82,159.11 483.96,161.32 484.10,162.22 484.24,163.20 484.37,156.78 484.51,158.13 484.65,159.29 484.79,158.24 484.93,158.52 485.07,160.22 485.21,160.94 485.35,161.59 485.49,154.85 485.63,159.99 485.76,162.14 485.90,159.80 486.04,162.14 486.18,158.07 486.32,161.58 486.46,159.26 486.60,159.01 486.74,159.47 486.88,162.04 487.02,161.30 487.15,159.98 487.29,162.29 487.43,161.61 487.57,157.28 487.71,161.84 487.85,161.99 487.99,161.80 488.13,157.65 488.27,159.50 488.40,159.93 488.54,161.53 488.68,160.59 488.82,160.90 488.96,161.31 489.10,158.89 489.24,159.38 489.38,162.67 489.52,162.38 489.66,161.30 489.79,157.34 489.93,164.72 490.07,160.40 490.21,163.36 490.35,161.73 490.49,161.86 490.63,161.62 490.77,160.98 490.91,159.62 491.05,162.32 491.18,164.15 491.32,159.90 491.46,158.83 491.60,159.62 491.74,163.61 491.88,159.53 492.02,158.92 492.16,162.11 492.30,160.49 492.44,161.04 492.57,157.43 492.71,158.41 492.85,163.41 492.99,156.90 493.13,162.90 493.27,159.55 493.41,159.29 493.55,163.29 493.69,161.11 493.83,161.22 493.96,160.04 494.10,160.23 494.24,158.08 494.38,161.18 494.52,160.98 494.66,159.23 494.80,158.89 494.94,160.02 495.08,162.66 495.22,163.31 495.35,162.87 495.49,162.72 495.63,160.26 495.77,158.15 495.91,160.40 496.05,156.57 496.19,158.48 496.33,161.04 496.47,163.33 496.61,157.71 496.74,161.36 496.88,160.00 497.02,161.62 497.16,162.39 497.30,163.68 497.44,160.16 497.58,162.43 497.72,154.71 497.86,162.13 498.00,163.85 498.13,159.92 498.27,159.65 498.41,161.03 498.55,160.67 498.69,164.84 498.83,162.71 498.97,163.28 499.11,164.26 499.25,162.18 499.39,165.28 499.52,164.10 499.66,161.47 499.80,162.47 499.94,160.97 500.08,161.29 500.22,158.75 500.36,159.16 500.50,159.60 500.64,161.37 500.78,160.68 500.91,160.53 501.05,162.08 501.19,162.28 501.33,160.83 501.47,163.21 501.61,160.57 501.75,161.70 501.89,161.06 502.03,162.48 502.16,163.16 502.30,159.68 502.44,161.55 502.58,163.13 502.72,160.53 502.86,162.70 503.00,163.05 503.14,159.96 503.28,162.13 503.42,161.90 503.55,161.40 503.69,158.87 503.83,161.19 503.97,163.60 504.11,160.64 504.25,162.22 504.39,157.75 504.53,160.22 504.67,164.60 504.81,160.53 504.94,158.54 505.08,158.51 505.22,157.40 505.36,163.78 505.50,159.51 505.64,161.92 505.78,161.19 505.92,163.95 506.06,162.77 506.20,161.73 506.33,159.64 506.47,160.08 506.61,161.13 506.75,164.10 506.89,161.83 507.03,162.97 507.17,159.17 507.31,159.56 507.45,160.12 507.59,162.37 507.72,167.54 507.86,165.09 508.00,159.18 508.14,161.98 508.28,161.85 508.42,159.59 508.56,158.48 508.70,161.67 508.84,161.72 508.98,162.38 509.11,160.19 509.25,157.90 509.39,160.49 509.53,160.71 509.67,159.04 509.81,162.75 509.95,159.67 510.09,161.17 510.23,165.42 510.37,165.86 510.50,162.60 510.64,160.58 510.78,161.10 510.92,161.32 511.06,157.89 511.20,165.89 511.34,161.19 511.48,161.72 511.62,161.95 511.76,160.27 511.89,164.01 512.03,158.63 512.17,163.69 512.31,157.42 512.45,160.32 512.59,159.94 512.73,162.47 512.87,161.43 513.01,161.98 513.15,160.11 513.28,160.98 513.42,162.28 513.56,161.65 513.70,163.24 513.84,157.73 513.98,161.00 514.12,158.95 514.26,162.19 514.40,161.97 514.53,164.90 514.67,161.41 514.81,160.59 514.95,158.46 515.09,161.26 515.23,159.89 515.37,160.27 515.51,157.61 515.65,162.62 515.79,156.94 515.92,162.10 516.06,162.52 516.20,163.18 516.34,156.57 516.48,160.24 516.62,161.83 516.76,159.71 516.90,160.97 517.04,158.08 517.18,164.30 517.31,162.30 517.45,162.82 517.59,166.08 517.73,160.40 517.87,162.74 518.01,160.22 518.15,157.50 518.29,162.05 518.43,163.06 518.57,161.91 518.70,159.05 518.84,163.07 518.98,162.49 519.12,159.72 519.26,160.69 519.40,164.95 519.54,163.44 519.68,158.60 519.82,161.62 519.96,161.99 520.09,161.64 520.23,161.56 520.37,159.32 520.51,164.54 520.65,162.71 520.79,160.38 520.93,162.50 521.07,159.96 521.21,163.68 521.35,159.92 521.48,160.27 521.62,160.51 521.76,161.39 521.90,162.86 522.04,163.13 522.18,162.32 522.32,159.98 522.46,161.57 522.60,163.61 522.74,162.07 522.87,161.86 523.01,162.58 523.15,160.78 523.29,160.56 523.43,159.55 523.57,158.78 523.71,160.57 523.85,163.41 523.99,163.33 524.13,160.89 524.26,161.81 524.40,163.61 524.54,161.91 524.68,162.55 524.82,163.47 524.96,162.26 525.10,159.95 525.24,161.75 525.38,155.57 525.52,161.51 525.65,162.45 525.79,161.58 525.93,161.44 526.07,162.21 526.21,157.00 526.35,162.85 526.49,160.09 526.63,161.48 526.77,165.14 526.91,159.70 527.04,159.09 527.18,165.76 527.32,160.57 527.46,165.18 527.60,164.39 527.74,159.36 527.88,162.26 528.02,163.37 528.16,161.80 528.29,163.34 528.43,162.48 528.57,159.90 528.71,164.68 528.85,164.23 528.99,160.85 529.13,160.43 529.27,160.19 529.41,163.91 529.55,160.06 529.68,164.43 529.82,158.78 529.96,163.67 530.10,159.79 530.24,162.67 530.38,157.38 530.52,160.05 530.66,163.12 530.80,163.46 530.94,160.74 531.07,159.78 531.21,161.93 531.35,161.59 531.49,160.20 531.63,161.78 531.77,163.91 531.91,162.78 532.05,161.45 532.19,159.54 532.33,159.15 532.46,161.01 532.60,162.31 532.74,160.59 532.88,163.01 533.02,163.42 533.16,163.99 533.30,164.70 533.44,161.76 533.58,161.49 533.72,161.44 533.85,161.36 533.99,161.65 534.13,160.73 534.27,162.74 534.41,161.70 534.55,163.46 534.69,161.98 534.83,161.72 534.97,164.13 535.11,162.31 535.24,164.10 535.38,163.40 535.52,162.70 535.66,160.70 535.80,160.46 535.94,159.14 536.08,158.15 536.22,163.09 536.36,156.34 536.50,162.63 536.63,160.58 536.77,163.25 536.91,161.99 537.05,160.87 537.19,162.19 537.33,159.31 537.47,161.86 537.61,162.28 537.75,163.18 537.89,161.34 538.02,162.21 538.16,163.66 538.30,163.36 538.44,157.77 538.58,162.86 538.72,163.78 538.86,163.40 539.00,162.41 539.14,159.51 539.28,161.78 539.41,160.28 539.55,164.22 539.69,161.51 539.83,164.38 539.97,163.23 540.11,164.32 540.25,164.13 540.39,159.75 540.53,161.28 540.66,160.37 540.80,161.91 540.94,161.14 541.08,165.56 541.22,160.51 541.36,161.65 541.50,160.21 541.64,161.66 541.78,164.34 541.92,165.44 542.05,163.58 542.19,161.32 542.33,161.09 542.47,164.74 542.61,164.03 542.75,163.75 542.89,163.62 543.03,164.80 543.17,166.66 543.31,164.46 543.44,162.46 543.58,164.19 543.72,162.96 543.86,160.29 544.00,164.95 544.14,163.08 544.28,160.91 544.42,162.84 544.56,163.39 544.70,160.18 544.83,163.29 544.97,160.86 545.11,161.67 545.25,163.07 545.39,161.83 545.53,161.16 545.67,160.26 545.81,162.89 545.95,162.23 546.09,162.48 546.22,159.90 546.36,164.57 546.50,161.28 546.64,162.71 546.78,164.39 546.92,159.34 547.06,158.72 547.20,161.14 547.34,159.72 547.48,161.64 547.61,166.01 547.75,166.91 547.89,161.05 548.03,163.33 548.17,164.25 548.31,162.49 548.45,161.30 548.59,165.66 548.73,163.79 548.87,159.26 549.00,165.92 549.14,161.16 549.28,163.42 549.42,161.25 549.56,160.21 549.70,161.56 549.84,161.16 549.98,164.61 550.12,160.22 550.26,165.02 550.39,161.83 550.53,162.79 550.67,162.11 550.81,162.81 550.95,164.07 551.09,165.51 551.23,160.56 551.37,162.69 551.51,160.80 551.65,162.11 551.78,165.11 551.92,160.14 552.06,162.99 552.20,161.74 552.34,164.15 552.48,159.79 552.62,163.87 552.76,162.81 552.90,162.55 553.03,164.09 553.17,161.47 553.31,159.03 553.45,163.35 553.59,161.24 553.73,168.68 553.87,163.25 554.01,163.76 554.15,163.53 554.29,160.01 554.42,162.50 554.56,163.63 554.70,163.41 554.84,166.48 554.98,164.09 555.12,159.29 555.26,166.16 555.40,164.03 555.54,162.30 555.68,159.70 555.81,161.45 555.95,163.32 556.09,160.62 556.23,164.48 556.37,161.11 556.51,164.71 556.65,159.87 556.79,162.78 556.93,165.04 557.07,161.53 557.20,163.11 557.34,164.18 557.48,161.77 557.62,163.26 557.76,161.25 557.90,161.96 558.04,163.19 558.18,164.12 558.32,161.73 558.46,161.13 558.59,158.24 558.73,160.82 558.87,162.18 559.01,157.50 559.15,161.55 559.29,161.82 559.43,162.11 559.57,165.29 559.71,163.06 559.85,163.59 559.98,160.72 560.12,163.29 560.26,162.25 560.40,161.43 560.54,161.11 560.68,164.58 560.82,164.75 560.96,160.96 561.10,160.08 561.24,167.30 561.37,164.20 561.51,161.84 561.65,160.08 561.79,160.50 561.93,161.40 562.07,161.57 562.21,162.95 562.35,164.19 562.49,163.19 562.63,162.26 562.76,162.87 562.90,165.86 563.04,162.86 563.18,162.74 563.32,163.69 563.46,163.18 563.60,161.47 563.74,164.96 563.88,165.90 564.02,164.15 564.15,161.11 564.29,160.31 564.43,161.19 564.57,165.12 564.71,163.51 564.85,162.34 564.99,162.67 565.13,161.30 565.27,164.38 565.41,162.37 565.54,161.01 565.68,162.27 565.82,163.68 565.96,163.92 566.10,167.75 566.24,163.51 566.38,164.09 566.52,165.65 566.66,163.26 566.79,163.33 566.93,166.83 567.07,163.04 567.21,164.10 567.35,162.62 567.49,165.26 567.63,163.42 567.77,163.21 567.91,162.08 568.05,162.97 568.18,163.40 568.32,165.96 568.46,166.60 568.60,163.57 568.74,163.04 568.88,165.25 569.02,162.24 569.16,163.37 569.30,165.36 569.44,162.63 569.57,162.83 569.71,162.16 569.85,158.74 569.99,163.95 570.13,163.34 570.27,162.54 570.41,162.07 570.55,164.10 570.69,165.61 570.83,164.02 570.96,165.10 571.10,166.79 571.24,164.83 571.38,165.12 571.52,162.00 571.66,161.66 571.80,164.13 571.94,163.32 572.08,167.00 572.22,163.67 572.35,162.57 572.49,160.32 572.63,164.65 572.77,161.31 572.91,164.66 573.05,165.30 573.19,162.91 573.33,160.44 573.47,162.18 573.61,162.83 573.74,167.60 573.88,166.72 574.02,163.04 574.16,163.73 574.30,166.01 574.44,162.61 574.58,163.73 574.72,161.75 574.86,162.65 575.00,160.14 575.13,162.53 575.27,163.58 575.41,159.97 575.55,165.35 575.69,157.44 575.83,162.35 575.97,162.50 576.11,161.66 576.25,159.70 576.39,160.77 576.52,167.05 576.66,159.74 576.80,163.35 576.94,161.91 577.08,165.60 577.22,161.91 577.36,163.57 577.50,162.77 577.64,163.26 577.78,158.59 577.91,159.22 578.05,164.13 578.19,163.16 578.33,163.24 578.47,161.54 578.61,162.80 578.75,163.31 578.89,161.13 579.03,164.65 579.16,163.30 579.30,165.50 579.44,162.38 579.58,159.51 579.72,162.55 579.86,159.69 580.00,164.57 580.14,162.42 580.28,164.16 580.42,163.27 580.55,162.00 580.69,163.30 580.83,165.06 580.97,165.12 581.11,166.57 581.25,162.93 581.39,159.56 581.53,161.17 581.67,167.33 581.81,160.84 581.94,161.48 582.08,166.05 582.22,162.59 582.36,161.25 582.50,162.22 582.64,164.84 582.78,161.80 582.92,167.07 583.06,163.22 583.20,161.48 583.33,161.72 583.47,163.20 583.61,161.93 583.75,160.96 583.89,161.81 584.03,161.26 584.17,161.60 584.31,162.08 584.45,162.08 584.59,162.40 584.72,163.25 584.86,165.23 585.00,164.68 585.14,163.82 585.28,163.35 585.42,160.23 585.56,162.16 585.70,161.27 585.84,161.02 585.98,162.80 586.11,162.44 586.25,163.19 586.39,160.93 586.53,162.06 586.67,165.70 586.81,162.49 586.95,160.19 587.09,162.97 587.23,162.04 587.37,162.55 587.50,164.84 587.64,161.68 587.78,165.34 587.92,164.41 588.06,160.91 588.20,162.18 588.34,163.64 588.48,162.46 588.62,162.94 588.76,162.71 588.89,161.61 589.03,165.18 589.17,163.11 589.31,163.14 589.45,166.32 589.59,164.40 589.73,159.19 589.87,161.86 590.01,165.25 590.15,166.05 590.28,162.76 590.42,160.07 590.56,163.91 590.70,160.40 590.84,161.71 590.98,162.56 591.12,164.51 591.26,160.43 591.40,164.20 591.54,162.28 591.67,163.93 591.81,162.12 591.95,162.05 592.09,162.84 592.23,161.91 592.37,163.72 592.51,163.72 592.65,159.76 592.79,160.85 592.92,164.71 593.06,161.56 593.20,163.70 593.34,165.26 593.48,161.32 593.62,165.89 593.76,161.52 593.90,164.24 594.04,163.01 594.18,162.18 594.31,162.18 594.45,164.89 594.59,161.04 594.73,162.67 594.87,165.85 595.01,164.17 595.15,160.89 595.29,160.14 595.43,161.90 595.57,165.25 595.70,161.78 595.84,161.03 595.98,162.56 596.12,161.29 596.26,163.15 596.40,161.88 596.54,164.46 596.68,166.67 596.82,162.28 596.96,163.05 597.09,161.76 597.23,165.69 597.37,162.14 597.51,158.86 597.65,163.69 597.79,162.91 597.93,161.89 598.07,159.20 598.21,165.79 598.35,163.49 598.48,164.31 598.62,161.55 598.76,162.95 598.90,159.83 599.04,159.54 599.18,162.92 599.32,163.42 599.46,159.48 599.60,164.63 599.74,165.23 599.87,166.14 600.01,160.38 600.15,161.28 600.29,159.12 600.43,166.15 600.57,160.84 600.71,163.56 600.85,162.23 600.99,166.61 601.13,161.36 601.26,160.95 601.40,162.97 601.54,162.71 601.68,164.93 601.82,163.04 601.96,164.75 602.10,166.92 602.24,161.77 602.38,160.09 602.52,164.17 602.65,162.89 602.79,163.33 602.93,162.39 603.07,164.55 603.21,165.62 603.35,160.56 603.49,163.07 603.63,160.01 603.77,163.24 603.91,165.58 604.04,161.61 604.18,163.12 604.32,161.96 604.46,161.74 604.60,165.33 604.74,163.55 604.88,162.73 605.02,165.27 605.16,163.33 605.29,161.53 605.43,162.59 605.57,165.66 605.71,166.07 605.85,158.95 605.99,164.25 606.13,166.19 606.27,164.21 606.41,165.46 606.55,161.24 606.68,164.26 606.82,161.50 606.96,163.91 607.10,162.10 607.24,162.98 607.38,161.92 607.52,162.30 607.66,162.35 607.80,162.68 607.94,164.03 608.07,159.74 608.21,164.91 608.35,163.28 608.49,164.04 608.63,162.68 608.77,164.50 608.91,161.92 609.05,164.48 609.19,166.19 609.33,163.29 609.46,165.73 609.60,165.76 609.74,162.63 609.88,162.48 610.02,161.59 610.16,161.06 610.30,166.40 610.44,165.94 610.58,160.04 610.72,165.33 610.85,162.30 610.99,165.17 611.13,162.93 611.27,164.51 611.41,162.17 611.55,163.78 611.69,164.68 611.83,166.49 611.97,163.58 612.11,165.84 612.24,162.27 612.38,157.42 612.52,160.77 612.66,161.21 612.80,163.33 612.94,166.73 613.08,164.68 613.22,161.11 613.36,164.99 613.50,164.51 613.63,163.35 613.77,165.39 613.91,165.61 614.05,163.92 614.19,164.28 614.33,166.01 614.47,164.58 614.61,162.11 614.75,164.74 614.89,163.65 615.02,162.94 615.16,163.53 615.30,164.35 615.44,162.72 615.58,162.60 615.72,162.07 615.86,163.41 616.00,164.81 616.14,165.61 616.28,161.93 616.41,161.28 616.55,163.56 616.69,163.13 616.83,164.31 616.97,162.27 617.11,161.83 617.25,162.79 617.39,163.67 617.53,161.68 617.67,163.21 617.80,161.86 617.94,163.40 618.08,162.49 618.22,165.18 618.36,162.27 618.50,158.68 618.64,164.44 618.78,162.21 618.92,163.28 619.05,163.66 619.19,160.11 619.33,163.82 619.47,164.04 619.61,165.77 619.75,164.29 619.89,167.13 620.03,161.96 620.17,159.83 620.31,164.04 620.44,167.11 620.58,162.42 620.72,165.07 620.86,161.92 621.00,164.18 621.14,164.51 621.28,164.26 621.42,162.50 621.56,163.34 621.70,164.51 621.83,163.46 621.97,166.39 622.11,162.96 622.25,166.79 622.39,163.76 622.53,162.72 622.67,163.34 622.81,162.74 622.95,163.53 623.09,162.01 623.22,161.66 623.36,162.72 623.50,162.07 623.64,162.14 623.78,164.07 623.92,165.61 624.06,163.08 624.20,162.46 624.34,161.90 624.48,166.13 624.61,164.20 624.75,163.00 624.89,163.61 625.03,166.27 625.17,162.04 625.31,167.85 625.45,164.98 625.59,160.92 625.73,160.64 625.87,165.00 626.00,165.06 626.14,162.51 626.28,160.01 626.42,164.97 626.56,164.82 626.70,161.92 626.84,164.41 626.98,162.52 627.12,166.62 627.26,163.77 627.39,166.13 627.53,165.75 627.67,161.70 627.81,163.63 627.95,163.97 628.09,165.20 628.23,164.31 628.37,163.50 628.51,161.94 628.65,168.19 628.78,165.33 628.92,163.90 629.06,163.34 629.20,162.67 629.34,161.60 629.48,164.56 629.62,164.63 629.76,162.35 629.90,161.47 630.04,165.71 630.17,163.98 630.31,162.71 630.45,161.09 630.59,163.50 630.73,161.99 630.87,161.06 631.01,164.35 631.15,162.81 631.29,164.60 631.42,164.65 631.56,161.13 631.70,163.43 631.84,162.62 631.98,165.35 632.12,164.54 632.26,160.08 632.40,163.46 632.54,164.90 632.68,160.72 632.81,163.42 632.95,163.67 633.09,163.37 633.23,164.78 633.37,164.09 633.51,166.07 633.65,163.86 633.79,163.49 633.93,159.59 634.07,162.67 634.20,167.88 634.34,164.16 634.48,159.08 634.62,162.24 634.76,165.31 634.90,161.69 635.04,164.97 635.18,165.98 635.32,164.59 635.46,163.87 635.59,167.29 635.73,165.18 635.87,163.51 636.01,164.36 636.15,162.46 636.29,167.03 636.43,162.35 636.57,166.01 636.71,160.17 636.85,166.84 636.98,165.76 637.12,162.34 637.26,160.86 637.40,162.64 637.54,162.73 637.68,163.04 637.82,165.77 637.96,163.69 638.10,165.00 638.24,165.55 638.37,161.87 638.51,166.61 638.65,163.59 638.79,166.44 638.93,162.83 639.07,164.79 639.21,161.58 639.35,162.41 639.49,159.78 639.63,164.70 639.76,163.38 639.90,165.51 640.04,165.21 640.18,164.46 640.32,163.73 640.46,166.08 640.60,166.63 640.74,167.54 640.88,165.17 641.02,162.43 641.15,166.96 641.29,166.81 641.43,160.03 641.57,164.32 641.71,162.87 641.85,162.03 641.99,162.11 642.13,164.99 642.27,164.05 642.41,166.92 642.54,158.57 642.68,166.63 642.82,166.91 642.96,166.03 643.10,167.28 643.24,161.76 643.38,159.23 643.52,165.64 643.66,166.77 643.80,168.01 643.93,164.19 644.07,164.64 644.21,164.88 644.35,163.48 644.49,162.27 644.63,163.03 644.77,164.39 644.91,165.81 645.05,162.75 645.18,163.82 645.32,161.21 645.46,162.25 645.60,166.68 645.74,167.11 645.88,165.08 646.02,165.44 646.16,163.06 646.30,163.05 646.44,162.09 646.57,163.12 646.71,164.38 646.85,161.82 646.99,162.25 647.13,163.28 647.27,159.89 647.41,163.10 647.55,163.83 647.69,164.07 647.83,162.36 647.96,161.37 648.10,164.18 648.24,160.28 648.38,167.35 648.52,164.23 648.66,163.10 648.80,165.86 648.94,158.49 649.08,163.60 649.22,164.45 649.35,163.46 649.49,168.65 649.63,165.06 649.77,161.99 649.91,163.22 650.05,165.21 650.19,162.16 650.33,162.32 650.47,161.49 650.61,165.03 650.74,164.14 650.88,165.29 651.02,165.27 651.16,165.15 651.30,165.07 651.44,165.10 651.58,166.48 651.72,162.99 651.86,163.12 652.00,159.78 652.13,164.48 652.27,163.60 652.41,162.71 652.55,163.97 652.69,163.01 652.83,163.03 652.97,162.93 653.11,163.35 653.25,165.02 653.39,166.45 653.52,165.32 653.66,164.96 653.80,165.68 653.94,163.57 654.08,162.07 654.22,165.67 654.36,163.22 654.50,166.40 654.64,163.14 654.78,165.61 654.91,162.97 655.05,164.98 655.19,161.32 655.33,164.12 655.47,165.29 655.61,166.70"/></g>
<g stroke="#6a6a6a" stroke-width="1.7" stroke-linecap="square" fill="none"><line x1="71.7" y1="20.8" x2="71.7" y2="226.4"/><line x1="71.7" y1="226.4" x2="683.4" y2="226.4"/></g>
<text transform="translate(61.8,221.50) scale(1,1.02)" font-size="16.85" text-anchor="end">0.00</text><text transform="translate(61.8,179.03) scale(1,1.02)" font-size="16.85" text-anchor="end">0.25</text><text transform="translate(61.8,136.55) scale(1,1.02)" font-size="16.85" text-anchor="end">0.50</text><text transform="translate(61.8,94.08) scale(1,1.02)" font-size="16.85" text-anchor="end">0.75</text><text transform="translate(61.8,51.60) scale(1,1.02)" font-size="16.85" text-anchor="end">1.00</text><text transform="translate(99.79,249.7) scale(1,1.02)" font-size="16.85" text-anchor="middle">0</text><text transform="translate(169.29,249.7) scale(1,1.02)" font-size="16.85" text-anchor="middle">500</text><text transform="translate(238.78,249.7) scale(1,1.02)" font-size="16.85" text-anchor="middle">1000</text><text transform="translate(308.27,249.7) scale(1,1.02)" font-size="16.85" text-anchor="middle">1500</text><text transform="translate(377.77,249.7) scale(1,1.02)" font-size="16.85" text-anchor="middle">2000</text><text transform="translate(447.26,249.7) scale(1,1.02)" font-size="16.85" text-anchor="middle">2500</text><text transform="translate(516.76,249.7) scale(1,1.02)" font-size="16.85" text-anchor="middle">3000</text><text transform="translate(586.25,249.7) scale(1,1.02)" font-size="16.85" text-anchor="middle">3500</text><text transform="translate(655.75,249.7) scale(1,1.02)" font-size="16.85" text-anchor="middle">4000</text>
<text transform="translate(377.0,271.5) scale(1,1.0)" font-size="17.0" text-anchor="middle">Training Iterations</text><text transform="translate(14.5,124.55) rotate(-90) scale(1,1.09)" font-size="17.0" text-anchor="middle">Normalized Objective Value</text><text transform="translate(72.0,13.7) scale(1,1.09)" font-size="15.55">Convergence of Objective Function and Risk Term</text>
<line x1="523.6" y1="39.70" x2="551.9" y2="39.70" stroke="#9a84cc" stroke-width="2.1" stroke-linecap="round"/><text x="563.5" y="45.10" font-size="14.05">Expected Cost</text><line x1="523.6" y1="60.50" x2="551.9" y2="60.50" stroke="#c2b6e2" stroke-width="2.1" stroke-linecap="round"/><text x="563.5" y="65.90" font-size="14.05">Risk Term</text><line x1="523.6" y1="81.30" x2="551.9" y2="81.30" stroke="#7564ae" stroke-width="3.0" stroke-linecap="round"/><text x="563.5" y="86.70" font-size="14.05">Total Objective</text>
</svg>
</body></html>
